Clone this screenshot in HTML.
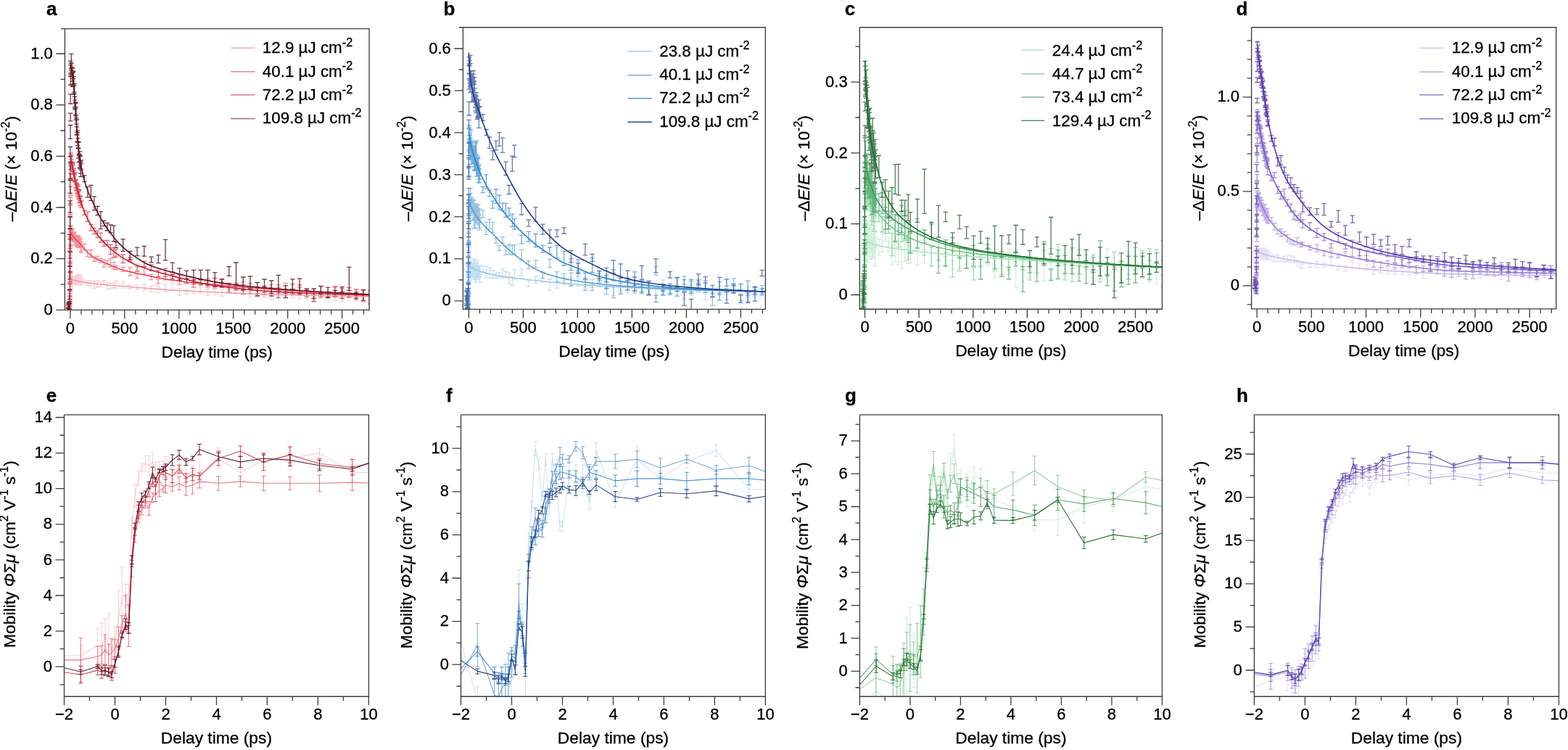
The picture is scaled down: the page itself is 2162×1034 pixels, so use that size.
<!DOCTYPE html>
<html><head><meta charset="utf-8"><title>Figure</title><style>html,body{margin:0;padding:0;background:#fff;overflow:hidden}svg{display:block}</style></head><body>
<svg width="2162" height="1034" viewBox="0 0 2162 1034" font-family="'Liberation Sans', Arial, Helvetica, sans-serif" font-size="22" fill="#000" stroke="#000" stroke-width="0.3">
<rect width="100%" height="100%" fill="#fff" stroke="none"/>
<defs><clipPath id="cpa"><rect stroke="none" x="89.4" y="39.6" width="419.7" height="387.8"/></clipPath><clipPath id="cpb"><rect stroke="none" x="638.4" y="37.7" width="417.0" height="388.6"/></clipPath><clipPath id="cpc"><rect stroke="none" x="1185.3" y="37.7" width="417.1" height="388.5"/></clipPath><clipPath id="cpd"><rect stroke="none" x="1725.6" y="37.7" width="420.0" height="388.2"/></clipPath><clipPath id="cpe"><rect stroke="none" x="88.5" y="571.8" width="419.9" height="388.4"/></clipPath><clipPath id="cpf"><rect stroke="none" x="635.5" y="571.8" width="419.9" height="388.4"/></clipPath><clipPath id="cpg"><rect stroke="none" x="1185.4" y="571.8" width="417.0" height="388.4"/></clipPath><clipPath id="cph"><rect stroke="none" x="1729.4" y="571.8" width="420.0" height="388.4"/></clipPath></defs>
<g clip-path="url(#cpa)">
<path d="M93.9,424.0V433.7M90.7,424.0h6.4M90.7,433.7h6.4M94.3,422.0V430.3M91.1,422.0h6.4M91.1,430.3h6.4M94.7,424.8V433.4M91.5,424.8h6.4M91.5,433.4h6.4M95.0,425.3V430.8M91.8,425.3h6.4M91.8,430.8h6.4M95.4,421.4V429.2M92.2,421.4h6.4M92.2,429.2h6.4M95.8,425.5V432.4M92.6,425.5h6.4M92.6,432.4h6.4M96.2,425.0V432.0M93.0,425.0h6.4M93.0,432.0h6.4M96.2,420.4V429.7M93.0,420.4h6.4M93.0,429.7h6.4M96.3,418.2V426.5M93.1,418.2h6.4M93.1,426.5h6.4M96.4,415.1V420.7M93.2,415.1h6.4M93.2,420.7h6.4M96.5,412.7V422.5M93.3,412.7h6.4M93.3,422.5h6.4M96.6,409.5V415.9M93.4,409.5h6.4M93.4,415.9h6.4M96.7,404.2V409.3M93.5,404.2h6.4M93.5,409.3h6.4M96.8,403.4V410.0M93.6,403.4h6.4M93.6,410.0h6.4M96.8,401.9V408.8M93.6,401.9h6.4M93.6,408.8h6.4M96.9,395.7V405.1M93.7,395.7h6.4M93.7,405.1h6.4M97.0,393.6V400.7M93.8,393.6h6.4M93.8,400.7h6.4M97.1,391.4V398.8M93.9,391.4h6.4M93.9,398.8h6.4M97.2,389.3V395.8M94.0,389.3h6.4M94.0,395.8h6.4M97.3,384.5V392.9M94.1,384.5h6.4M94.1,392.9h6.4M97.3,384.8V391.0M94.1,384.8h6.4M94.1,391.0h6.4M97.5,379.5V388.9M94.3,379.5h6.4M94.3,388.9h6.4M97.9,381.8V388.8M94.7,381.8h6.4M94.7,388.8h6.4M98.3,377.1V385.3M95.1,377.1h6.4M95.1,385.3h6.4M98.7,380.8V387.7M95.5,380.8h6.4M95.5,387.7h6.4M99.1,383.0V390.4M95.9,383.0h6.4M95.9,390.4h6.4M99.4,386.3V394.8M96.2,386.3h6.4M96.2,394.8h6.4M99.8,382.9V389.5M96.6,382.9h6.4M96.6,389.5h6.4M100.2,383.7V389.0M97.0,383.7h6.4M97.0,389.0h6.4M100.6,383.4V390.8M97.4,383.4h6.4M97.4,390.8h6.4M101.0,382.2V391.4M97.8,382.2h6.4M97.8,391.4h6.4M101.4,381.0V389.5M98.2,381.0h6.4M98.2,389.5h6.4M101.8,383.2V390.3M98.6,383.2h6.4M98.6,390.3h6.4M102.2,381.2V390.7M99.0,381.2h6.4M99.0,390.7h6.4M102.6,381.7V387.5M99.4,381.7h6.4M99.4,387.5h6.4M103.0,385.9V391.4M99.8,385.9h6.4M99.8,391.4h6.4M103.3,382.4V391.0M100.1,382.4h6.4M100.1,391.0h6.4M103.7,383.4V391.8M100.5,383.4h6.4M100.5,391.8h6.4M104.1,382.3V390.6M100.9,382.3h6.4M100.9,390.6h6.4M104.5,383.7V392.0M101.3,383.7h6.4M101.3,392.0h6.4M104.9,387.2V392.4M101.7,387.2h6.4M101.7,392.4h6.4M105.3,384.3V391.7M102.1,384.3h6.4M102.1,391.7h6.4M105.7,383.4V390.8M102.5,383.4h6.4M102.5,390.8h6.4M106.1,382.1V389.9M102.9,382.1h6.4M102.9,389.9h6.4M106.5,382.0V388.5M103.3,382.0h6.4M103.3,388.5h6.4M106.9,378.8V386.9M103.7,378.8h6.4M103.7,386.9h6.4M107.2,380.3V388.5M104.0,380.3h6.4M104.0,388.5h6.4M107.6,382.4V392.0M104.4,382.4h6.4M104.4,392.0h6.4M108.0,380.5V388.6M104.8,380.5h6.4M104.8,388.6h6.4M108.4,384.4V389.7M105.2,384.4h6.4M105.2,389.7h6.4M108.8,384.5V393.0M105.6,384.5h6.4M105.6,393.0h6.4M109.2,378.5V388.0M106.0,378.5h6.4M106.0,388.0h6.4M109.6,385.6V391.0M106.4,385.6h6.4M106.4,391.0h6.4M110.0,384.2V390.5M106.8,384.2h6.4M106.8,390.5h6.4M110.4,381.1V390.1M107.2,381.1h6.4M107.2,390.1h6.4M110.7,385.0V392.6M107.5,385.0h6.4M107.5,392.6h6.4M111.1,380.5V388.2M107.9,380.5h6.4M107.9,388.2h6.4M111.5,383.8V392.8M108.3,383.8h6.4M108.3,392.8h6.4M111.9,383.5V390.6M108.7,383.5h6.4M108.7,390.6h6.4M116.4,385.8V390.9M113.2,385.8h6.4M113.2,390.9h6.4M120.9,387.4V393.9M117.7,387.4h6.4M117.7,393.9h6.4M125.4,387.0V395.1M122.2,387.0h6.4M122.2,395.1h6.4M129.9,387.5V397.5M126.7,387.5h6.4M126.7,397.5h6.4M134.4,387.0V396.3M131.2,387.0h6.4M131.2,396.3h6.4M138.9,388.2V395.4M135.7,388.2h6.4M135.7,395.4h6.4M143.4,386.6V392.3M140.2,386.6h6.4M140.2,392.3h6.4M147.9,389.1V398.8M144.7,389.1h6.4M144.7,398.8h6.4M152.4,390.8V398.0M149.2,390.8h6.4M149.2,398.0h6.4M156.9,389.8V396.6M153.7,389.8h6.4M153.7,396.6h6.4M159.9,387.4V397.3M156.7,387.4h6.4M156.7,397.3h6.4M169.6,387.8V397.1M166.4,387.8h6.4M166.4,397.1h6.4M179.3,392.6V397.8M176.1,392.6h6.4M176.1,397.8h6.4M189.1,392.3V398.5M185.9,392.3h6.4M185.9,398.5h6.4M198.8,391.4V400.5M195.6,391.4h6.4M195.6,400.5h6.4M208.6,393.9V402.8M205.4,393.9h6.4M205.4,402.8h6.4M218.3,394.5V403.3M215.1,394.5h6.4M215.1,403.3h6.4M228.1,392.1V401.9M224.9,392.1h6.4M224.9,401.9h6.4M237.8,390.8V400.4M234.6,390.8h6.4M234.6,400.4h6.4M247.5,397.6V406.9M244.3,397.6h6.4M244.3,406.9h6.4M257.3,400.1V405.4M254.1,400.1h6.4M254.1,405.4h6.4M267.0,395.7V405.1M263.8,395.7h6.4M263.8,405.1h6.4M276.8,396.3V404.8M273.6,396.3h6.4M273.6,404.8h6.4M286.5,398.3V407.7M283.3,398.3h6.4M283.3,407.7h6.4M296.3,399.7V405.9M293.1,399.7h6.4M293.1,405.9h6.4M306.0,399.1V408.4M302.8,399.1h6.4M302.8,408.4h6.4M315.7,397.4V403.8M312.5,397.4h6.4M312.5,403.8h6.4M325.5,399.9V404.9M322.3,399.9h6.4M322.3,404.9h6.4M335.2,398.3V404.6M332.0,398.3h6.4M332.0,404.6h6.4M345.0,402.2V409.8M341.8,402.2h6.4M341.8,409.8h6.4M354.7,399.2V406.9M351.5,399.2h6.4M351.5,406.9h6.4M364.5,403.1V409.5M361.3,403.1h6.4M361.3,409.5h6.4M374.2,406.5V412.9M371.0,406.5h6.4M371.0,412.9h6.4M383.9,406.1V412.3M380.7,406.1h6.4M380.7,412.3h6.4M393.7,398.9V407.6M390.5,398.9h6.4M390.5,407.6h6.4M403.4,402.4V410.8M400.2,402.4h6.4M400.2,410.8h6.4M413.2,406.9V412.2M410.0,406.9h6.4M410.0,412.2h6.4M422.9,403.3V412.4M419.7,403.3h6.4M419.7,412.4h6.4M432.7,407.8V415.4M429.5,407.8h6.4M429.5,415.4h6.4M442.4,402.5V411.1M439.2,402.5h6.4M439.2,411.1h6.4M452.1,400.7V410.4M448.9,400.7h6.4M448.9,410.4h6.4M461.9,406.4V414.2M458.7,406.4h6.4M458.7,414.2h6.4M471.6,407.6V415.3M468.4,407.6h6.4M468.4,415.3h6.4M481.4,404.2V409.9M478.2,404.2h6.4M478.2,409.9h6.4M491.1,408.8V414.7M487.9,408.8h6.4M487.9,414.7h6.4M500.9,406.0V411.6M497.7,406.0h6.4M497.7,411.6h6.4M510.6,402.0V411.8M507.4,402.0h6.4M507.4,411.8h6.4" fill="none" stroke="#f0aab4" stroke-width="1.3" stroke-opacity="0.55"/>
<path d="M93.9,419.5V431.2M90.7,419.5h6.4M90.7,431.2h6.4M94.3,425.4V435.8M91.1,425.4h6.4M91.1,435.8h6.4M94.7,419.9V430.2M91.5,419.9h6.4M91.5,430.2h6.4M95.0,424.0V431.7M91.8,424.0h6.4M91.8,431.7h6.4M95.4,426.0V431.7M92.2,426.0h6.4M92.2,431.7h6.4M95.8,426.2V432.5M92.6,426.2h6.4M92.6,432.5h6.4M96.2,424.6V431.5M93.0,424.6h6.4M93.0,431.5h6.4M96.2,416.0V424.4M93.0,416.0h6.4M93.0,424.4h6.4M96.3,404.6V415.3M93.1,404.6h6.4M93.1,415.3h6.4M96.4,400.0V408.8M93.2,400.0h6.4M93.2,408.8h6.4M96.5,391.9V399.6M93.3,391.9h6.4M93.3,399.6h6.4M96.6,381.9V387.7M93.4,381.9h6.4M93.4,387.7h6.4M96.7,376.3V387.8M93.5,376.3h6.4M93.5,387.8h6.4M96.8,364.2V374.2M93.6,364.2h6.4M93.6,374.2h6.4M96.8,360.5V367.2M93.6,360.5h6.4M93.6,367.2h6.4M96.9,354.8V360.8M93.7,354.8h6.4M93.7,360.8h6.4M97.0,340.1V351.8M93.8,340.1h6.4M93.8,351.8h6.4M97.1,337.1V346.6M93.9,337.1h6.4M93.9,346.6h6.4M97.2,326.6V338.5M94.0,326.6h6.4M94.0,338.5h6.4M97.3,319.0V329.4M94.1,319.0h6.4M94.1,329.4h6.4M97.3,316.6V322.4M94.1,316.6h6.4M94.1,322.4h6.4M97.5,316.3V321.9M94.3,316.3h6.4M94.3,321.9h6.4M97.9,312.1V321.3M94.7,312.1h6.4M94.7,321.3h6.4M98.3,319.6V326.3M95.1,319.6h6.4M95.1,326.3h6.4M98.7,317.2V325.1M95.5,317.2h6.4M95.5,325.1h6.4M99.1,319.3V327.6M95.9,319.3h6.4M95.9,327.6h6.4M99.4,325.1V330.7M96.2,325.1h6.4M96.2,330.7h6.4M99.8,319.8V326.0M96.6,319.8h6.4M96.6,326.0h6.4M100.2,315.5V327.4M97.0,315.5h6.4M97.0,327.4h6.4M100.6,323.5V329.1M97.4,323.5h6.4M97.4,329.1h6.4M101.0,321.7V331.9M97.8,321.7h6.4M97.8,331.9h6.4M101.4,323.1V329.9M98.2,323.1h6.4M98.2,329.9h6.4M101.8,321.1V331.5M98.6,321.1h6.4M98.6,331.5h6.4M102.2,324.3V332.3M99.0,324.3h6.4M99.0,332.3h6.4M102.6,324.0V332.7M99.4,324.0h6.4M99.4,332.7h6.4M103.0,320.2V330.3M99.8,320.2h6.4M99.8,330.3h6.4M103.3,325.2V333.8M100.1,325.2h6.4M100.1,333.8h6.4M103.7,326.7V338.5M100.5,326.7h6.4M100.5,338.5h6.4M104.1,325.9V332.7M100.9,325.9h6.4M100.9,332.7h6.4M104.5,325.8V335.9M101.3,325.8h6.4M101.3,335.9h6.4M104.9,324.4V332.8M101.7,324.4h6.4M101.7,332.8h6.4M105.3,325.9V333.6M102.1,325.9h6.4M102.1,333.6h6.4M105.7,328.4V338.2M102.5,328.4h6.4M102.5,338.2h6.4M106.1,326.2V336.1M102.9,326.2h6.4M102.9,336.1h6.4M106.5,328.3V340.0M103.3,328.3h6.4M103.3,340.0h6.4M106.9,325.5V330.8M103.7,325.5h6.4M103.7,330.8h6.4M107.2,324.9V333.6M104.0,324.9h6.4M104.0,333.6h6.4M107.6,325.2V334.2M104.4,325.2h6.4M104.4,334.2h6.4M108.0,330.5V341.0M104.8,330.5h6.4M104.8,341.0h6.4M108.4,332.1V341.6M105.2,332.1h6.4M105.2,341.6h6.4M108.8,328.6V335.7M105.6,328.6h6.4M105.6,335.7h6.4M109.2,331.8V340.4M106.0,331.8h6.4M106.0,340.4h6.4M109.6,326.6V335.7M106.4,326.6h6.4M106.4,335.7h6.4M110.0,332.7V340.5M106.8,332.7h6.4M106.8,340.5h6.4M110.4,330.0V340.9M107.2,330.0h6.4M107.2,340.9h6.4M110.7,329.5V339.5M107.5,329.5h6.4M107.5,339.5h6.4M111.1,334.5V341.2M107.9,334.5h6.4M107.9,341.2h6.4M111.5,338.5V346.3M108.3,338.5h6.4M108.3,346.3h6.4M111.9,336.8V348.3M108.7,336.8h6.4M108.7,348.3h6.4M116.4,336.3V343.9M113.2,336.3h6.4M113.2,343.9h6.4M120.9,344.7V353.6M117.7,344.7h6.4M117.7,353.6h6.4M125.4,344.5V355.2M122.2,344.5h6.4M122.2,355.2h6.4M129.9,354.8V360.4M126.7,354.8h6.4M126.7,360.4h6.4M134.4,353.2V358.7M131.2,353.2h6.4M131.2,358.7h6.4M138.9,356.5V361.8M135.7,356.5h6.4M135.7,361.8h6.4M143.4,358.3V368.3M140.2,358.3h6.4M140.2,368.3h6.4M147.9,359.1V364.5M144.7,359.1h6.4M144.7,364.5h6.4M152.4,356.8V368.1M149.2,356.8h6.4M149.2,368.1h6.4M156.9,361.4V371.2M153.7,361.4h6.4M153.7,371.2h6.4M159.9,366.5V371.9M156.7,366.5h6.4M156.7,371.9h6.4M169.6,368.4V374.3M166.4,368.4h6.4M166.4,374.3h6.4M179.3,369.3V380.0M176.1,369.3h6.4M176.1,380.0h6.4M189.1,378.2V383.8M185.9,378.2h6.4M185.9,383.8h6.4M198.8,368.7V377.6M195.6,368.7h6.4M195.6,377.6h6.4M208.6,378.3V385.7M205.4,378.3h6.4M205.4,385.7h6.4M218.3,385.1V390.9M215.1,385.1h6.4M215.1,390.9h6.4M228.1,376.3V385.8M224.9,376.3h6.4M224.9,385.8h6.4M237.8,377.4V384.3M234.6,377.4h6.4M234.6,384.3h6.4M247.5,383.6V392.3M244.3,383.6h6.4M244.3,392.3h6.4M257.3,385.0V391.2M254.1,385.0h6.4M254.1,391.2h6.4M267.0,385.7V396.0M263.8,385.7h6.4M263.8,396.0h6.4M276.8,385.7V392.3M273.6,385.7h6.4M273.6,392.3h6.4M286.5,384.4V396.1M283.3,384.4h6.4M283.3,396.1h6.4M296.3,390.5V397.7M293.1,390.5h6.4M293.1,397.7h6.4M306.0,389.6V395.0M302.8,389.6h6.4M302.8,395.0h6.4M315.7,393.2V399.3M312.5,393.2h6.4M312.5,399.3h6.4M325.5,390.0V398.8M322.3,390.0h6.4M322.3,398.8h6.4M335.2,388.3V400.2M332.0,388.3h6.4M332.0,400.2h6.4M345.0,390.5V396.0M341.8,390.5h6.4M341.8,396.0h6.4M354.7,395.3V400.8M351.5,395.3h6.4M351.5,400.8h6.4M364.5,395.0V406.6M361.3,395.0h6.4M361.3,406.6h6.4M374.2,392.2V404.1M371.0,392.2h6.4M371.0,404.1h6.4M383.9,392.7V404.3M380.7,392.7h6.4M380.7,404.3h6.4M393.7,390.3V402.0M390.5,390.3h6.4M390.5,402.0h6.4M403.4,398.5V406.6M400.2,398.5h6.4M400.2,406.6h6.4M413.2,396.5V403.4M410.0,396.5h6.4M410.0,403.4h6.4M422.9,399.4V409.8M419.7,399.4h6.4M419.7,409.8h6.4M432.7,398.8V407.5M429.5,398.8h6.4M429.5,407.5h6.4M442.4,393.9V403.7M439.2,393.9h6.4M439.2,403.7h6.4M452.1,402.4V410.1M448.9,402.4h6.4M448.9,410.1h6.4M461.9,395.9V407.4M458.7,395.9h6.4M458.7,407.4h6.4M471.6,401.5V410.6M468.4,401.5h6.4M468.4,410.6h6.4M481.4,404.1V409.7M478.2,404.1h6.4M478.2,409.7h6.4M491.1,401.7V410.5M487.9,401.7h6.4M487.9,410.5h6.4M500.9,407.7V416.0M497.7,407.7h6.4M497.7,416.0h6.4M510.6,403.9V415.2M507.4,403.9h6.4M507.4,415.2h6.4" fill="none" stroke="#ec5466" stroke-width="1.3" stroke-opacity="0.65"/>
<path d="M93.9,421.7V429.2M90.7,421.7h6.4M90.7,429.2h6.4M94.3,424.9V430.2M91.1,424.9h6.4M91.1,430.2h6.4M94.7,420.1V432.9M91.5,420.1h6.4M91.5,432.9h6.4M95.0,421.8V431.1M91.8,421.8h6.4M91.8,431.1h6.4M95.4,417.9V430.7M92.2,417.9h6.4M92.2,430.7h6.4M95.8,426.0V432.2M92.6,426.0h6.4M92.6,432.2h6.4M96.2,422.1V434.5M93.0,422.1h6.4M93.0,434.5h6.4M96.2,407.9V418.7M93.0,407.9h6.4M93.0,418.7h6.4M96.3,391.0V400.8M93.1,391.0h6.4M93.1,400.8h6.4M96.4,375.5V389.1M93.2,375.5h6.4M93.2,389.1h6.4M96.5,362.4V374.3M93.3,362.4h6.4M93.3,374.3h6.4M96.6,348.2V356.3M93.4,348.2h6.4M93.4,356.3h6.4M96.7,330.4V342.3M93.5,330.4h6.4M93.5,342.3h6.4M96.8,314.7V328.4M93.6,314.7h6.4M93.6,328.4h6.4M96.8,299.5V311.3M93.6,299.5h6.4M93.6,311.3h6.4M96.9,282.5V295.8M93.7,282.5h6.4M93.7,295.8h6.4M97.0,271.8V280.4M93.8,271.8h6.4M93.8,280.4h6.4M97.1,257.2V269.2M93.9,257.2h6.4M93.9,269.2h6.4M97.2,239.5V247.6M94.0,239.5h6.4M94.0,247.6h6.4M97.3,228.7V233.9M94.1,228.7h6.4M94.1,233.9h6.4M97.3,215.5V226.4M94.1,215.5h6.4M94.1,226.4h6.4M97.5,211.2V224.7M94.3,211.2h6.4M94.3,224.7h6.4M97.9,215.3V228.9M94.7,215.3h6.4M94.7,228.9h6.4M98.3,213.6V222.7M95.1,213.6h6.4M95.1,222.7h6.4M98.7,219.8V233.1M95.5,219.8h6.4M95.5,233.1h6.4M99.1,224.7V233.6M95.9,224.7h6.4M95.9,233.6h6.4M99.4,225.9V239.3M96.2,225.9h6.4M96.2,239.3h6.4M99.8,226.2V240.1M96.6,226.2h6.4M96.6,240.1h6.4M100.2,224.7V235.1M97.0,224.7h6.4M97.0,235.1h6.4M100.6,223.9V236.2M97.4,223.9h6.4M97.4,236.2h6.4M101.0,228.1V240.4M97.8,228.1h6.4M97.8,240.4h6.4M101.4,234.5V245.2M98.2,234.5h6.4M98.2,245.2h6.4M101.8,232.2V239.6M98.6,232.2h6.4M98.6,239.6h6.4M102.2,240.3V248.0M99.0,240.3h6.4M99.0,248.0h6.4M102.6,237.7V249.3M99.4,237.7h6.4M99.4,249.3h6.4M103.0,240.8V251.0M99.8,240.8h6.4M99.8,251.0h6.4M103.3,238.0V250.7M100.1,238.0h6.4M100.1,250.7h6.4M103.7,238.0V247.6M100.5,238.0h6.4M100.5,247.6h6.4M104.1,248.1V259.1M100.9,248.1h6.4M100.9,259.1h6.4M104.5,247.7V259.6M101.3,247.7h6.4M101.3,259.6h6.4M104.9,248.5V254.4M101.7,248.5h6.4M101.7,254.4h6.4M105.3,252.2V262.9M102.1,252.2h6.4M102.1,262.9h6.4M105.7,254.6V262.0M102.5,254.6h6.4M102.5,262.0h6.4M106.1,253.2V266.3M102.9,253.2h6.4M102.9,266.3h6.4M106.5,253.8V266.6M103.3,253.8h6.4M103.3,266.6h6.4M106.9,255.3V268.8M103.7,255.3h6.4M103.7,268.8h6.4M107.2,260.7V271.3M104.0,260.7h6.4M104.0,271.3h6.4M107.6,257.4V265.6M104.4,257.4h6.4M104.4,265.6h6.4M108.0,255.4V268.8M104.8,255.4h6.4M104.8,268.8h6.4M108.4,263.9V274.7M105.2,263.9h6.4M105.2,274.7h6.4M108.8,262.7V271.7M105.6,262.7h6.4M105.6,271.7h6.4M109.2,261.3V273.5M106.0,261.3h6.4M106.0,273.5h6.4M109.6,273.7V279.9M106.4,273.7h6.4M106.4,279.9h6.4M110.0,270.0V279.4M106.8,270.0h6.4M106.8,279.4h6.4M110.4,270.9V276.9M107.2,270.9h6.4M107.2,276.9h6.4M110.7,277.0V283.5M107.5,277.0h6.4M107.5,283.5h6.4M111.1,270.5V278.7M107.9,270.5h6.4M107.9,278.7h6.4M111.5,276.6V283.3M108.3,276.6h6.4M108.3,283.3h6.4M111.9,276.9V286.4M108.7,276.9h6.4M108.7,286.4h6.4M116.4,289.9V296.2M113.2,289.9h6.4M113.2,296.2h6.4M120.9,291.9V305.5M117.7,291.9h6.4M117.7,305.5h6.4M125.4,309.5V318.2M122.2,309.5h6.4M122.2,318.2h6.4M129.9,314.4V322.6M126.7,314.4h6.4M126.7,322.6h6.4M134.4,318.3V327.7M131.2,318.3h6.4M131.2,327.7h6.4M138.9,321.2V334.0M135.7,321.2h6.4M135.7,334.0h6.4M143.4,331.8V339.4M140.2,331.8h6.4M140.2,339.4h6.4M147.9,331.3V337.3M144.7,331.3h6.4M144.7,337.3h6.4M152.4,337.5V350.4M149.2,337.5h6.4M149.2,350.4h6.4M156.9,341.7V355.1M153.7,341.7h6.4M153.7,355.1h6.4M159.9,344.2V354.2M156.7,344.2h6.4M156.7,354.2h6.4M169.6,351.0V362.5M166.4,351.0h6.4M166.4,362.5h6.4M179.3,355.0V360.7M176.1,355.0h6.4M176.1,360.7h6.4M189.1,367.3V374.0M185.9,367.3h6.4M185.9,374.0h6.4M198.8,360.2V367.4M195.6,360.2h6.4M195.6,367.4h6.4M208.6,364.9V373.4M205.4,364.9h6.4M205.4,373.4h6.4M218.3,372.8V381.3M215.1,372.8h6.4M215.1,381.3h6.4M228.1,370.2V381.6M224.9,370.2h6.4M224.9,381.6h6.4M237.8,378.7V385.1M234.6,378.7h6.4M234.6,385.1h6.4M247.5,378.7V385.9M244.3,378.7h6.4M244.3,385.9h6.4M257.3,384.3V389.8M254.1,384.3h6.4M254.1,389.8h6.4M267.0,385.9V391.6M263.8,385.9h6.4M263.8,391.6h6.4M276.8,384.5V392.8M273.6,384.5h6.4M273.6,392.8h6.4M286.5,386.5V394.1M283.3,386.5h6.4M283.3,394.1h6.4M296.3,383.5V395.4M293.1,383.5h6.4M293.1,395.4h6.4M306.0,384.5V395.9M302.8,384.5h6.4M302.8,395.9h6.4M315.7,390.5V402.9M312.5,390.5h6.4M312.5,402.9h6.4M325.5,393.0V399.9M322.3,393.0h6.4M322.3,399.9h6.4M335.2,392.8V405.5M332.0,392.8h6.4M332.0,405.5h6.4M345.0,398.2V405.1M341.8,398.2h6.4M341.8,405.1h6.4M354.7,395.6V405.0M351.5,395.6h6.4M351.5,405.0h6.4M364.5,394.5V403.1M361.3,394.5h6.4M361.3,403.1h6.4M374.2,396.9V404.3M371.0,396.9h6.4M371.0,404.3h6.4M383.9,396.8V410.3M380.7,396.8h6.4M380.7,410.3h6.4M393.7,398.8V404.4M390.5,398.8h6.4M390.5,404.4h6.4M403.4,391.9V405.0M400.2,391.9h6.4M400.2,405.0h6.4M413.2,392.9V406.8M410.0,392.9h6.4M410.0,406.8h6.4M422.9,399.9V407.7M419.7,399.9h6.4M419.7,407.7h6.4M432.7,402.2V415.5M429.5,402.2h6.4M429.5,415.5h6.4M442.4,403.1V409.7M439.2,403.1h6.4M439.2,409.7h6.4M452.1,404.2V409.2M448.9,404.2h6.4M448.9,409.2h6.4M461.9,395.0V408.8M458.7,395.0h6.4M458.7,408.8h6.4M471.6,397.9V411.6M468.4,397.9h6.4M468.4,411.6h6.4M481.4,396.7V409.8M478.2,396.7h6.4M478.2,409.8h6.4M491.1,398.9V407.7M487.9,398.9h6.4M487.9,407.7h6.4M500.9,399.7V408.7M497.7,399.7h6.4M497.7,408.7h6.4M510.6,400.3V408.8M507.4,400.3h6.4M507.4,408.8h6.4" fill="none" stroke="#cc2434" stroke-width="1.3" stroke-opacity="0.7"/>
<path d="M93.9,424.3V435.6M90.7,424.3h6.4M90.7,435.6h6.4M94.3,416.8V425.6M91.1,416.8h6.4M91.1,425.6h6.4M94.7,418.7V429.5M91.5,418.7h6.4M91.5,429.5h6.4M95.0,419.2V440.8M91.8,419.2h6.4M91.8,440.8h6.4M95.4,419.0V442.2M92.2,419.0h6.4M92.2,442.2h6.4M95.8,418.3V439.3M92.6,418.3h6.4M92.6,439.3h6.4M96.2,415.7V438.8M93.0,415.7h6.4M93.0,438.8h6.4M96.2,399.0V412.5M93.0,399.0h6.4M93.0,412.5h6.4M96.3,367.3V384.9M93.1,367.3h6.4M93.1,384.9h6.4M96.4,346.6V366.9M93.2,346.6h6.4M93.2,366.9h6.4M96.5,323.3V346.4M93.3,323.3h6.4M93.3,346.4h6.4M96.6,298.5V315.7M93.4,298.5h6.4M93.4,315.7h6.4M96.7,276.8V293.2M93.5,276.8h6.4M93.5,293.2h6.4M96.8,248.7V266.4M93.6,248.7h6.4M93.6,266.4h6.4M96.8,223.7V246.3M93.6,223.7h6.4M93.6,246.3h6.4M96.9,202.5V215.8M93.7,202.5h6.4M93.7,215.8h6.4M97.0,172.5V191.4M93.8,172.5h6.4M93.8,191.4h6.4M97.1,156.2V166.9M93.9,156.2h6.4M93.9,166.9h6.4M97.2,129.8V143.0M94.0,129.8h6.4M94.0,143.0h6.4M97.3,100.6V117.0M94.1,100.6h6.4M94.1,117.0h6.4M97.3,84.1V105.5M94.1,84.1h6.4M94.1,105.5h6.4M97.5,89.7V102.8M94.3,89.7h6.4M94.3,102.8h6.4M97.9,87.3V94.6M94.7,87.3h6.4M94.7,94.6h6.4M98.3,74.1V97.2M95.1,74.1h6.4M95.1,97.2h6.4M98.7,86.8V105.9M95.5,86.8h6.4M95.5,105.9h6.4M99.1,93.0V105.8M95.9,93.0h6.4M95.9,105.8h6.4M99.4,92.5V101.4M96.2,92.5h6.4M96.2,101.4h6.4M99.8,94.7V111.9M96.6,94.7h6.4M96.6,111.9h6.4M100.2,100.0V118.7M97.0,100.0h6.4M97.0,118.7h6.4M100.6,99.0V119.5M97.4,99.0h6.4M97.4,119.5h6.4M101.0,108.5V117.8M97.8,108.5h6.4M97.8,117.8h6.4M101.4,98.1V115.8M98.2,98.1h6.4M98.2,115.8h6.4M101.8,105.7V129.1M98.6,105.7h6.4M98.6,129.1h6.4M102.2,118.2V130.0M99.0,118.2h6.4M99.0,130.0h6.4M102.6,115.4V126.8M99.4,115.4h6.4M99.4,126.8h6.4M103.0,133.3V147.7M99.8,133.3h6.4M99.8,147.7h6.4M103.3,138.1V149.7M100.1,138.1h6.4M100.1,149.7h6.4M103.7,140.9V150.6M100.5,140.9h6.4M100.5,150.6h6.4M104.1,142.3V158.1M100.9,142.3h6.4M100.9,158.1h6.4M104.5,141.7V159.9M101.3,141.7h6.4M101.3,159.9h6.4M104.9,147.9V165.3M101.7,147.9h6.4M101.7,165.3h6.4M105.3,162.6V171.1M102.1,162.6h6.4M102.1,171.1h6.4M105.7,165.0V186.0M102.5,165.0h6.4M102.5,186.0h6.4M106.1,174.9V182.2M102.9,174.9h6.4M102.9,182.2h6.4M106.5,185.5V195.2M103.3,185.5h6.4M103.3,195.2h6.4M106.9,182.7V196.3M103.7,182.7h6.4M103.7,196.3h6.4M107.2,179.9V200.9M104.0,179.9h6.4M104.0,200.9h6.4M107.6,190.6V203.7M104.4,190.6h6.4M104.4,203.7h6.4M108.0,196.4V217.9M104.8,196.4h6.4M104.8,217.9h6.4M108.4,195.3V204.9M105.2,195.3h6.4M105.2,204.9h6.4M108.8,214.2V223.4M105.6,214.2h6.4M105.6,223.4h6.4M109.2,212.4V223.8M106.0,212.4h6.4M106.0,223.8h6.4M109.6,213.6V230.8M106.4,213.6h6.4M106.4,230.8h6.4M110.0,208.9V222.6M106.8,208.9h6.4M106.8,222.6h6.4M110.4,214.3V232.5M107.2,214.3h6.4M107.2,232.5h6.4M110.7,215.6V227.4M107.5,215.6h6.4M107.5,227.4h6.4M111.1,222.5V239.2M107.9,222.5h6.4M107.9,239.2h6.4M111.5,220.9V243.5M108.3,220.9h6.4M108.3,243.5h6.4M111.9,224.8V234.2M108.7,224.8h6.4M108.7,234.2h6.4M116.4,241.9V250.3M113.2,241.9h6.4M113.2,250.3h6.4M120.9,257.3V272.1M117.7,257.3h6.4M117.7,272.1h6.4M125.4,255.4V276.6M122.2,255.4h6.4M122.2,276.6h6.4M129.9,270.9V289.9M126.7,270.9h6.4M126.7,289.9h6.4M134.4,284.5V296.6M131.2,284.5h6.4M131.2,296.6h6.4M138.9,291.6V315.6M135.7,291.6h6.4M135.7,315.6h6.4M143.4,304.2V311.7M140.2,304.2h6.4M140.2,311.7h6.4M147.9,307.5V318.0M144.7,307.5h6.4M144.7,318.0h6.4M152.4,309.8V320.6M149.2,309.8h6.4M149.2,320.6h6.4M156.9,311.2V332.6M153.7,311.2h6.4M153.7,332.6h6.4M159.9,333.7V341.6M156.7,333.7h6.4M156.7,341.6h6.4M169.6,329.7V346.3M166.4,329.7h6.4M166.4,346.3h6.4M179.3,346.4V358.0M176.1,346.4h6.4M176.1,358.0h6.4M189.1,341.1V352.6M185.9,341.1h6.4M185.9,352.6h6.4M198.8,339.3V353.1M195.6,339.3h6.4M195.6,353.1h6.4M208.6,354.2V361.8M205.4,354.2h6.4M205.4,361.8h6.4M218.3,351.7V362.6M215.1,351.7h6.4M215.1,362.6h6.4M228.1,330.4V358.9M224.9,330.4h6.4M224.9,358.9h6.4M237.8,362.2V375.1M234.6,362.2h6.4M234.6,375.1h6.4M247.5,369.8V386.8M244.3,369.8h6.4M244.3,386.8h6.4M257.3,373.4V384.4M254.1,373.4h6.4M254.1,384.4h6.4M267.0,372.4V389.9M263.8,372.4h6.4M263.8,389.9h6.4M276.8,372.3V385.5M273.6,372.3h6.4M273.6,385.5h6.4M286.5,372.3V392.5M283.3,372.3h6.4M283.3,392.5h6.4M296.3,375.6V395.2M293.1,375.6h6.4M293.1,395.2h6.4M306.0,385.1V395.9M302.8,385.1h6.4M302.8,395.9h6.4M315.7,367.7V380.3M312.5,367.7h6.4M312.5,380.3h6.4M325.5,362.0V392.2M322.3,362.0h6.4M322.3,392.2h6.4M335.2,382.0V399.8M332.0,382.0h6.4M332.0,399.8h6.4M345.0,380.9V397.8M341.8,380.9h6.4M341.8,397.8h6.4M354.7,389.5V408.0M351.5,389.5h6.4M351.5,408.0h6.4M364.5,385.0V396.3M361.3,385.0h6.4M361.3,396.3h6.4M374.2,387.0V408.2M371.0,387.0h6.4M371.0,408.2h6.4M383.9,379.4V402.0M380.7,379.4h6.4M380.7,402.0h6.4M393.7,393.8V410.5M390.5,393.8h6.4M390.5,410.5h6.4M403.4,384.9V399.1M400.2,384.9h6.4M400.2,399.1h6.4M413.2,384.1V405.0M410.0,384.1h6.4M410.0,405.0h6.4M422.9,397.8V407.7M419.7,397.8h6.4M419.7,407.7h6.4M432.7,397.9V411.7M429.5,397.9h6.4M429.5,411.7h6.4M442.4,394.9V405.9M439.2,394.9h6.4M439.2,405.9h6.4M452.1,396.2V410.5M448.9,396.2h6.4M448.9,410.5h6.4M461.9,400.4V408.9M458.7,400.4h6.4M458.7,408.9h6.4M471.6,395.7V403.2M468.4,395.7h6.4M468.4,403.2h6.4M481.4,368.4V400.4M478.2,368.4h6.4M478.2,400.4h6.4M491.1,403.6V412.2M487.9,403.6h6.4M487.9,412.2h6.4M500.9,399.7V414.2M497.7,399.7h6.4M497.7,414.2h6.4M510.6,407.5V418.9M507.4,407.5h6.4M507.4,418.9h6.4" fill="none" stroke="#5a1422" stroke-width="1.3" stroke-opacity="0.85"/>
<polyline points="96.9,385.7 97.4,385.7 97.9,385.7 98.4,385.8 98.9,385.9 99.4,385.9 99.9,386.0 100.5,386.1 101.0,386.2 101.5,386.3 102.0,386.4 102.5,386.5 103.0,386.6 103.5,386.7 104.0,386.8 104.5,386.9 105.0,387.0 105.5,387.1 106.0,387.2 106.6,387.3 107.1,387.4 107.6,387.5 108.1,387.6 108.6,387.7 109.1,387.8 109.6,387.9 110.1,388.0 110.6,388.1 111.1,388.2 111.6,388.3 112.1,388.4 112.7,388.5 113.2,388.6 113.7,388.7 114.2,388.8 114.7,388.9 115.2,389.0 115.7,389.0 116.2,389.1 116.7,389.2 117.2,389.3 117.7,389.4 118.2,389.4 118.7,389.5 119.3,389.6 119.8,389.7 120.3,389.8 120.8,389.8 121.3,389.9 121.8,390.0 122.3,390.0 122.8,390.1 123.3,390.2 123.8,390.3 124.3,390.3 124.8,390.4 125.4,390.5 125.9,390.5 126.4,390.6 126.9,390.7 126.9,390.7 130.2,391.1 133.4,391.4 136.7,391.8 140.0,392.1 143.3,392.4 146.5,392.7 149.8,393.0 153.1,393.3 156.4,393.5 159.6,393.8 162.9,394.0 166.2,394.3 169.5,394.5 172.7,394.8 176.0,395.1 179.3,395.4 182.6,395.7 185.8,396.0 189.1,396.3 192.4,396.5 195.7,396.8 198.9,397.1 202.2,397.4 205.5,397.6 208.8,397.9 212.0,398.2 215.3,398.4 218.6,398.7 221.9,398.9 225.1,399.1 228.4,399.3 231.7,399.6 234.9,399.8 238.2,400.0 241.5,400.2 244.8,400.4 248.0,400.6 251.3,400.7 254.6,400.9 257.9,401.1 261.1,401.3 264.4,401.4 267.7,401.6 271.0,401.7 274.2,401.9 277.5,402.1 280.8,402.2 284.1,402.4 287.3,402.5 290.6,402.7 293.9,402.8 297.2,403.0 300.4,403.1 303.7,403.3 307.0,403.4 310.3,403.5 313.5,403.7 316.8,403.8 320.1,403.9 323.4,404.1 326.6,404.2 329.9,404.3 333.2,404.4 336.5,404.6 339.7,404.7 343.0,404.8 346.3,404.9 349.6,405.0 352.8,405.1 356.1,405.3 359.4,405.4 362.7,405.5 365.9,405.6 369.2,405.7 372.5,405.8 375.8,405.9 379.0,406.0 382.3,406.1 385.6,406.2 388.9,406.3 392.1,406.4 395.4,406.4 398.7,406.5 402.0,406.6 405.2,406.7 408.5,406.8 411.8,406.9 415.1,407.0 418.3,407.0 421.6,407.1 424.9,407.2 428.2,407.3 431.4,407.4 434.7,407.4 438.0,407.5 441.3,407.6 444.5,407.7 447.8,407.7 451.1,407.8 454.4,407.9 457.6,408.0 460.9,408.0 464.2,408.1 467.5,408.2 470.7,408.2 474.0,408.3 477.3,408.4 480.6,408.4 483.8,408.5 487.1,408.6 490.4,408.6 493.7,408.7 496.9,408.8 500.2,408.8 503.5,408.9 506.8,409.0 510.0,409.0 513.3,409.1 516.6,409.1" fill="none" stroke="#eaa0aa" stroke-width="1.6" stroke-opacity="1.0" stroke-linejoin="round"/>
<polyline points="96.9,317.8 97.4,319.2 97.9,320.5 98.4,321.6 98.9,322.7 99.4,323.6 99.9,324.5 100.5,325.4 101.0,326.2 101.5,326.9 102.0,327.6 102.5,328.2 103.0,328.8 103.5,329.3 104.0,329.8 104.5,330.3 105.0,330.7 105.5,331.2 106.0,331.7 106.6,332.1 107.1,332.6 107.6,333.1 108.1,333.5 108.6,334.0 109.1,334.6 109.6,335.1 110.1,335.7 110.6,336.3 111.1,336.9 111.6,337.6 112.1,338.3 112.7,338.9 113.2,339.6 113.7,340.3 114.2,341.0 114.7,341.6 115.2,342.3 115.7,342.9 116.2,343.5 116.7,344.1 117.2,344.7 117.7,345.3 118.2,345.8 118.7,346.3 119.3,346.8 119.8,347.3 120.3,347.7 120.8,348.2 121.3,348.6 121.8,349.1 122.3,349.5 122.8,349.9 123.3,350.3 123.8,350.7 124.3,351.1 124.8,351.5 125.4,351.9 125.9,352.3 126.4,352.7 126.9,353.0 126.9,353.0 130.2,355.2 133.4,357.0 136.7,358.7 140.0,360.2 143.3,361.7 146.5,363.1 149.8,364.6 153.1,366.0 156.4,367.5 159.6,368.8 162.9,370.1 166.2,371.2 169.5,372.2 172.7,373.1 176.0,373.9 179.3,374.7 182.6,375.4 185.8,376.1 189.1,376.8 192.4,377.5 195.7,378.2 198.9,378.9 202.2,379.7 205.5,380.4 208.8,381.1 212.0,381.8 215.3,382.5 218.6,383.1 221.9,383.7 225.1,384.3 228.4,384.9 231.7,385.4 234.9,385.9 238.2,386.4 241.5,386.8 244.8,387.3 248.0,387.7 251.3,388.1 254.6,388.5 257.9,388.8 261.1,389.2 264.4,389.5 267.7,389.8 271.0,390.2 274.2,390.5 277.5,390.8 280.8,391.1 284.1,391.4 287.3,391.7 290.6,392.0 293.9,392.3 297.2,392.6 300.4,392.9 303.7,393.2 307.0,393.5 310.3,393.7 313.5,394.0 316.8,394.3 320.1,394.6 323.4,394.9 326.6,395.1 329.9,395.4 333.2,395.7 336.5,395.9 339.7,396.2 343.0,396.5 346.3,396.7 349.6,397.0 352.8,397.2 356.1,397.5 359.4,397.7 362.7,397.9 365.9,398.2 369.2,398.4 372.5,398.7 375.8,398.9 379.0,399.1 382.3,399.3 385.6,399.6 388.9,399.8 392.1,400.0 395.4,400.2 398.7,400.4 402.0,400.6 405.2,400.8 408.5,401.0 411.8,401.2 415.1,401.4 418.3,401.6 421.6,401.8 424.9,402.0 428.2,402.2 431.4,402.4 434.7,402.6 438.0,402.8 441.3,403.0 444.5,403.2 447.8,403.4 451.1,403.5 454.4,403.7 457.6,403.9 460.9,404.1 464.2,404.2 467.5,404.4 470.7,404.6 474.0,404.8 477.3,404.9 480.6,405.1 483.8,405.3 487.1,405.4 490.4,405.6 493.7,405.8 496.9,405.9 500.2,406.1 503.5,406.2 506.8,406.4 510.0,406.5 513.3,406.7 516.6,406.8" fill="none" stroke="#e8485a" stroke-width="1.6" stroke-opacity="1.0" stroke-linejoin="round"/>
<polyline points="96.9,215.4 97.4,217.8 97.9,220.3 98.4,222.8 98.9,225.3 99.4,227.8 99.9,230.3 100.5,232.7 101.0,235.2 101.5,237.6 102.0,240.1 102.5,242.5 103.0,244.9 103.5,247.3 104.0,249.6 104.5,251.9 105.0,254.2 105.5,256.4 106.0,258.5 106.6,260.6 107.1,262.6 107.6,264.5 108.1,266.4 108.6,268.2 109.1,270.0 109.6,271.7 110.1,273.4 110.6,275.1 111.1,276.8 111.6,278.4 112.1,280.0 112.7,281.6 113.2,283.1 113.7,284.6 114.2,286.1 114.7,287.5 115.2,288.9 115.7,290.3 116.2,291.6 116.7,292.9 117.2,294.1 117.7,295.4 118.2,296.5 118.7,297.7 119.3,298.7 119.8,299.8 120.3,300.8 120.8,301.9 121.3,302.8 121.8,303.8 122.3,304.8 122.8,305.7 123.3,306.6 123.8,307.5 124.3,308.4 124.8,309.2 125.4,310.1 125.9,310.9 126.4,311.7 126.9,312.6 126.9,312.6 130.2,317.6 133.4,322.2 136.7,326.4 140.0,330.3 143.3,333.9 146.5,337.3 149.8,340.4 153.1,343.3 156.4,346.1 159.6,348.8 162.9,351.2 166.2,353.5 169.5,355.6 172.7,357.6 176.0,359.5 179.3,361.3 182.6,363.0 185.8,364.5 189.1,365.8 192.4,367.1 195.7,368.2 198.9,369.3 202.2,370.4 205.5,371.4 208.8,372.4 212.0,373.4 215.3,374.4 218.6,375.3 221.9,376.2 225.1,377.2 228.4,378.0 231.7,378.9 234.9,379.7 238.2,380.6 241.5,381.4 244.8,382.2 248.0,383.1 251.3,383.9 254.6,384.8 257.9,385.7 261.1,386.5 264.4,387.4 267.7,388.1 271.0,388.9 274.2,389.6 277.5,390.2 280.8,390.9 284.1,391.4 287.3,392.0 290.6,392.6 293.9,393.1 297.2,393.6 300.4,394.1 303.7,394.6 307.0,395.0 310.3,395.5 313.5,395.9 316.8,396.3 320.1,396.7 323.4,397.1 326.6,397.5 329.9,397.9 333.2,398.3 336.5,398.6 339.7,399.0 343.0,399.3 346.3,399.6 349.6,399.9 352.8,400.2 356.1,400.5 359.4,400.7 362.7,401.0 365.9,401.2 369.2,401.4 372.5,401.6 375.8,401.9 379.0,402.1 382.3,402.3 385.6,402.4 388.9,402.6 392.1,402.8 395.4,403.0 398.7,403.1 402.0,403.3 405.2,403.5 408.5,403.6 411.8,403.8 415.1,403.9 418.3,404.0 421.6,404.2 424.9,404.3 428.2,404.4 431.4,404.6 434.7,404.7 438.0,404.8 441.3,404.9 444.5,405.1 447.8,405.2 451.1,405.3 454.4,405.4 457.6,405.5 460.9,405.6 464.2,405.7 467.5,405.8 470.7,405.9 474.0,406.0 477.3,406.1 480.6,406.2 483.8,406.3 487.1,406.3 490.4,406.4 493.7,406.5 496.9,406.6 500.2,406.7 503.5,406.7 506.8,406.8 510.0,406.9 513.3,407.0 516.6,407.0" fill="none" stroke="#c41e30" stroke-width="1.6" stroke-opacity="1.0" stroke-linejoin="round"/>
<polyline points="96.9,89.9 97.4,90.6 97.9,92.2 98.4,94.4 98.9,97.0 99.4,99.8 99.9,102.6 100.5,106.3 101.0,111.2 101.5,116.9 102.0,123.0 102.5,129.2 103.0,135.3 103.5,142.7 104.0,150.8 104.5,158.5 105.0,165.6 105.5,172.5 106.0,179.1 106.6,185.4 107.1,191.4 107.6,196.9 108.1,202.0 108.6,206.7 109.1,211.0 109.6,214.8 110.1,218.4 110.6,221.6 111.1,224.7 111.6,227.6 112.1,230.3 112.7,232.9 113.2,235.4 113.7,237.7 114.2,240.0 114.7,242.2 115.2,244.3 115.7,246.3 116.2,248.2 116.7,250.0 117.2,251.7 117.7,253.3 118.2,254.9 118.7,256.5 119.3,257.9 119.8,259.4 120.3,260.8 120.8,262.1 121.3,263.5 121.8,264.8 122.3,266.0 122.8,267.3 123.3,268.5 123.8,269.7 124.3,270.9 124.8,272.1 125.4,273.3 125.9,274.4 126.4,275.6 126.9,276.7 126.9,276.7 130.2,284.0 133.4,290.7 136.7,297.0 140.0,302.8 143.3,308.2 146.5,313.2 149.8,317.9 153.1,322.3 156.4,326.6 159.6,330.5 162.9,334.2 166.2,337.6 169.5,340.7 172.7,343.6 176.0,346.3 179.3,348.9 182.6,351.4 185.8,353.7 189.1,355.9 192.4,358.0 195.7,360.1 198.9,362.0 202.2,363.8 205.5,365.3 208.8,366.7 212.0,367.9 215.3,369.1 218.6,370.1 221.9,371.1 225.1,372.1 228.4,373.0 231.7,373.8 234.9,374.7 238.2,375.5 241.5,376.4 244.8,377.2 248.0,378.1 251.3,378.9 254.6,379.7 257.9,380.6 261.1,381.4 264.4,382.1 267.7,382.9 271.0,383.6 274.2,384.4 277.5,385.1 280.8,385.7 284.1,386.4 287.3,387.0 290.6,387.6 293.9,388.2 297.2,388.8 300.4,389.4 303.7,389.9 307.0,390.4 310.3,390.9 313.5,391.4 316.8,391.8 320.1,392.2 323.4,392.7 326.6,393.1 329.9,393.4 333.2,393.8 336.5,394.2 339.7,394.5 343.0,394.9 346.3,395.2 349.6,395.5 352.8,395.8 356.1,396.2 359.4,396.5 362.7,396.7 365.9,397.0 369.2,397.3 372.5,397.6 375.8,397.9 379.0,398.1 382.3,398.4 385.6,398.6 388.9,398.9 392.1,399.1 395.4,399.4 398.7,399.6 402.0,399.9 405.2,400.1 408.5,400.3 411.8,400.5 415.1,400.8 418.3,401.0 421.6,401.2 424.9,401.4 428.2,401.6 431.4,401.8 434.7,402.0 438.0,402.2 441.3,402.4 444.5,402.6 447.8,402.8 451.1,403.0 454.4,403.1 457.6,403.3 460.9,403.5 464.2,403.7 467.5,403.8 470.7,404.0 474.0,404.2 477.3,404.3 480.6,404.5 483.8,404.6 487.1,404.8 490.4,404.9 493.7,405.1 496.9,405.2 500.2,405.4 503.5,405.5 506.8,405.7 510.0,405.8 513.3,406.0 516.6,406.1" fill="none" stroke="#5e1222" stroke-width="1.6" stroke-opacity="1.0" stroke-linejoin="round"/>
</g>
<g clip-path="url(#cpb)">
<path d="M643.4,410.3V418.6M640.2,410.3h6.4M640.2,418.6h6.4M643.8,412.7V418.9M640.6,412.7h6.4M640.6,418.9h6.4M644.1,409.1V420.9M640.9,409.1h6.4M640.9,420.9h6.4M644.5,409.2V418.8M641.3,409.2h6.4M641.3,418.8h6.4M644.9,408.6V421.1M641.7,408.6h6.4M641.7,421.1h6.4M645.3,408.8V424.4M642.1,408.8h6.4M642.1,424.4h6.4M645.6,404.1V417.9M642.4,404.1h6.4M642.4,417.9h6.4M645.7,407.3V418.7M642.5,407.3h6.4M642.5,418.7h6.4M645.8,410.8V419.4M642.6,410.8h6.4M642.6,419.4h6.4M645.9,401.0V412.8M642.7,401.0h6.4M642.7,412.8h6.4M646.0,397.1V412.0M642.8,397.1h6.4M642.8,412.0h6.4M646.1,390.5V403.7M642.9,390.5h6.4M642.9,403.7h6.4M646.2,389.4V397.0M643.0,389.4h6.4M643.0,397.0h6.4M646.2,387.6V400.9M643.0,387.6h6.4M643.0,400.9h6.4M646.3,382.0V392.8M643.1,382.0h6.4M643.1,392.8h6.4M646.4,378.7V386.2M643.2,378.7h6.4M643.2,386.2h6.4M646.5,374.0V380.9M643.3,374.0h6.4M643.3,380.9h6.4M646.6,372.5V387.5M643.4,372.5h6.4M643.4,387.5h6.4M646.7,369.4V378.6M643.5,369.4h6.4M643.5,378.6h6.4M646.8,362.3V371.0M643.6,362.3h6.4M643.6,371.0h6.4M646.9,360.4V371.2M643.6,360.4h6.4M643.6,371.2h6.4M647.0,367.1V376.2M643.8,367.1h6.4M643.8,376.2h6.4M647.4,361.5V368.3M644.2,361.5h6.4M644.2,368.3h6.4M647.8,357.1V365.5M644.6,357.1h6.4M644.6,365.5h6.4M648.2,366.4V374.4M645.0,366.4h6.4M645.0,374.4h6.4M648.6,366.8V373.7M645.4,366.8h6.4M645.4,373.7h6.4M648.9,360.2V368.1M645.7,360.2h6.4M645.7,368.1h6.4M649.3,371.1V377.2M646.1,371.1h6.4M646.1,377.2h6.4M649.7,365.2V380.6M646.5,365.2h6.4M646.5,380.6h6.4M650.1,366.6V378.3M646.9,366.6h6.4M646.9,378.3h6.4M650.5,371.8V382.1M647.3,371.8h6.4M647.3,382.1h6.4M650.9,360.2V375.2M647.7,360.2h6.4M647.7,375.2h6.4M651.3,369.4V382.6M648.1,369.4h6.4M648.1,382.6h6.4M651.7,363.2V377.4M648.5,363.2h6.4M648.5,377.4h6.4M652.1,363.3V373.2M648.9,363.3h6.4M648.9,373.2h6.4M652.5,370.0V377.6M649.3,370.0h6.4M649.3,377.6h6.4M652.9,362.8V374.0M649.6,362.8h6.4M649.6,374.0h6.4M653.2,371.8V385.6M650.0,371.8h6.4M650.0,385.6h6.4M653.6,357.0V371.3M650.4,357.0h6.4M650.4,371.3h6.4M654.0,366.7V376.7M650.8,366.7h6.4M650.8,376.7h6.4M654.4,370.1V380.4M651.2,370.1h6.4M651.2,380.4h6.4M654.8,359.4V368.7M651.6,359.4h6.4M651.6,368.7h6.4M655.2,372.4V385.3M652.0,372.4h6.4M652.0,385.3h6.4M655.6,371.7V378.4M652.4,371.7h6.4M652.4,378.4h6.4M656.0,373.1V383.8M652.8,373.1h6.4M652.8,383.8h6.4M656.4,374.3V388.5M653.2,374.3h6.4M653.2,388.5h6.4M656.8,362.8V378.3M653.5,362.8h6.4M653.5,378.3h6.4M657.1,361.9V375.7M653.9,361.9h6.4M653.9,375.7h6.4M657.5,369.6V382.3M654.3,369.6h6.4M654.3,382.3h6.4M657.9,358.8V370.7M654.7,358.8h6.4M654.7,370.7h6.4M658.3,368.3V377.6M655.1,368.3h6.4M655.1,377.6h6.4M658.7,370.2V384.8M655.5,370.2h6.4M655.5,384.8h6.4M659.1,370.1V378.4M655.9,370.1h6.4M655.9,378.4h6.4M659.5,368.0V380.7M656.3,368.0h6.4M656.3,380.7h6.4M659.9,375.3V382.0M656.7,375.3h6.4M656.7,382.0h6.4M660.3,371.0V382.6M657.1,371.0h6.4M657.1,382.6h6.4M660.6,367.2V378.5M657.4,367.2h6.4M657.4,378.5h6.4M661.0,381.3V388.7M657.8,381.3h6.4M657.8,388.7h6.4M661.4,366.2V377.9M658.2,366.2h6.4M658.2,377.9h6.4M665.9,367.1V375.0M662.7,367.1h6.4M662.7,375.0h6.4M670.4,366.8V382.5M667.2,366.8h6.4M667.2,382.5h6.4M674.9,369.3V382.8M671.7,369.3h6.4M671.7,382.8h6.4M679.4,372.6V383.5M676.2,372.6h6.4M676.2,383.5h6.4M683.9,377.1V383.6M680.7,377.1h6.4M680.7,383.6h6.4M688.4,375.7V382.0M685.2,375.7h6.4M685.2,382.0h6.4M692.9,370.9V383.2M689.7,370.9h6.4M689.7,383.2h6.4M697.4,373.8V383.1M694.2,373.8h6.4M694.2,383.1h6.4M701.9,376.3V391.2M698.7,376.3h6.4M698.7,391.2h6.4M706.4,381.8V393.7M703.2,381.8h6.4M703.2,393.7h6.4M709.4,371.7V384.8M706.2,371.7h6.4M706.2,384.8h6.4M719.1,371.0V380.2M715.9,371.0h6.4M715.9,380.2h6.4M728.9,387.2V395.2M725.7,387.2h6.4M725.7,395.2h6.4M738.6,380.7V390.3M735.4,380.7h6.4M735.4,390.3h6.4M748.4,373.9V389.1M745.2,373.9h6.4M745.2,389.1h6.4M758.1,385.0V400.1M754.9,385.0h6.4M754.9,400.1h6.4M767.9,387.8V397.1M764.7,387.8h6.4M764.7,397.1h6.4M777.6,382.8V392.2M774.4,382.8h6.4M774.4,392.2h6.4M787.4,383.2V394.0M784.2,383.2h6.4M784.2,394.0h6.4M797.1,384.4V394.1M793.9,384.4h6.4M793.9,394.1h6.4M806.9,385.6V395.3M803.7,385.6h6.4M803.7,395.3h6.4M816.6,385.0V396.3M813.4,385.0h6.4M813.4,396.3h6.4M826.4,381.3V395.3M823.2,381.3h6.4M823.2,395.3h6.4M836.1,383.4V398.9M832.9,383.4h6.4M832.9,398.9h6.4M845.9,395.3V407.7M842.7,395.3h6.4M842.7,407.7h6.4M855.6,388.6V401.0M852.4,388.6h6.4M852.4,401.0h6.4M865.4,394.0V404.3M862.2,394.0h6.4M862.2,404.3h6.4M875.1,387.0V396.3M871.9,387.0h6.4M871.9,396.3h6.4M884.9,389.2V403.8M881.7,389.2h6.4M881.7,403.8h6.4M894.6,390.7V405.2M891.4,390.7h6.4M891.4,405.2h6.4M904.4,395.2V410.5M901.2,395.2h6.4M901.2,410.5h6.4M914.1,385.9V397.5M910.9,385.9h6.4M910.9,397.5h6.4M923.9,397.6V404.7M920.7,397.6h6.4M920.7,404.7h6.4M933.6,397.2V407.8M930.4,397.2h6.4M930.4,407.8h6.4M943.4,399.1V412.2M940.2,399.1h6.4M940.2,412.2h6.4M953.1,392.8V407.3M949.9,392.8h6.4M949.9,407.3h6.4M962.9,387.5V403.2M959.7,387.5h6.4M959.7,403.2h6.4M972.6,405.6V413.4M969.4,405.6h6.4M969.4,413.4h6.4M982.4,394.9V403.4M979.2,394.9h6.4M979.2,403.4h6.4M992.1,394.6V406.2M988.9,394.6h6.4M988.9,406.2h6.4M1001.9,399.0V413.0M998.7,399.0h6.4M998.7,413.0h6.4M1011.6,394.0V404.9M1008.4,394.0h6.4M1008.4,404.9h6.4M1021.4,391.3V399.2M1018.2,391.3h6.4M1018.2,399.2h6.4M1031.2,395.5V409.5M1028.0,395.5h6.4M1028.0,409.5h6.4M1040.9,395.5V408.0M1037.7,395.5h6.4M1037.7,408.0h6.4M1050.7,397.8V407.9M1047.5,397.8h6.4M1047.5,407.9h6.4M1060.4,399.8V407.9M1057.2,399.8h6.4M1057.2,407.9h6.4" fill="none" stroke="#a4ccec" stroke-width="1.3" stroke-opacity="0.65"/>
<path d="M643.4,401.9V419.2M640.2,401.9h6.4M640.2,419.2h6.4M643.8,413.1V421.3M640.6,413.1h6.4M640.6,421.3h6.4M644.1,411.8V425.1M640.9,411.8h6.4M640.9,425.1h6.4M644.5,407.7V416.0M641.3,407.7h6.4M641.3,416.0h6.4M644.9,402.3V419.8M641.7,402.3h6.4M641.7,419.8h6.4M645.3,409.5V418.7M642.1,409.5h6.4M642.1,418.7h6.4M645.6,418.2V425.7M642.4,418.2h6.4M642.4,425.7h6.4M645.7,397.8V415.0M642.5,397.8h6.4M642.5,415.0h6.4M645.8,389.2V398.5M642.6,389.2h6.4M642.6,398.5h6.4M645.9,376.1V392.4M642.7,376.1h6.4M642.7,392.4h6.4M646.0,367.0V379.0M642.8,367.0h6.4M642.8,379.0h6.4M646.1,361.5V374.8M642.9,361.5h6.4M642.9,374.8h6.4M646.2,345.7V362.3M643.0,345.7h6.4M643.0,362.3h6.4M646.2,336.5V352.2M643.0,336.5h6.4M643.0,352.2h6.4M646.3,333.4V340.7M643.1,333.4h6.4M643.1,340.7h6.4M646.4,320.1V334.7M643.2,320.1h6.4M643.2,334.7h6.4M646.5,315.3V331.5M643.3,315.3h6.4M643.3,331.5h6.4M646.6,305.3V322.3M643.4,305.3h6.4M643.4,322.3h6.4M646.7,288.3V304.7M643.5,288.3h6.4M643.5,304.7h6.4M646.8,278.5V286.6M643.6,278.5h6.4M643.6,286.6h6.4M646.9,268.3V280.5M643.6,268.3h6.4M643.6,280.5h6.4M647.0,267.7V276.2M643.8,267.7h6.4M643.8,276.2h6.4M647.4,278.3V290.6M644.2,278.3h6.4M644.2,290.6h6.4M647.8,276.5V285.2M644.6,276.5h6.4M644.6,285.2h6.4M648.2,291.3V304.3M645.0,291.3h6.4M645.0,304.3h6.4M648.6,266.6V274.6M645.4,266.6h6.4M645.4,274.6h6.4M648.9,259.7V277.6M645.7,259.7h6.4M645.7,277.6h6.4M649.3,281.6V290.6M646.1,281.6h6.4M646.1,290.6h6.4M649.7,274.4V291.5M646.5,274.4h6.4M646.5,291.5h6.4M650.1,276.9V293.9M646.9,276.9h6.4M646.9,293.9h6.4M650.5,272.0V282.2M647.3,272.0h6.4M647.3,282.2h6.4M650.9,281.8V296.8M647.7,281.8h6.4M647.7,296.8h6.4M651.3,276.3V291.0M648.1,276.3h6.4M648.1,291.0h6.4M651.7,279.1V291.4M648.5,279.1h6.4M648.5,291.4h6.4M652.1,282.1V293.8M648.9,282.1h6.4M648.9,293.8h6.4M652.5,276.6V293.9M649.3,276.6h6.4M649.3,293.9h6.4M652.9,275.6V290.4M649.6,275.6h6.4M649.6,290.4h6.4M653.2,288.3V304.1M650.0,288.3h6.4M650.0,304.1h6.4M653.6,302.5V314.3M650.4,302.5h6.4M650.4,314.3h6.4M654.0,285.2V301.7M650.8,285.2h6.4M650.8,301.7h6.4M654.4,288.9V300.0M651.2,288.9h6.4M651.2,300.0h6.4M654.8,282.7V291.5M651.6,282.7h6.4M651.6,291.5h6.4M655.2,299.3V315.2M652.0,299.3h6.4M652.0,315.2h6.4M655.6,293.8V301.5M652.4,293.8h6.4M652.4,301.5h6.4M656.0,281.0V293.4M652.8,281.0h6.4M652.8,293.4h6.4M656.4,294.6V306.7M653.2,294.6h6.4M653.2,306.7h6.4M656.8,288.4V301.6M653.5,288.4h6.4M653.5,301.6h6.4M657.1,284.5V292.1M653.9,284.5h6.4M653.9,292.1h6.4M657.5,290.2V304.1M654.3,290.2h6.4M654.3,304.1h6.4M657.9,283.8V298.0M654.7,283.8h6.4M654.7,298.0h6.4M658.3,292.2V307.8M655.1,292.2h6.4M655.1,307.8h6.4M658.7,293.6V304.4M655.5,293.6h6.4M655.5,304.4h6.4M659.1,287.2V295.7M655.9,287.2h6.4M655.9,295.7h6.4M659.5,281.7V291.1M656.3,281.7h6.4M656.3,291.1h6.4M659.9,299.7V309.9M656.7,299.7h6.4M656.7,309.9h6.4M660.3,295.3V306.8M657.1,295.3h6.4M657.1,306.8h6.4M660.6,297.1V314.2M657.4,297.1h6.4M657.4,314.2h6.4M661.0,288.1V304.2M657.8,288.1h6.4M657.8,304.2h6.4M661.4,301.1V317.1M658.2,301.1h6.4M658.2,317.1h6.4M665.9,289.9V300.2M662.7,289.9h6.4M662.7,300.2h6.4M670.4,306.2V323.3M667.2,306.2h6.4M667.2,323.3h6.4M674.9,302.4V315.5M671.7,302.4h6.4M671.7,315.5h6.4M679.4,306.3V320.3M676.2,306.3h6.4M676.2,320.3h6.4M683.9,328.4V335.7M680.7,328.4h6.4M680.7,335.7h6.4M688.4,338.3V345.7M685.2,338.3h6.4M685.2,345.7h6.4M692.9,326.7V335.1M689.7,326.7h6.4M689.7,335.1h6.4M697.4,339.2V351.3M694.2,339.2h6.4M694.2,351.3h6.4M701.9,337.2V350.5M698.7,337.2h6.4M698.7,350.5h6.4M706.4,338.6V351.6M703.2,338.6h6.4M703.2,351.6h6.4M709.4,337.6V350.9M706.2,337.6h6.4M706.2,350.9h6.4M719.1,344.4V358.5M715.9,344.4h6.4M715.9,358.5h6.4M728.9,359.6V370.3M725.7,359.6h6.4M725.7,370.3h6.4M738.6,358.8V368.9M735.4,358.8h6.4M735.4,368.9h6.4M748.4,375.6V383.6M745.2,375.6h6.4M745.2,383.6h6.4M758.1,357.1V368.9M754.9,357.1h6.4M754.9,368.9h6.4M767.9,374.9V389.0M764.7,374.9h6.4M764.7,389.0h6.4M777.6,377.4V390.6M774.4,377.4h6.4M774.4,390.6h6.4M787.4,376.2V393.9M784.2,376.2h6.4M784.2,393.9h6.4M797.1,373.4V381.4M793.9,373.4h6.4M793.9,381.4h6.4M806.9,383.5V400.0M803.7,383.5h6.4M803.7,400.0h6.4M816.6,392.6V400.4M813.4,392.6h6.4M813.4,400.4h6.4M826.4,377.1V389.7M823.2,377.1h6.4M823.2,389.7h6.4M836.1,394.8V405.7M832.9,394.8h6.4M832.9,405.7h6.4M845.9,395.5V410.5M842.7,395.5h6.4M842.7,410.5h6.4M855.6,381.5V390.5M852.4,381.5h6.4M852.4,390.5h6.4M865.4,386.8V400.4M862.2,386.8h6.4M862.2,400.4h6.4M875.1,387.2V403.8M871.9,387.2h6.4M871.9,403.8h6.4M884.9,394.8V401.9M881.7,394.8h6.4M881.7,401.9h6.4M894.6,393.1V406.8M891.4,393.1h6.4M891.4,406.8h6.4M904.4,367.6V379.2M901.2,367.6h6.4M901.2,379.2h6.4M914.1,399.5V406.9M910.9,399.5h6.4M910.9,406.9h6.4M923.9,395.0V406.6M920.7,395.0h6.4M920.7,406.6h6.4M933.6,394.9V408.3M930.4,394.9h6.4M930.4,408.3h6.4M943.4,380.9V391.8M940.2,380.9h6.4M940.2,391.8h6.4M953.1,387.9V402.6M949.9,387.9h6.4M949.9,402.6h6.4M962.9,389.6V401.2M959.7,389.6h6.4M959.7,401.2h6.4M972.6,386.8V398.9M969.4,386.8h6.4M969.4,398.9h6.4M982.4,410.3V421.0M979.2,410.3h6.4M979.2,421.0h6.4M992.1,388.6V406.3M988.9,388.6h6.4M988.9,406.3h6.4M1001.9,384.5V397.7M998.7,384.5h6.4M998.7,397.7h6.4M1011.6,384.2V391.3M1008.4,384.2h6.4M1008.4,391.3h6.4M1021.4,405.2V414.6M1018.2,405.2h6.4M1018.2,414.6h6.4M1031.2,404.0V416.0M1028.0,404.0h6.4M1028.0,416.0h6.4M1040.9,399.3V415.7M1037.7,399.3h6.4M1037.7,415.7h6.4M1050.7,393.7V404.4M1047.5,393.7h6.4M1047.5,404.4h6.4M1060.4,401.6V413.4M1057.2,401.6h6.4M1057.2,413.4h6.4" fill="none" stroke="#6aa4d0" stroke-width="1.3" stroke-opacity="0.7"/>
<path d="M643.4,401.3V418.7M640.2,401.3h6.4M640.2,418.7h6.4M643.8,409.2V419.9M640.6,409.2h6.4M640.6,419.9h6.4M644.1,402.6V419.2M640.9,402.6h6.4M640.9,419.2h6.4M644.5,408.9V423.9M641.3,408.9h6.4M641.3,423.9h6.4M644.9,401.6V414.9M641.7,401.6h6.4M641.7,414.9h6.4M645.3,398.2V417.0M642.1,398.2h6.4M642.1,417.0h6.4M645.6,405.6V422.0M642.4,405.6h6.4M642.4,422.0h6.4M645.7,389.3V400.9M642.5,389.3h6.4M642.5,400.9h6.4M645.8,374.6V391.6M642.6,374.6h6.4M642.6,391.6h6.4M645.9,364.1V382.3M642.7,364.1h6.4M642.7,382.3h6.4M646.0,338.2V353.9M642.8,338.2h6.4M642.8,353.9h6.4M646.1,326.7V334.9M642.9,326.7h6.4M642.9,334.9h6.4M646.2,305.8V315.5M643.0,305.8h6.4M643.0,315.5h6.4M646.2,294.7V308.2M643.0,294.7h6.4M643.0,308.2h6.4M646.3,281.5V297.1M643.1,281.5h6.4M643.1,297.1h6.4M646.4,259.5V276.0M643.2,259.5h6.4M643.2,276.0h6.4M646.5,226.8V242.6M643.3,226.8h6.4M643.3,242.6h6.4M646.6,229.4V244.0M643.4,229.4h6.4M643.4,244.0h6.4M646.7,206.9V219.2M643.5,206.9h6.4M643.5,219.2h6.4M646.8,175.7V194.8M643.6,175.7h6.4M643.6,194.8h6.4M646.9,173.1V192.2M643.6,173.1h6.4M643.6,192.2h6.4M647.0,186.7V197.1M643.8,186.7h6.4M643.8,197.1h6.4M647.4,195.8V209.5M644.2,195.8h6.4M644.2,209.5h6.4M647.8,186.4V204.1M644.6,186.4h6.4M644.6,204.1h6.4M648.2,193.8V202.1M645.0,193.8h6.4M645.0,202.1h6.4M648.6,190.9V206.7M645.4,190.9h6.4M645.4,206.7h6.4M648.9,195.3V207.6M645.7,195.3h6.4M645.7,207.6h6.4M649.3,179.1V193.9M646.1,179.1h6.4M646.1,193.9h6.4M649.7,202.0V220.4M646.5,202.0h6.4M646.5,220.4h6.4M650.1,210.7V226.1M646.9,210.7h6.4M646.9,226.1h6.4M650.5,196.8V212.4M647.3,196.8h6.4M647.3,212.4h6.4M650.9,198.9V215.6M647.7,198.9h6.4M647.7,215.6h6.4M651.3,201.2V212.8M648.1,201.2h6.4M648.1,212.8h6.4M651.7,203.0V222.6M648.5,203.0h6.4M648.5,222.6h6.4M652.1,209.3V225.8M648.9,209.3h6.4M648.9,225.8h6.4M652.5,201.5V220.6M649.3,201.5h6.4M649.3,220.6h6.4M652.9,206.6V220.4M649.6,206.6h6.4M649.6,220.4h6.4M653.2,214.9V224.4M650.0,214.9h6.4M650.0,224.4h6.4M653.6,212.3V229.9M650.4,212.3h6.4M650.4,229.9h6.4M654.0,224.4V233.9M650.8,224.4h6.4M650.8,233.9h6.4M654.4,204.8V218.3M651.2,204.8h6.4M651.2,218.3h6.4M654.8,218.0V235.5M651.6,218.0h6.4M651.6,235.5h6.4M655.2,217.8V229.3M652.0,217.8h6.4M652.0,229.3h6.4M655.6,196.5V212.8M652.4,196.5h6.4M652.4,212.8h6.4M656.0,225.4V234.7M652.8,225.4h6.4M652.8,234.7h6.4M656.4,213.3V228.4M653.2,213.3h6.4M653.2,228.4h6.4M656.8,194.5V213.1M653.5,194.5h6.4M653.5,213.1h6.4M657.1,226.0V243.1M653.9,226.0h6.4M653.9,243.1h6.4M657.5,219.5V232.0M654.3,219.5h6.4M654.3,232.0h6.4M657.9,215.1V233.4M654.7,215.1h6.4M654.7,233.4h6.4M658.3,224.9V243.0M655.1,224.9h6.4M655.1,243.0h6.4M658.7,217.2V232.3M655.5,217.2h6.4M655.5,232.3h6.4M659.1,229.6V239.0M655.9,229.6h6.4M655.9,239.0h6.4M659.5,218.5V231.5M656.3,218.5h6.4M656.3,231.5h6.4M659.9,235.3V252.1M656.7,235.3h6.4M656.7,252.1h6.4M660.3,227.3V246.9M657.1,227.3h6.4M657.1,246.9h6.4M660.6,227.8V239.0M657.4,227.8h6.4M657.4,239.0h6.4M661.0,242.0V251.7M657.8,242.0h6.4M657.8,251.7h6.4M661.4,233.2V246.9M658.2,233.2h6.4M658.2,246.9h6.4M665.9,257.3V265.6M662.7,257.3h6.4M662.7,265.6h6.4M670.4,240.8V260.1M667.2,240.8h6.4M667.2,260.1h6.4M674.9,262.1V270.9M671.7,262.1h6.4M671.7,270.9h6.4M679.4,277.2V287.2M676.2,277.2h6.4M676.2,287.2h6.4M683.9,261.0V280.4M680.7,261.0h6.4M680.7,280.4h6.4M688.4,269.0V288.9M685.2,269.0h6.4M685.2,288.9h6.4M692.9,279.9V290.7M689.7,279.9h6.4M689.7,290.7h6.4M697.4,280.3V299.5M694.2,280.3h6.4M694.2,299.5h6.4M701.9,286.8V297.6M698.7,286.8h6.4M698.7,297.6h6.4M706.4,295.3V312.6M703.2,295.3h6.4M703.2,312.6h6.4M709.4,301.6V316.0M706.2,301.6h6.4M706.2,316.0h6.4M719.1,324.5V335.8M715.9,324.5h6.4M715.9,335.8h6.4M728.9,319.3V333.0M725.7,319.3h6.4M725.7,333.0h6.4M738.6,322.5V340.9M735.4,322.5h6.4M735.4,340.9h6.4M748.4,338.2V348.0M745.2,338.2h6.4M745.2,348.0h6.4M758.1,341.0V349.8M754.9,341.0h6.4M754.9,349.8h6.4M767.9,338.5V356.1M764.7,338.5h6.4M764.7,356.1h6.4M777.6,346.5V366.0M774.4,346.5h6.4M774.4,366.0h6.4M787.4,356.9V372.6M784.2,356.9h6.4M784.2,372.6h6.4M797.1,358.1V375.8M793.9,358.1h6.4M793.9,375.8h6.4M806.9,376.2V385.5M803.7,376.2h6.4M803.7,385.5h6.4M816.6,355.6V375.5M813.4,355.6h6.4M813.4,375.5h6.4M826.4,373.3V386.7M823.2,373.3h6.4M823.2,386.7h6.4M836.1,379.4V397.5M832.9,379.4h6.4M832.9,397.5h6.4M845.9,371.8V387.1M842.7,371.8h6.4M842.7,387.1h6.4M855.6,394.9V405.2M852.4,394.9h6.4M852.4,405.2h6.4M865.4,383.1V399.9M862.2,383.1h6.4M862.2,399.9h6.4M875.1,374.8V393.4M871.9,374.8h6.4M871.9,393.4h6.4M884.9,387.2V404.1M881.7,387.2h6.4M881.7,404.1h6.4M894.6,398.4V406.4M891.4,398.4h6.4M891.4,406.4h6.4M904.4,407.2V416.7M901.2,407.2h6.4M901.2,416.7h6.4M914.1,394.7V406.7M910.9,394.7h6.4M910.9,406.7h6.4M923.9,391.3V404.6M920.7,391.3h6.4M920.7,404.6h6.4M933.6,382.3V396.5M930.4,382.3h6.4M930.4,396.5h6.4M943.4,385.6V401.7M940.2,385.6h6.4M940.2,401.7h6.4M953.1,385.5V404.5M949.9,385.5h6.4M949.9,404.5h6.4M962.9,385.9V394.1M959.7,385.9h6.4M959.7,394.1h6.4M972.6,390.0V403.0M969.4,390.0h6.4M969.4,403.0h6.4M982.4,393.2V405.2M979.2,393.2h6.4M979.2,405.2h6.4M992.1,403.8V413.9M988.9,403.8h6.4M988.9,413.9h6.4M1001.9,385.1V394.4M998.7,385.1h6.4M998.7,394.4h6.4M1011.6,391.5V403.6M1008.4,391.5h6.4M1008.4,403.6h6.4M1021.4,391.7V399.7M1018.2,391.7h6.4M1018.2,399.7h6.4M1031.2,387.3V406.9M1028.0,387.3h6.4M1028.0,406.9h6.4M1040.9,395.1V414.9M1037.7,395.1h6.4M1037.7,414.9h6.4M1050.7,397.9V406.3M1047.5,397.9h6.4M1047.5,406.3h6.4M1060.4,372.3V390.5M1057.2,372.3h6.4M1057.2,390.5h6.4" fill="none" stroke="#3a8ccc" stroke-width="1.3" stroke-opacity="0.75"/>
<path d="M643.4,408.0V421.4M640.2,408.0h6.4M640.2,421.4h6.4M643.8,400.2V414.2M640.6,400.2h6.4M640.6,414.2h6.4M644.1,411.5V425.1M640.9,411.5h6.4M640.9,425.1h6.4M644.5,397.7V412.8M641.3,397.7h6.4M641.3,412.8h6.4M644.9,409.1V423.7M641.7,409.1h6.4M641.7,423.7h6.4M645.3,406.9V425.5M642.1,406.9h6.4M642.1,425.5h6.4M645.6,420.4V429.1M642.4,420.4h6.4M642.4,429.1h6.4M645.7,390.8V403.8M642.5,390.8h6.4M642.5,403.8h6.4M645.8,354.8V363.0M642.6,354.8h6.4M642.6,363.0h6.4M645.9,336.6V348.4M642.7,336.6h6.4M642.7,348.4h6.4M646.0,308.4V326.7M642.8,308.4h6.4M642.8,326.7h6.4M646.1,284.4V301.2M642.9,284.4h6.4M642.9,301.2h6.4M646.2,268.3V279.7M643.0,268.3h6.4M643.0,279.7h6.4M646.2,229.7V247.2M643.0,229.7h6.4M643.0,247.2h6.4M646.3,217.3V231.5M643.1,217.3h6.4M643.1,231.5h6.4M646.4,197.4V214.6M643.2,197.4h6.4M643.2,214.6h6.4M646.5,165.3V177.7M643.3,165.3h6.4M643.3,177.7h6.4M646.6,140.4V159.0M643.4,140.4h6.4M643.4,159.0h6.4M646.7,108.4V123.1M643.5,108.4h6.4M643.5,123.1h6.4M646.8,88.1V100.8M643.6,88.1h6.4M643.6,100.8h6.4M646.9,78.7V89.9M643.6,78.7h6.4M643.6,89.9h6.4M647.0,91.0V110.3M643.8,91.0h6.4M643.8,110.3h6.4M647.4,83.4V102.0M644.2,83.4h6.4M644.2,102.0h6.4M647.8,101.6V114.6M644.6,101.6h6.4M644.6,114.6h6.4M648.2,118.8V127.4M645.0,118.8h6.4M645.0,127.4h6.4M648.6,76.3V87.6M645.4,76.3h6.4M645.4,87.6h6.4M648.9,101.4V117.0M645.7,101.4h6.4M645.7,117.0h6.4M649.3,97.5V117.2M646.1,97.5h6.4M646.1,117.2h6.4M649.7,98.2V117.0M646.5,98.2h6.4M646.5,117.0h6.4M650.1,105.7V118.1M646.9,105.7h6.4M646.9,118.1h6.4M650.5,125.6V140.7M647.3,125.6h6.4M647.3,140.7h6.4M650.9,102.6V115.6M647.7,102.6h6.4M647.7,115.6h6.4M651.3,113.5V123.1M648.1,113.5h6.4M648.1,123.1h6.4M651.7,106.0V116.3M648.5,106.0h6.4M648.5,116.3h6.4M652.1,121.0V139.7M648.9,121.0h6.4M648.9,139.7h6.4M652.5,102.1V117.2M649.3,102.1h6.4M649.3,117.2h6.4M652.9,97.5V114.0M649.6,97.5h6.4M649.6,114.0h6.4M653.2,121.7V138.7M650.0,121.7h6.4M650.0,138.7h6.4M653.6,112.2V127.8M650.4,112.2h6.4M650.4,127.8h6.4M654.0,111.6V127.3M650.8,111.6h6.4M650.8,127.3h6.4M654.4,106.9V116.2M651.2,106.9h6.4M651.2,116.2h6.4M654.8,121.7V135.3M651.6,121.7h6.4M651.6,135.3h6.4M655.2,132.4V148.0M652.0,132.4h6.4M652.0,148.0h6.4M655.6,130.9V141.4M652.4,130.9h6.4M652.4,141.4h6.4M656.0,133.9V153.1M652.8,133.9h6.4M652.8,153.1h6.4M656.4,144.7V155.7M653.2,144.7h6.4M653.2,155.7h6.4M656.8,127.7V136.2M653.5,127.7h6.4M653.5,136.2h6.4M657.1,132.3V143.3M653.9,132.3h6.4M653.9,143.3h6.4M657.5,137.4V152.8M654.3,137.4h6.4M654.3,152.8h6.4M657.9,149.1V164.7M654.7,149.1h6.4M654.7,164.7h6.4M658.3,142.6V162.4M655.1,142.6h6.4M655.1,162.4h6.4M658.7,143.5V160.8M655.5,143.5h6.4M655.5,160.8h6.4M659.1,145.8V159.7M655.9,145.8h6.4M655.9,159.7h6.4M659.5,137.7V154.1M656.3,137.7h6.4M656.3,154.1h6.4M659.9,147.6V163.4M656.7,147.6h6.4M656.7,163.4h6.4M660.3,160.7V176.4M657.1,160.7h6.4M657.1,176.4h6.4M660.6,137.7V155.8M657.4,137.7h6.4M657.4,155.8h6.4M661.0,147.9V161.5M657.8,147.9h6.4M657.8,161.5h6.4M661.4,146.8V158.7M658.2,146.8h6.4M658.2,158.7h6.4M665.9,157.6V166.4M662.7,157.6h6.4M662.7,166.4h6.4M670.4,178.5V186.6M667.2,178.5h6.4M667.2,186.6h6.4M674.9,189.0V204.4M671.7,189.0h6.4M671.7,204.4h6.4M679.4,207.8V220.3M676.2,207.8h6.4M676.2,220.3h6.4M683.9,194.2V206.9M680.7,194.2h6.4M680.7,206.9h6.4M688.4,182.6V201.4M685.2,182.6h6.4M685.2,201.4h6.4M692.9,190.1V210.4M689.7,190.1h6.4M689.7,210.4h6.4M697.4,223.1V241.5M694.2,223.1h6.4M694.2,241.5h6.4M701.9,255.5V267.5M698.7,255.5h6.4M698.7,267.5h6.4M706.4,215.5V236.2M703.2,215.5h6.4M703.2,236.2h6.4M709.4,200.1V216.7M706.2,200.1h6.4M706.2,216.7h6.4M719.1,280.7V296.0M715.9,280.7h6.4M715.9,296.0h6.4M728.9,303.0V312.2M725.7,303.0h6.4M725.7,312.2h6.4M738.6,285.6V305.4M735.4,285.6h6.4M735.4,305.4h6.4M748.4,309.2V323.1M745.2,309.2h6.4M745.2,323.1h6.4M758.1,316.8V335.3M754.9,316.8h6.4M754.9,335.3h6.4M767.9,316.8V326.6M764.7,316.8h6.4M764.7,326.6h6.4M777.6,313.8V322.0M774.4,313.8h6.4M774.4,322.0h6.4M787.4,345.3V361.7M784.2,345.3h6.4M784.2,361.7h6.4M797.1,362.9V377.1M793.9,362.9h6.4M793.9,377.1h6.4M806.9,336.2V351.8M803.7,336.2h6.4M803.7,351.8h6.4M816.6,350.3V360.3M813.4,350.3h6.4M813.4,360.3h6.4M826.4,373.6V384.4M823.2,373.6h6.4M823.2,384.4h6.4M836.1,369.3V388.6M832.9,369.3h6.4M832.9,388.6h6.4M845.9,358.8V376.8M842.7,358.8h6.4M842.7,376.8h6.4M855.6,363.8V383.5M852.4,363.8h6.4M852.4,383.5h6.4M865.4,373.2V387.4M862.2,373.2h6.4M862.2,387.4h6.4M875.1,381.9V401.0M871.9,381.9h6.4M871.9,401.0h6.4M884.9,366.4V385.4M881.7,366.4h6.4M881.7,385.4h6.4M894.6,387.5V406.6M891.4,387.5h6.4M891.4,406.6h6.4M904.4,356.8V375.6M901.2,356.8h6.4M901.2,375.6h6.4M914.1,391.9V401.2M910.9,391.9h6.4M910.9,401.2h6.4M923.9,374.6V383.1M920.7,374.6h6.4M920.7,383.1h6.4M933.6,382.8V401.4M930.4,382.8h6.4M930.4,401.4h6.4M943.4,403.1V421.4M940.2,403.1h6.4M940.2,421.4h6.4M953.1,412.5V429.6M949.9,412.5h6.4M949.9,429.6h6.4M962.9,377.8V392.0M959.7,377.8h6.4M959.7,392.0h6.4M972.6,381.7V399.2M969.4,381.7h6.4M969.4,399.2h6.4M982.4,399.0V409.0M979.2,399.0h6.4M979.2,409.0h6.4M992.1,382.3V399.8M988.9,382.3h6.4M988.9,399.8h6.4M1001.9,402.9V418.1M998.7,402.9h6.4M998.7,418.1h6.4M1011.6,393.5V403.6M1008.4,393.5h6.4M1008.4,403.6h6.4M1021.4,406.8V417.4M1018.2,406.8h6.4M1018.2,417.4h6.4M1031.2,402.3V417.4M1028.0,402.3h6.4M1028.0,417.4h6.4M1040.9,396.0V405.5M1037.7,396.0h6.4M1037.7,405.5h6.4M1050.7,372.3V380.7M1047.5,372.3h6.4M1047.5,380.7h6.4M1060.4,398.2V412.7M1057.2,398.2h6.4M1057.2,412.7h6.4" fill="none" stroke="#4a62a0" stroke-width="1.3" stroke-opacity="0.85"/>
<polyline points="646.4,368.4 646.9,368.5 647.4,368.5 647.9,368.6 648.4,368.8 648.9,368.9 649.5,369.1 650.0,369.3 650.5,369.5 651.0,369.7 651.5,369.9 652.0,370.1 652.5,370.3 653.0,370.5 653.5,370.7 654.0,371.0 654.5,371.2 655.0,371.4 655.6,371.6 656.1,371.8 656.6,372.0 657.1,372.2 657.6,372.4 658.1,372.6 658.6,372.8 659.1,373.0 659.6,373.2 660.1,373.4 660.6,373.5 661.1,373.7 661.7,373.9 662.2,374.1 662.7,374.2 663.2,374.4 663.7,374.6 664.2,374.7 664.7,374.9 665.2,375.1 665.7,375.2 666.2,375.4 666.7,375.5 667.2,375.7 667.8,375.8 668.3,376.0 668.8,376.1 669.3,376.3 669.8,376.4 670.3,376.5 670.8,376.7 671.3,376.8 671.8,376.9 672.3,377.1 672.8,377.2 673.3,377.3 673.9,377.4 674.4,377.6 674.9,377.7 675.4,377.8 675.9,377.9 676.4,378.0 676.4,378.0 679.7,378.8 683.0,379.4 686.2,380.0 689.5,380.6 692.8,381.1 696.1,381.6 699.3,382.1 702.6,382.5 705.9,382.9 709.2,383.3 712.5,383.7 715.7,384.0 719.0,384.4 722.3,384.8 725.6,385.2 728.8,385.6 732.1,386.0 735.4,386.3 738.7,386.7 741.9,387.1 745.2,387.4 748.5,387.8 751.8,388.1 755.1,388.5 758.3,388.8 761.6,389.1 764.9,389.5 768.2,389.8 771.4,390.1 774.7,390.4 778.0,390.7 781.3,390.9 784.6,391.2 787.8,391.5 791.1,391.7 794.4,392.0 797.7,392.2 800.9,392.5 804.2,392.7 807.5,392.9 810.8,393.1 814.0,393.3 817.3,393.5 820.6,393.7 823.9,393.9 827.2,394.1 830.4,394.3 833.7,394.5 837.0,394.7 840.3,394.9 843.5,395.1 846.8,395.3 850.1,395.5 853.4,395.7 856.7,395.9 859.9,396.1 863.2,396.3 866.5,396.4 869.8,396.6 873.0,396.8 876.3,396.9 879.6,397.1 882.9,397.3 886.1,397.4 889.4,397.6 892.7,397.7 896.0,397.9 899.3,398.0 902.5,398.2 905.8,398.3 909.1,398.4 912.4,398.6 915.6,398.7 918.9,398.8 922.2,398.9 925.5,399.1 928.8,399.2 932.0,399.3 935.3,399.4 938.6,399.5 941.9,399.6 945.1,399.7 948.4,399.8 951.7,399.9 955.0,400.0 958.2,400.1 961.5,400.1 964.8,400.2 968.1,400.3 971.4,400.4 974.6,400.5 977.9,400.5 981.2,400.6 984.5,400.7 987.7,400.8 991.0,400.8 994.3,400.9 997.6,401.0 1000.9,401.0 1004.1,401.1 1007.4,401.2 1010.7,401.2 1014.0,401.3 1017.2,401.4 1020.5,401.4 1023.8,401.5 1027.1,401.5 1030.3,401.6 1033.6,401.7 1036.9,401.7 1040.2,401.8 1043.5,401.8 1046.7,401.9 1050.0,401.9 1053.3,402.0 1056.6,402.0 1059.8,402.1 1063.1,402.1 1066.4,402.2" fill="none" stroke="#9cc8ea" stroke-width="1.6" stroke-opacity="1.0" stroke-linejoin="round"/>
<polyline points="646.4,278.6 646.9,279.6 647.4,280.8 647.9,281.9 648.4,283.0 648.9,284.1 649.5,285.2 650.0,286.2 650.5,287.3 651.0,288.3 651.5,289.3 652.0,290.2 652.5,291.2 653.0,292.1 653.5,292.9 654.0,293.8 654.5,294.6 655.0,295.4 655.6,296.2 656.1,296.9 656.6,297.7 657.1,298.4 657.6,299.1 658.1,299.8 658.6,300.5 659.1,301.1 659.6,301.8 660.1,302.4 660.6,303.1 661.1,303.7 661.7,304.3 662.2,304.9 662.7,305.5 663.2,306.1 663.7,306.7 664.2,307.3 664.7,307.9 665.2,308.4 665.7,309.0 666.2,309.6 666.7,310.1 667.2,310.7 667.8,311.2 668.3,311.8 668.8,312.3 669.3,312.8 669.8,313.4 670.3,313.9 670.8,314.4 671.3,314.9 671.8,315.4 672.3,315.9 672.8,316.4 673.3,317.0 673.9,317.4 674.4,317.9 674.9,318.4 675.4,318.9 675.9,319.4 676.4,319.9 676.4,319.9 679.7,322.9 683.0,326.0 686.2,329.4 689.5,332.9 692.8,336.2 696.1,339.4 699.3,342.3 702.6,345.2 705.9,348.0 709.2,350.7 712.5,353.3 715.7,355.8 719.0,358.2 722.3,360.6 725.6,363.0 728.8,365.2 732.1,367.4 735.4,369.3 738.7,371.1 741.9,372.7 745.2,374.2 748.5,375.6 751.8,376.9 755.1,378.1 758.3,379.2 761.6,380.1 764.9,381.1 768.2,381.9 771.4,382.7 774.7,383.5 778.0,384.2 781.3,384.9 784.6,385.5 787.8,386.1 791.1,386.7 794.4,387.2 797.7,387.7 800.9,388.2 804.2,388.7 807.5,389.2 810.8,389.6 814.0,390.0 817.3,390.4 820.6,390.8 823.9,391.1 827.2,391.5 830.4,391.8 833.7,392.2 837.0,392.5 840.3,392.8 843.5,393.1 846.8,393.3 850.1,393.6 853.4,393.9 856.7,394.1 859.9,394.4 863.2,394.6 866.5,394.9 869.8,395.1 873.0,395.3 876.3,395.5 879.6,395.7 882.9,395.9 886.1,396.1 889.4,396.3 892.7,396.5 896.0,396.7 899.3,396.9 902.5,397.0 905.8,397.2 909.1,397.4 912.4,397.5 915.6,397.7 918.9,397.8 922.2,398.0 925.5,398.1 928.8,398.3 932.0,398.4 935.3,398.5 938.6,398.7 941.9,398.8 945.1,398.9 948.4,399.0 951.7,399.2 955.0,399.3 958.2,399.4 961.5,399.5 964.8,399.6 968.1,399.7 971.4,399.8 974.6,399.9 977.9,400.0 981.2,400.1 984.5,400.2 987.7,400.3 991.0,400.4 994.3,400.5 997.6,400.6 1000.9,400.7 1004.1,400.8 1007.4,400.9 1010.7,401.0 1014.0,401.1 1017.2,401.1 1020.5,401.2 1023.8,401.3 1027.1,401.4 1030.3,401.5 1033.6,401.5 1036.9,401.6 1040.2,401.7 1043.5,401.8 1046.7,401.8 1050.0,401.9 1053.3,402.0 1056.6,402.0 1059.8,402.1 1063.1,402.2 1066.4,402.2" fill="none" stroke="#5a9ccc" stroke-width="1.6" stroke-opacity="1.0" stroke-linejoin="round"/>
<polyline points="646.4,180.0 646.9,184.4 647.4,188.4 647.9,191.9 648.4,195.1 648.9,197.9 649.5,200.6 650.0,202.9 650.5,205.0 651.0,206.9 651.5,208.7 652.0,210.4 652.5,212.0 653.0,213.6 653.5,215.1 654.0,216.6 654.5,218.1 655.0,219.6 655.6,221.0 656.1,222.5 656.6,224.0 657.1,225.4 657.6,226.8 658.1,228.2 658.6,229.6 659.1,230.9 659.6,232.3 660.1,233.6 660.6,234.8 661.1,236.1 661.7,237.3 662.2,238.5 662.7,239.7 663.2,240.8 663.7,242.0 664.2,243.1 664.7,244.2 665.2,245.3 665.7,246.3 666.2,247.4 666.7,248.4 667.2,249.4 667.8,250.3 668.3,251.3 668.8,252.3 669.3,253.2 669.8,254.1 670.3,255.0 670.8,255.9 671.3,256.8 671.8,257.7 672.3,258.6 672.8,259.5 673.3,260.3 673.9,261.2 674.4,262.0 674.9,262.9 675.4,263.7 675.9,264.5 676.4,265.4 676.4,265.4 679.7,270.5 683.0,275.6 686.2,280.6 689.5,285.4 692.8,289.9 696.1,294.2 699.3,298.3 702.6,302.1 705.9,305.8 709.2,309.4 712.5,312.9 715.7,316.2 719.0,319.4 722.3,322.6 725.6,325.7 728.8,328.7 732.1,331.6 735.4,334.4 738.7,337.0 741.9,339.6 745.2,342.0 748.5,344.4 751.8,346.7 755.1,348.9 758.3,351.1 761.6,353.2 764.9,355.3 768.2,357.4 771.4,359.3 774.7,361.0 778.0,362.6 781.3,364.0 784.6,365.3 787.8,366.5 791.1,367.7 794.4,369.0 797.7,370.3 800.9,371.7 804.2,373.2 807.5,374.6 810.8,376.0 814.0,377.2 817.3,378.3 820.6,379.4 823.9,380.4 827.2,381.3 830.4,382.2 833.7,383.1 837.0,383.9 840.3,384.6 843.5,385.4 846.8,386.1 850.1,386.8 853.4,387.4 856.7,388.0 859.9,388.6 863.2,389.2 866.5,389.7 869.8,390.2 873.0,390.7 876.3,391.2 879.6,391.6 882.9,392.1 886.1,392.5 889.4,393.0 892.7,393.4 896.0,393.8 899.3,394.1 902.5,394.5 905.8,394.8 909.1,395.2 912.4,395.5 915.6,395.8 918.9,396.1 922.2,396.4 925.5,396.6 928.8,396.9 932.0,397.1 935.3,397.3 938.6,397.5 941.9,397.7 945.1,397.9 948.4,398.1 951.7,398.3 955.0,398.5 958.2,398.7 961.5,398.8 964.8,399.0 968.1,399.2 971.4,399.3 974.6,399.5 977.9,399.6 981.2,399.8 984.5,399.9 987.7,400.0 991.0,400.2 994.3,400.3 997.6,400.4 1000.9,400.5 1004.1,400.6 1007.4,400.7 1010.7,400.9 1014.0,401.0 1017.2,401.1 1020.5,401.2 1023.8,401.2 1027.1,401.3 1030.3,401.4 1033.6,401.5 1036.9,401.6 1040.2,401.7 1043.5,401.7 1046.7,401.8 1050.0,401.9 1053.3,402.0 1056.6,402.0 1059.8,402.1 1063.1,402.2 1066.4,402.2" fill="none" stroke="#2a84cc" stroke-width="1.6" stroke-opacity="1.0" stroke-linejoin="round"/>
<polyline points="646.4,72.8 646.9,84.6 647.4,94.2 647.9,100.9 648.4,106.1 648.9,110.5 649.5,114.2 650.0,117.5 650.5,120.4 651.0,123.0 651.5,125.4 652.0,127.6 652.5,129.7 653.0,131.7 653.5,133.6 654.0,135.4 654.5,137.2 655.0,138.9 655.6,140.5 656.1,141.9 656.6,143.2 657.1,144.6 657.6,145.9 658.1,147.2 658.6,148.5 659.1,149.9 659.6,151.4 660.1,152.8 660.6,154.3 661.1,155.7 661.7,157.2 662.2,158.7 662.7,160.2 663.2,161.6 663.7,163.1 664.2,164.5 664.7,166.0 665.2,167.4 665.7,168.8 666.2,170.2 666.7,171.6 667.2,173.0 667.8,174.3 668.3,175.7 668.8,177.0 669.3,178.3 669.8,179.6 670.3,180.9 670.8,182.3 671.3,183.6 671.8,184.9 672.3,186.2 672.8,187.5 673.3,188.8 673.9,190.1 674.4,191.4 674.9,192.7 675.4,194.0 675.9,195.3 676.4,196.5 676.4,196.5 679.7,204.2 683.0,211.3 686.2,217.9 689.5,224.1 692.8,230.2 696.1,236.1 699.3,242.0 702.6,248.1 705.9,254.3 709.2,260.5 712.5,266.4 715.7,272.0 719.0,277.3 722.3,282.4 725.6,287.3 728.8,292.0 732.1,296.5 735.4,300.8 738.7,304.8 741.9,308.7 745.2,312.4 748.5,315.9 751.8,319.3 755.1,322.6 758.3,325.9 761.6,329.1 764.9,332.3 768.2,335.3 771.4,338.2 774.7,340.8 778.0,343.2 781.3,345.4 784.6,347.5 787.8,349.4 791.1,351.2 794.4,353.1 797.7,354.9 800.9,356.6 804.2,358.2 807.5,359.9 810.8,361.5 814.0,363.1 817.3,364.7 820.6,366.4 823.9,368.0 827.2,369.6 830.4,371.2 833.7,372.7 837.0,374.1 840.3,375.5 843.5,376.8 846.8,378.1 850.1,379.4 853.4,380.6 856.7,381.7 859.9,382.8 863.2,383.7 866.5,384.6 869.8,385.4 873.0,386.2 876.3,386.9 879.6,387.5 882.9,388.1 886.1,388.7 889.4,389.3 892.7,389.8 896.0,390.3 899.3,390.8 902.5,391.2 905.8,391.7 909.1,392.1 912.4,392.5 915.6,392.9 918.9,393.3 922.2,393.6 925.5,394.0 928.8,394.3 932.0,394.6 935.3,394.9 938.6,395.2 941.9,395.5 945.1,395.8 948.4,396.1 951.7,396.4 955.0,396.6 958.2,396.9 961.5,397.1 964.8,397.3 968.1,397.6 971.4,397.8 974.6,398.0 977.9,398.2 981.2,398.5 984.5,398.7 987.7,398.9 991.0,399.1 994.3,399.2 997.6,399.4 1000.9,399.6 1004.1,399.8 1007.4,399.9 1010.7,400.1 1014.0,400.3 1017.2,400.4 1020.5,400.6 1023.8,400.7 1027.1,400.9 1030.3,401.0 1033.6,401.1 1036.9,401.3 1040.2,401.4 1043.5,401.5 1046.7,401.7 1050.0,401.8 1053.3,401.9 1056.6,402.0 1059.8,402.1 1063.1,402.2 1066.4,402.4" fill="none" stroke="#1c3a88" stroke-width="1.6" stroke-opacity="1.0" stroke-linejoin="round"/>
</g>
<g clip-path="url(#cpc)">
<path d="M1189.5,395.2V419.7M1186.3,395.2h6.4M1186.3,419.7h6.4M1189.9,402.5V415.7M1186.7,402.5h6.4M1186.7,415.7h6.4M1190.3,387.3V403.6M1187.1,387.3h6.4M1187.1,403.6h6.4M1190.6,390.3V414.4M1187.4,390.3h6.4M1187.4,414.4h6.4M1191.0,394.5V419.1M1187.8,394.5h6.4M1187.8,419.1h6.4M1191.4,391.3V414.8M1188.2,391.3h6.4M1188.2,414.8h6.4M1191.8,389.0V423.2M1188.6,389.0h6.4M1188.6,423.2h6.4M1191.8,392.0V409.4M1188.6,392.0h6.4M1188.6,409.4h6.4M1191.9,387.6V403.8M1188.7,387.6h6.4M1188.7,403.8h6.4M1192.0,382.7V403.0M1188.8,382.7h6.4M1188.8,403.0h6.4M1192.1,377.8V399.8M1188.9,377.8h6.4M1188.9,399.8h6.4M1192.2,360.7V392.2M1189.0,360.7h6.4M1189.0,392.2h6.4M1192.3,372.4V388.0M1189.1,372.4h6.4M1189.1,388.0h6.4M1192.4,365.6V391.7M1189.2,365.6h6.4M1189.2,391.7h6.4M1192.4,351.7V383.9M1189.2,351.7h6.4M1189.2,383.9h6.4M1192.5,351.3V374.7M1189.3,351.3h6.4M1189.3,374.7h6.4M1192.6,340.2V360.4M1189.4,340.2h6.4M1189.4,360.4h6.4M1192.7,335.5V365.7M1189.5,335.5h6.4M1189.5,365.7h6.4M1192.8,331.1V355.5M1189.6,331.1h6.4M1189.6,355.5h6.4M1192.9,324.1V340.4M1189.7,324.1h6.4M1189.7,340.4h6.4M1192.9,327.8V343.3M1189.7,327.8h6.4M1189.7,343.3h6.4M1193.1,324.2V343.6M1189.9,324.2h6.4M1189.9,343.6h6.4M1193.5,336.4V352.4M1190.3,336.4h6.4M1190.3,352.4h6.4M1193.9,333.0V362.5M1190.7,333.0h6.4M1190.7,362.5h6.4M1194.3,316.8V334.1M1191.1,316.8h6.4M1191.1,334.1h6.4M1194.6,327.8V342.4M1191.4,327.8h6.4M1191.4,342.4h6.4M1195.0,308.5V321.9M1191.8,308.5h6.4M1191.8,321.9h6.4M1195.4,318.1V339.4M1192.2,318.1h6.4M1192.2,339.4h6.4M1195.8,320.4V332.7M1192.6,320.4h6.4M1192.6,332.7h6.4M1196.2,333.8V361.3M1193.0,333.8h6.4M1193.0,361.3h6.4M1196.6,325.5V347.1M1193.4,325.5h6.4M1193.4,347.1h6.4M1197.0,315.1V347.2M1193.8,315.1h6.4M1193.8,347.2h6.4M1197.4,306.6V325.1M1194.2,306.6h6.4M1194.2,325.1h6.4M1197.8,330.3V344.5M1194.6,330.3h6.4M1194.6,344.5h6.4M1198.1,327.2V349.1M1194.9,327.2h6.4M1194.9,349.1h6.4M1198.5,313.2V342.4M1195.3,313.2h6.4M1195.3,342.4h6.4M1198.9,313.7V336.7M1195.7,313.7h6.4M1195.7,336.7h6.4M1199.3,325.3V352.8M1196.1,325.3h6.4M1196.1,352.8h6.4M1199.7,340.6V357.5M1196.5,340.6h6.4M1196.5,357.5h6.4M1200.1,323.0V358.2M1196.9,323.0h6.4M1196.9,358.2h6.4M1200.5,329.2V345.9M1197.3,329.2h6.4M1197.3,345.9h6.4M1200.9,327.8V340.9M1197.7,327.8h6.4M1197.7,340.9h6.4M1201.2,316.7V330.3M1198.0,316.7h6.4M1198.0,330.3h6.4M1201.6,329.2V348.4M1198.4,329.2h6.4M1198.4,348.4h6.4M1202.0,310.8V343.1M1198.8,310.8h6.4M1198.8,343.1h6.4M1202.4,325.8V338.7M1199.2,325.8h6.4M1199.2,338.7h6.4M1202.8,338.9V354.1M1199.6,338.9h6.4M1199.6,354.1h6.4M1203.2,326.5V353.0M1200.0,326.5h6.4M1200.0,353.0h6.4M1203.6,328.7V345.7M1200.4,328.7h6.4M1200.4,345.7h6.4M1204.0,334.5V356.7M1200.8,334.5h6.4M1200.8,356.7h6.4M1204.3,323.3V355.8M1201.1,323.3h6.4M1201.1,355.8h6.4M1204.7,310.6V346.2M1201.5,310.6h6.4M1201.5,346.2h6.4M1205.1,314.9V343.6M1201.9,314.9h6.4M1201.9,343.6h6.4M1205.5,319.1V350.5M1202.3,319.1h6.4M1202.3,350.5h6.4M1205.9,311.6V341.4M1202.7,311.6h6.4M1202.7,341.4h6.4M1206.3,319.7V333.1M1203.1,319.7h6.4M1203.1,333.1h6.4M1206.7,319.9V340.0M1203.5,319.9h6.4M1203.5,340.0h6.4M1207.1,335.9V366.7M1203.9,335.9h6.4M1203.9,366.7h6.4M1207.4,327.6V343.2M1204.2,327.6h6.4M1204.2,343.2h6.4M1211.9,330.0V352.3M1208.7,330.0h6.4M1208.7,352.3h6.4M1216.4,319.2V347.9M1213.2,319.2h6.4M1213.2,347.9h6.4M1220.8,315.7V332.9M1217.6,315.7h6.4M1217.6,332.9h6.4M1225.3,328.1V346.3M1222.1,328.1h6.4M1222.1,346.3h6.4M1229.8,337.6V365.6M1226.6,337.6h6.4M1226.6,365.6h6.4M1234.3,333.7V361.6M1231.1,333.7h6.4M1231.1,361.6h6.4M1238.8,336.4V364.9M1235.6,336.4h6.4M1235.6,364.9h6.4M1243.2,339.7V370.5M1240.0,339.7h6.4M1240.0,370.5h6.4M1247.7,331.3V360.4M1244.5,331.3h6.4M1244.5,360.4h6.4M1252.2,330.6V363.4M1249.0,330.6h6.4M1249.0,363.4h6.4M1255.2,344.7V362.5M1252.0,344.7h6.4M1252.0,362.5h6.4M1264.9,343.3V365.3M1261.7,343.3h6.4M1261.7,365.3h6.4M1274.6,343.4V362.7M1271.4,343.4h6.4M1271.4,362.7h6.4M1284.3,339.1V365.8M1281.1,339.1h6.4M1281.1,365.8h6.4M1294.0,345.6V366.9M1290.8,345.6h6.4M1290.8,366.9h6.4M1303.7,332.7V353.6M1300.5,332.7h6.4M1300.5,353.6h6.4M1313.4,359.2V371.7M1310.2,359.2h6.4M1310.2,371.7h6.4M1323.0,336.0V370.5M1319.8,336.0h6.4M1319.8,370.5h6.4M1332.7,348.7V364.3M1329.5,348.7h6.4M1329.5,364.3h6.4M1342.4,345.7V363.4M1339.2,345.7h6.4M1339.2,363.4h6.4M1352.1,365.9V382.8M1348.9,365.9h6.4M1348.9,382.8h6.4M1361.8,343.7V366.4M1358.6,343.7h6.4M1358.6,366.4h6.4M1371.5,356.4V383.2M1368.3,356.4h6.4M1368.3,383.2h6.4M1381.2,343.3V365.9M1378.0,343.3h6.4M1378.0,365.9h6.4M1390.9,343.1V377.9M1387.7,343.1h6.4M1387.7,377.9h6.4M1400.6,362.8V396.1M1397.4,362.8h6.4M1397.4,396.1h6.4M1410.3,353.6V388.4M1407.1,353.6h6.4M1407.1,388.4h6.4M1420.0,360.6V382.9M1416.8,360.6h6.4M1416.8,382.9h6.4M1429.7,361.8V379.6M1426.5,361.8h6.4M1426.5,379.6h6.4M1439.4,364.2V387.2M1436.2,364.2h6.4M1436.2,387.2h6.4M1449.1,355.1V384.1M1445.9,355.1h6.4M1445.9,384.1h6.4M1458.8,362.5V385.3M1455.6,362.5h6.4M1455.6,385.3h6.4M1468.5,347.8V379.9M1465.3,347.8h6.4M1465.3,379.9h6.4M1478.2,359.8V378.4M1475.0,359.8h6.4M1475.0,378.4h6.4M1487.9,354.9V378.0M1484.7,354.9h6.4M1484.7,378.0h6.4M1497.6,357.2V372.0M1494.4,357.2h6.4M1494.4,372.0h6.4M1507.3,350.2V382.6M1504.1,350.2h6.4M1504.1,382.6h6.4M1517.0,371.7V384.0M1513.8,371.7h6.4M1513.8,384.0h6.4M1526.7,343.3V373.2M1523.5,343.3h6.4M1523.5,373.2h6.4M1536.4,356.1V382.1M1533.2,356.1h6.4M1533.2,382.1h6.4M1546.1,359.4V372.5M1542.9,359.4h6.4M1542.9,372.5h6.4M1555.8,348.8V379.2M1552.6,348.8h6.4M1552.6,379.2h6.4M1565.5,366.7V388.5M1562.3,366.7h6.4M1562.3,388.5h6.4M1575.2,363.9V383.7M1572.0,363.9h6.4M1572.0,383.7h6.4M1584.9,376.3V388.4M1581.7,376.3h6.4M1581.7,388.4h6.4M1594.6,366.5V391.3M1591.4,366.5h6.4M1591.4,391.3h6.4M1604.3,358.9V392.6M1601.1,358.9h6.4M1601.1,392.6h6.4" fill="none" stroke="#b4e2c2" stroke-width="1.3" stroke-opacity="0.6"/>
<path d="M1189.5,393.8V427.7M1186.3,393.8h6.4M1186.3,427.7h6.4M1189.9,393.7V421.1M1186.7,393.7h6.4M1186.7,421.1h6.4M1190.3,396.4V411.6M1187.1,396.4h6.4M1187.1,411.6h6.4M1190.6,398.8V418.1M1187.4,398.8h6.4M1187.4,418.1h6.4M1191.0,390.4V406.1M1187.8,390.4h6.4M1187.8,406.1h6.4M1191.4,402.1V422.5M1188.2,402.1h6.4M1188.2,422.5h6.4M1191.8,405.4V424.2M1188.6,405.4h6.4M1188.6,424.2h6.4M1191.8,377.6V406.6M1188.6,377.6h6.4M1188.6,406.6h6.4M1191.9,365.7V398.3M1188.7,365.7h6.4M1188.7,398.3h6.4M1192.0,358.7V386.6M1188.8,358.7h6.4M1188.8,386.6h6.4M1192.1,364.8V378.2M1188.9,364.8h6.4M1188.9,378.2h6.4M1192.2,342.6V371.6M1189.0,342.6h6.4M1189.0,371.6h6.4M1192.3,333.7V350.9M1189.1,333.7h6.4M1189.1,350.9h6.4M1192.4,323.5V348.3M1189.2,323.5h6.4M1189.2,348.3h6.4M1192.4,302.5V336.7M1189.2,302.5h6.4M1189.2,336.7h6.4M1192.5,304.9V324.1M1189.3,304.9h6.4M1189.3,324.1h6.4M1192.6,284.2V312.4M1189.4,284.2h6.4M1189.4,312.4h6.4M1192.7,272.8V304.7M1189.5,272.8h6.4M1189.5,304.7h6.4M1192.8,267.9V289.1M1189.6,267.9h6.4M1189.6,289.1h6.4M1192.9,252.1V287.7M1189.7,252.1h6.4M1189.7,287.7h6.4M1192.9,243.6V267.5M1189.7,243.6h6.4M1189.7,267.5h6.4M1193.1,265.1V287.4M1189.9,265.1h6.4M1189.9,287.4h6.4M1193.5,263.3V290.0M1190.3,263.3h6.4M1190.3,290.0h6.4M1193.9,246.1V276.9M1190.7,246.1h6.4M1190.7,276.9h6.4M1194.3,256.9V284.8M1191.1,256.9h6.4M1191.1,284.8h6.4M1194.6,244.8V273.7M1191.4,244.8h6.4M1191.4,273.7h6.4M1195.0,261.6V282.1M1191.8,261.6h6.4M1191.8,282.1h6.4M1195.4,239.5V252.3M1192.2,239.5h6.4M1192.2,252.3h6.4M1195.8,251.3V275.1M1192.6,251.3h6.4M1192.6,275.1h6.4M1196.2,253.1V273.1M1193.0,253.1h6.4M1193.0,273.1h6.4M1196.6,245.5V267.7M1193.4,245.5h6.4M1193.4,267.7h6.4M1197.0,257.3V273.0M1193.8,257.3h6.4M1193.8,273.0h6.4M1197.4,268.4V285.0M1194.2,268.4h6.4M1194.2,285.0h6.4M1197.8,252.7V278.1M1194.6,252.7h6.4M1194.6,278.1h6.4M1198.1,252.3V269.1M1194.9,252.3h6.4M1194.9,269.1h6.4M1198.5,253.3V274.1M1195.3,253.3h6.4M1195.3,274.1h6.4M1198.9,252.1V265.9M1195.7,252.1h6.4M1195.7,265.9h6.4M1199.3,263.8V278.8M1196.1,263.8h6.4M1196.1,278.8h6.4M1199.7,262.5V288.0M1196.5,262.5h6.4M1196.5,288.0h6.4M1200.1,270.2V296.6M1196.9,270.2h6.4M1196.9,296.6h6.4M1200.5,250.4V282.3M1197.3,250.4h6.4M1197.3,282.3h6.4M1200.9,267.5V297.0M1197.7,267.5h6.4M1197.7,297.0h6.4M1201.2,262.9V291.0M1198.0,262.9h6.4M1198.0,291.0h6.4M1201.6,275.6V310.4M1198.4,275.6h6.4M1198.4,310.4h6.4M1202.0,276.1V304.4M1198.8,276.1h6.4M1198.8,304.4h6.4M1202.4,268.6V296.2M1199.2,268.6h6.4M1199.2,296.2h6.4M1202.8,251.7V274.3M1199.6,251.7h6.4M1199.6,274.3h6.4M1203.2,273.0V286.7M1200.0,273.0h6.4M1200.0,286.7h6.4M1203.6,281.1V305.3M1200.4,281.1h6.4M1200.4,305.3h6.4M1204.0,271.7V306.5M1200.8,271.7h6.4M1200.8,306.5h6.4M1204.3,250.8V275.7M1201.1,250.8h6.4M1201.1,275.7h6.4M1204.7,271.9V287.0M1201.5,271.9h6.4M1201.5,287.0h6.4M1205.1,293.4V318.6M1201.9,293.4h6.4M1201.9,318.6h6.4M1205.5,276.1V290.6M1202.3,276.1h6.4M1202.3,290.6h6.4M1205.9,279.1V297.9M1202.7,279.1h6.4M1202.7,297.9h6.4M1206.3,267.3V281.3M1203.1,267.3h6.4M1203.1,281.3h6.4M1206.7,280.4V293.0M1203.5,280.4h6.4M1203.5,293.0h6.4M1207.1,285.3V306.2M1203.9,285.3h6.4M1203.9,306.2h6.4M1207.4,263.5V291.9M1204.2,263.5h6.4M1204.2,291.9h6.4M1211.9,290.0V305.5M1208.7,290.0h6.4M1208.7,305.5h6.4M1216.4,297.9V319.8M1213.2,297.9h6.4M1213.2,319.8h6.4M1220.8,298.5V322.2M1217.6,298.5h6.4M1217.6,322.2h6.4M1225.3,301.3V321.5M1222.1,301.3h6.4M1222.1,321.5h6.4M1229.8,321.3V352.6M1226.6,321.3h6.4M1226.6,352.6h6.4M1234.3,296.2V331.7M1231.1,296.2h6.4M1231.1,331.7h6.4M1238.8,308.0V340.9M1235.6,308.0h6.4M1235.6,340.9h6.4M1243.2,314.0V333.3M1240.0,314.0h6.4M1240.0,333.3h6.4M1247.7,306.2V331.7M1244.5,306.2h6.4M1244.5,331.7h6.4M1252.2,324.2V357.9M1249.0,324.2h6.4M1249.0,357.9h6.4M1255.2,327.9V349.0M1252.0,327.9h6.4M1252.0,349.0h6.4M1264.9,318.8V342.9M1261.7,318.8h6.4M1261.7,342.9h6.4M1274.6,317.1V352.2M1271.4,317.1h6.4M1271.4,352.2h6.4M1284.3,340.5V367.1M1281.1,340.5h6.4M1281.1,367.1h6.4M1294.0,332.5V358.9M1290.8,332.5h6.4M1290.8,358.9h6.4M1303.7,348.7V366.3M1300.5,348.7h6.4M1300.5,366.3h6.4M1313.4,346.9V382.1M1310.2,346.9h6.4M1310.2,382.1h6.4M1323.0,353.9V373.7M1319.8,353.9h6.4M1319.8,373.7h6.4M1332.7,341.0V369.1M1329.5,341.0h6.4M1329.5,369.1h6.4M1342.4,369.1V386.2M1339.2,369.1h6.4M1339.2,386.2h6.4M1352.1,351.4V367.7M1348.9,351.4h6.4M1348.9,367.7h6.4M1361.8,340.9V362.3M1358.6,340.9h6.4M1358.6,362.3h6.4M1371.5,347.4V373.0M1368.3,347.4h6.4M1368.3,373.0h6.4M1381.2,352.8V378.8M1378.0,352.8h6.4M1378.0,378.8h6.4M1390.9,351.3V371.8M1387.7,351.3h6.4M1387.7,371.8h6.4M1400.6,345.2V360.7M1397.4,345.2h6.4M1397.4,360.7h6.4M1410.3,357.0V372.0M1407.1,357.0h6.4M1407.1,372.0h6.4M1420.0,354.3V386.2M1416.8,354.3h6.4M1416.8,386.2h6.4M1429.7,358.4V376.4M1426.5,358.4h6.4M1426.5,376.4h6.4M1439.4,345.1V359.6M1436.2,345.1h6.4M1436.2,359.6h6.4M1449.1,342.6V361.4M1445.9,342.6h6.4M1445.9,361.4h6.4M1458.8,336.6V362.1M1455.6,336.6h6.4M1455.6,362.1h6.4M1468.5,364.6V385.9M1465.3,364.6h6.4M1465.3,385.9h6.4M1478.2,369.6V388.2M1475.0,369.6h6.4M1475.0,388.2h6.4M1487.9,343.8V377.3M1484.7,343.8h6.4M1484.7,377.3h6.4M1497.6,351.5V368.1M1494.4,351.5h6.4M1494.4,368.1h6.4M1507.3,351.9V375.6M1504.1,351.9h6.4M1504.1,375.6h6.4M1517.0,365.6V388.8M1513.8,365.6h6.4M1513.8,388.8h6.4M1526.7,361.9V381.1M1523.5,361.9h6.4M1523.5,381.1h6.4M1536.4,347.5V369.6M1533.2,347.5h6.4M1533.2,369.6h6.4M1546.1,364.4V390.0M1542.9,364.4h6.4M1542.9,390.0h6.4M1555.8,352.6V385.0M1552.6,352.6h6.4M1552.6,385.0h6.4M1565.5,341.0V372.2M1562.3,341.0h6.4M1562.3,372.2h6.4M1575.2,345.4V369.6M1572.0,345.4h6.4M1572.0,369.6h6.4M1584.9,342.7V359.0M1581.7,342.7h6.4M1581.7,359.0h6.4M1594.6,344.0V370.0M1591.4,344.0h6.4M1591.4,370.0h6.4M1604.3,368.2V397.2M1601.1,368.2h6.4M1601.1,397.2h6.4" fill="none" stroke="#7ccb92" stroke-width="1.3" stroke-opacity="0.7"/>
<path d="M1189.5,390.5V414.0M1186.3,390.5h6.4M1186.3,414.0h6.4M1189.9,388.1V407.2M1186.7,388.1h6.4M1186.7,407.2h6.4M1190.3,392.7V416.7M1187.1,392.7h6.4M1187.1,416.7h6.4M1190.6,377.6V413.8M1187.4,377.6h6.4M1187.4,413.8h6.4M1191.0,404.0V435.1M1187.8,404.0h6.4M1187.8,435.1h6.4M1191.4,398.5V418.4M1188.2,398.5h6.4M1188.2,418.4h6.4M1191.8,396.0V409.3M1188.6,396.0h6.4M1188.6,409.3h6.4M1191.8,383.8V412.8M1188.6,383.8h6.4M1188.6,412.8h6.4M1191.9,368.9V394.0M1188.7,368.9h6.4M1188.7,394.0h6.4M1192.0,350.2V379.4M1188.8,350.2h6.4M1188.8,379.4h6.4M1192.1,338.7V365.7M1188.9,338.7h6.4M1188.9,365.7h6.4M1192.2,321.7V346.5M1189.0,321.7h6.4M1189.0,346.5h6.4M1192.3,308.9V341.8M1189.1,308.9h6.4M1189.1,341.8h6.4M1192.4,311.4V343.3M1189.2,311.4h6.4M1189.2,343.3h6.4M1192.4,283.9V322.1M1189.2,283.9h6.4M1189.2,322.1h6.4M1192.5,267.3V298.3M1189.3,267.3h6.4M1189.3,298.3h6.4M1192.6,259.4V288.2M1189.4,259.4h6.4M1189.4,288.2h6.4M1192.7,246.1V262.8M1189.5,246.1h6.4M1189.5,262.8h6.4M1192.8,229.9V263.4M1189.6,229.9h6.4M1189.6,263.4h6.4M1192.9,212.8V251.2M1189.7,212.8h6.4M1189.7,251.2h6.4M1192.9,223.4V235.5M1189.7,223.4h6.4M1189.7,235.5h6.4M1193.1,215.5V234.1M1189.9,215.5h6.4M1189.9,234.1h6.4M1193.5,194.3V229.9M1190.3,194.3h6.4M1190.3,229.9h6.4M1193.9,216.9V241.8M1190.7,216.9h6.4M1190.7,241.8h6.4M1194.3,223.6V255.5M1191.1,223.6h6.4M1191.1,255.5h6.4M1194.6,212.3V250.6M1191.4,212.3h6.4M1191.4,250.6h6.4M1195.0,223.7V247.4M1191.8,223.7h6.4M1191.8,247.4h6.4M1195.4,221.8V237.7M1192.2,221.8h6.4M1192.2,237.7h6.4M1195.8,212.1V251.4M1192.6,212.1h6.4M1192.6,251.4h6.4M1196.2,232.1V251.8M1193.0,232.1h6.4M1193.0,251.8h6.4M1196.6,237.5V273.4M1193.4,237.5h6.4M1193.4,273.4h6.4M1197.0,243.1V266.5M1193.8,243.1h6.4M1193.8,266.5h6.4M1197.4,235.2V254.6M1194.2,235.2h6.4M1194.2,254.6h6.4M1197.8,246.0V260.7M1194.6,246.0h6.4M1194.6,260.7h6.4M1198.1,238.3V259.8M1194.9,238.3h6.4M1194.9,259.8h6.4M1198.5,227.4V262.5M1195.3,227.4h6.4M1195.3,262.5h6.4M1198.9,244.4V271.7M1195.7,244.4h6.4M1195.7,271.7h6.4M1199.3,225.5V248.0M1196.1,225.5h6.4M1196.1,248.0h6.4M1199.7,259.8V281.3M1196.5,259.8h6.4M1196.5,281.3h6.4M1200.1,224.6V255.2M1196.9,224.6h6.4M1196.9,255.2h6.4M1200.5,251.5V272.5M1197.3,251.5h6.4M1197.3,272.5h6.4M1200.9,245.8V266.5M1197.7,245.8h6.4M1197.7,266.5h6.4M1201.2,229.2V253.9M1198.0,229.2h6.4M1198.0,253.9h6.4M1201.6,242.3V262.8M1198.4,242.3h6.4M1198.4,262.8h6.4M1202.0,238.7V268.0M1198.8,238.7h6.4M1198.8,268.0h6.4M1202.4,233.2V271.4M1199.2,233.2h6.4M1199.2,271.4h6.4M1202.8,253.8V270.7M1199.6,253.8h6.4M1199.6,270.7h6.4M1203.2,261.0V295.6M1200.0,261.0h6.4M1200.0,295.6h6.4M1203.6,249.3V272.4M1200.4,249.3h6.4M1200.4,272.4h6.4M1204.0,264.8V284.0M1200.8,264.8h6.4M1200.8,284.0h6.4M1204.3,260.6V291.0M1201.1,260.6h6.4M1201.1,291.0h6.4M1204.7,253.9V274.0M1201.5,253.9h6.4M1201.5,274.0h6.4M1205.1,256.1V286.9M1201.9,256.1h6.4M1201.9,286.9h6.4M1205.5,260.6V282.0M1202.3,260.6h6.4M1202.3,282.0h6.4M1205.9,259.7V291.9M1202.7,259.7h6.4M1202.7,291.9h6.4M1206.3,250.7V279.6M1203.1,250.7h6.4M1203.1,279.6h6.4M1206.7,251.6V268.8M1203.5,251.6h6.4M1203.5,268.8h6.4M1207.1,260.4V276.8M1203.9,260.4h6.4M1203.9,276.8h6.4M1207.4,274.8V293.2M1204.2,274.8h6.4M1204.2,293.2h6.4M1211.9,266.7V291.4M1208.7,266.7h6.4M1208.7,291.4h6.4M1216.4,266.0V294.5M1213.2,266.0h6.4M1213.2,294.5h6.4M1220.8,285.6V316.4M1217.6,285.6h6.4M1217.6,316.4h6.4M1225.3,297.5V315.5M1222.1,297.5h6.4M1222.1,315.5h6.4M1229.8,280.5V304.1M1226.6,280.5h6.4M1226.6,304.1h6.4M1234.3,295.4V333.5M1231.1,295.4h6.4M1231.1,333.5h6.4M1238.8,297.5V323.6M1235.6,297.5h6.4M1235.6,323.6h6.4M1243.2,283.6V320.3M1240.0,283.6h6.4M1240.0,320.3h6.4M1247.7,290.7V329.1M1244.5,290.7h6.4M1244.5,329.1h6.4M1252.2,306.3V334.3M1249.0,306.3h6.4M1249.0,334.3h6.4M1255.2,321.5V348.5M1252.0,321.5h6.4M1252.0,348.5h6.4M1264.9,301.7V341.6M1261.7,301.7h6.4M1261.7,341.6h6.4M1274.6,317.1V334.9M1271.4,317.1h6.4M1271.4,334.9h6.4M1284.3,308.9V330.6M1281.1,308.9h6.4M1281.1,330.6h6.4M1294.0,341.7V376.7M1290.8,341.7h6.4M1290.8,376.7h6.4M1303.7,330.6V367.1M1300.5,330.6h6.4M1300.5,367.1h6.4M1313.4,327.5V351.7M1310.2,327.5h6.4M1310.2,351.7h6.4M1323.0,342.4V356.0M1319.8,342.4h6.4M1319.8,356.0h6.4M1332.7,351.9V370.0M1329.5,351.9h6.4M1329.5,370.0h6.4M1342.4,338.4V367.0M1339.2,338.4h6.4M1339.2,367.0h6.4M1352.1,357.7V385.4M1348.9,357.7h6.4M1348.9,385.4h6.4M1361.8,336.9V361.6M1358.6,336.9h6.4M1358.6,361.6h6.4M1371.5,353.9V370.3M1368.3,353.9h6.4M1368.3,370.3h6.4M1381.2,346.8V381.5M1378.0,346.8h6.4M1378.0,381.5h6.4M1390.9,368.4V385.0M1387.7,368.4h6.4M1387.7,385.0h6.4M1400.6,347.6V366.8M1397.4,347.6h6.4M1397.4,366.8h6.4M1410.3,367.5V402.3M1407.1,367.5h6.4M1407.1,402.3h6.4M1420.0,356.3V375.8M1416.8,356.3h6.4M1416.8,375.8h6.4M1429.7,357.6V388.1M1426.5,357.6h6.4M1426.5,388.1h6.4M1439.4,333.2V366.0M1436.2,333.2h6.4M1436.2,366.0h6.4M1449.1,371.0V386.5M1445.9,371.0h6.4M1445.9,386.5h6.4M1458.8,344.9V384.3M1455.6,344.9h6.4M1455.6,384.3h6.4M1468.5,352.3V377.0M1465.3,352.3h6.4M1465.3,377.0h6.4M1478.2,341.9V377.3M1475.0,341.9h6.4M1475.0,377.3h6.4M1487.9,366.9V387.7M1484.7,366.9h6.4M1484.7,387.7h6.4M1497.6,367.7V390.9M1494.4,367.7h6.4M1494.4,390.9h6.4M1507.3,354.9V375.4M1504.1,354.9h6.4M1504.1,375.4h6.4M1517.0,332.0V367.0M1513.8,332.0h6.4M1513.8,367.0h6.4M1526.7,362.9V393.8M1523.5,362.9h6.4M1523.5,393.8h6.4M1536.4,371.7V401.2M1533.2,371.7h6.4M1533.2,401.2h6.4M1546.1,360.3V395.5M1542.9,360.3h6.4M1542.9,395.5h6.4M1555.8,353.7V392.2M1552.6,353.7h6.4M1552.6,392.2h6.4M1565.5,353.3V390.2M1562.3,353.3h6.4M1562.3,390.2h6.4M1575.2,348.6V368.8M1572.0,348.6h6.4M1572.0,368.8h6.4M1584.9,366.4V385.5M1581.7,366.4h6.4M1581.7,385.5h6.4M1594.6,348.6V363.0M1591.4,348.6h6.4M1591.4,363.0h6.4M1604.3,379.3V395.4M1601.1,379.3h6.4M1601.1,395.4h6.4" fill="none" stroke="#4aa466" stroke-width="1.3" stroke-opacity="0.75"/>
<path d="M1189.5,401.6V425.0M1186.3,401.6h6.4M1186.3,425.0h6.4M1189.9,399.0V425.0M1186.7,399.0h6.4M1186.7,425.0h6.4M1190.3,387.1V423.3M1187.1,387.1h6.4M1187.1,423.3h6.4M1190.6,387.1V411.7M1187.4,387.1h6.4M1187.4,411.7h6.4M1191.0,381.7V404.5M1187.8,381.7h6.4M1187.8,404.5h6.4M1191.4,377.3V416.1M1188.2,377.3h6.4M1188.2,416.1h6.4M1191.8,384.0V405.6M1188.6,384.0h6.4M1188.6,405.6h6.4M1191.8,368.1V381.2M1188.6,368.1h6.4M1188.6,381.2h6.4M1191.9,335.3V373.7M1188.7,335.3h6.4M1188.7,373.7h6.4M1192.0,330.6V348.8M1188.8,330.6h6.4M1188.8,348.8h6.4M1192.1,299.2V322.6M1188.9,299.2h6.4M1188.9,322.6h6.4M1192.2,287.0V313.6M1189.0,287.0h6.4M1189.0,313.6h6.4M1192.3,246.2V285.2M1189.1,246.2h6.4M1189.1,285.2h6.4M1192.4,236.7V264.3M1189.2,236.7h6.4M1189.2,264.3h6.4M1192.4,215.0V231.4M1189.2,215.0h6.4M1189.2,231.4h6.4M1192.5,187.2V225.1M1189.3,187.2h6.4M1189.3,225.1h6.4M1192.6,173.1V190.2M1189.4,173.1h6.4M1189.4,190.2h6.4M1192.7,140.7V152.9M1189.5,140.7h6.4M1189.5,152.9h6.4M1192.8,116.0V130.8M1189.6,116.0h6.4M1189.6,130.8h6.4M1192.9,84.5V122.7M1189.7,84.5h6.4M1189.7,122.7h6.4M1192.9,84.6V112.4M1189.7,84.6h6.4M1189.7,112.4h6.4M1193.1,91.1V133.7M1189.9,91.1h6.4M1189.9,133.7h6.4M1193.5,111.2V124.5M1190.3,111.2h6.4M1190.3,124.5h6.4M1193.9,107.2V120.7M1190.7,107.2h6.4M1190.7,120.7h6.4M1194.3,96.4V125.4M1191.1,96.4h6.4M1191.1,125.4h6.4M1194.6,117.5V143.9M1191.4,117.5h6.4M1191.4,143.9h6.4M1195.0,113.7V135.6M1191.8,113.7h6.4M1191.8,135.6h6.4M1195.4,117.1V146.5M1192.2,117.1h6.4M1192.2,146.5h6.4M1195.8,147.2V175.3M1192.6,147.2h6.4M1192.6,175.3h6.4M1196.2,120.3V155.2M1193.0,120.3h6.4M1193.0,155.2h6.4M1196.6,152.0V176.1M1193.4,152.0h6.4M1193.4,176.1h6.4M1197.0,151.3V177.2M1193.8,151.3h6.4M1193.8,177.2h6.4M1197.4,138.3V163.8M1194.2,138.3h6.4M1194.2,163.8h6.4M1197.8,150.9V181.5M1194.6,150.9h6.4M1194.6,181.5h6.4M1198.1,164.2V207.2M1194.9,164.2h6.4M1194.9,207.2h6.4M1198.5,171.1V189.0M1195.3,171.1h6.4M1195.3,189.0h6.4M1198.9,155.4V177.0M1195.7,155.4h6.4M1195.7,177.0h6.4M1199.3,149.1V192.7M1196.1,149.1h6.4M1196.1,192.7h6.4M1199.7,175.5V197.2M1196.5,175.5h6.4M1196.5,197.2h6.4M1200.1,179.8V213.9M1196.9,179.8h6.4M1196.9,213.9h6.4M1200.5,173.6V203.8M1197.3,173.6h6.4M1197.3,203.8h6.4M1200.9,179.3V194.4M1197.7,179.3h6.4M1197.7,194.4h6.4M1201.2,185.2V220.3M1198.0,185.2h6.4M1198.0,220.3h6.4M1201.6,184.1V225.5M1198.4,184.1h6.4M1198.4,225.5h6.4M1202.0,196.1V236.3M1198.8,196.1h6.4M1198.8,236.3h6.4M1202.4,194.3V216.4M1199.2,194.3h6.4M1199.2,216.4h6.4M1202.8,194.2V206.7M1199.6,194.2h6.4M1199.6,206.7h6.4M1203.2,163.0V203.8M1200.0,163.0h6.4M1200.0,203.8h6.4M1203.6,180.5V210.9M1200.4,180.5h6.4M1200.4,210.9h6.4M1204.0,204.1V221.8M1200.8,204.1h6.4M1200.8,221.8h6.4M1204.3,198.9V230.3M1201.1,198.9h6.4M1201.1,230.3h6.4M1204.7,183.2V208.6M1201.5,183.2h6.4M1201.5,208.6h6.4M1205.1,198.1V215.1M1201.9,198.1h6.4M1201.9,215.1h6.4M1205.5,208.9V231.8M1202.3,208.9h6.4M1202.3,231.8h6.4M1205.9,211.3V234.9M1202.7,211.3h6.4M1202.7,234.9h6.4M1206.3,215.4V252.5M1203.1,215.4h6.4M1203.1,252.5h6.4M1206.7,192.4V220.3M1203.5,192.4h6.4M1203.5,220.3h6.4M1207.1,216.0V231.1M1203.9,216.0h6.4M1203.9,231.1h6.4M1207.4,206.5V245.9M1204.2,206.5h6.4M1204.2,245.9h6.4M1211.9,214.3V244.7M1208.7,214.3h6.4M1208.7,244.7h6.4M1216.4,251.2V272.0M1213.2,251.2h6.4M1213.2,272.0h6.4M1220.8,247.9V291.1M1217.6,247.9h6.4M1217.6,291.1h6.4M1225.3,263.4V300.0M1222.1,263.4h6.4M1222.1,300.0h6.4M1229.8,258.7V292.1M1226.6,258.7h6.4M1226.6,292.1h6.4M1234.3,226.7V267.4M1231.1,226.7h6.4M1231.1,267.4h6.4M1238.8,226.3V269.1M1235.6,226.3h6.4M1235.6,269.1h6.4M1243.2,276.0V291.5M1240.0,276.0h6.4M1240.0,291.5h6.4M1247.7,276.2V297.5M1244.5,276.2h6.4M1244.5,297.5h6.4M1252.2,268.1V304.4M1249.0,268.1h6.4M1249.0,304.4h6.4M1255.2,292.7V319.5M1252.0,292.7h6.4M1252.0,319.5h6.4M1264.9,274.5V306.4M1261.7,274.5h6.4M1261.7,306.4h6.4M1274.6,233.2V294.4M1271.4,233.2h6.4M1271.4,294.4h6.4M1284.3,306.5V330.2M1281.1,306.5h6.4M1281.1,330.2h6.4M1294.0,283.3V327.2M1290.8,283.3h6.4M1290.8,327.2h6.4M1303.7,292.3V305.7M1300.5,292.3h6.4M1300.5,305.7h6.4M1313.4,320.8V335.0M1310.2,320.8h6.4M1310.2,335.0h6.4M1323.0,296.6V315.7M1319.8,296.6h6.4M1319.8,315.7h6.4M1332.7,312.6V328.9M1329.5,312.6h6.4M1329.5,328.9h6.4M1342.4,325.1V357.4M1339.2,325.1h6.4M1339.2,357.4h6.4M1352.1,318.8V335.4M1348.9,318.8h6.4M1348.9,335.4h6.4M1361.8,328.4V343.1M1358.6,328.4h6.4M1358.6,343.1h6.4M1371.5,311.3V348.6M1368.3,311.3h6.4M1368.3,348.6h6.4M1381.2,325.0V354.6M1378.0,325.0h6.4M1378.0,354.6h6.4M1390.9,323.8V336.2M1387.7,323.8h6.4M1387.7,336.2h6.4M1400.6,310.5V348.2M1397.4,310.5h6.4M1397.4,348.2h6.4M1410.3,316.7V337.0M1407.1,316.7h6.4M1407.1,337.0h6.4M1420.0,345.5V367.6M1416.8,345.5h6.4M1416.8,367.6h6.4M1429.7,326.9V340.4M1426.5,326.9h6.4M1426.5,340.4h6.4M1439.4,336.3V363.7M1436.2,336.3h6.4M1436.2,363.7h6.4M1449.1,299.5V350.2M1445.9,299.5h6.4M1445.9,350.2h6.4M1458.8,353.2V366.3M1455.6,353.2h6.4M1455.6,366.3h6.4M1468.5,338.6V361.6M1465.3,338.6h6.4M1465.3,361.6h6.4M1478.2,329.9V365.9M1475.0,329.9h6.4M1475.0,365.9h6.4M1487.9,323.1V352.0M1484.7,323.1h6.4M1484.7,352.0h6.4M1497.6,344.4V359.7M1494.4,344.4h6.4M1494.4,359.7h6.4M1507.3,371.8V392.0M1504.1,371.8h6.4M1504.1,392.0h6.4M1517.0,340.8V380.3M1513.8,340.8h6.4M1513.8,380.3h6.4M1526.7,354.9V379.2M1523.5,354.9h6.4M1523.5,379.2h6.4M1536.4,366.7V410.7M1533.2,366.7h6.4M1533.2,410.7h6.4M1546.1,348.9V389.8M1542.9,348.9h6.4M1542.9,389.8h6.4M1555.8,332.7V365.2M1552.6,332.7h6.4M1552.6,365.2h6.4M1565.5,334.9V377.5M1562.3,334.9h6.4M1562.3,377.5h6.4M1575.2,353.2V381.6M1572.0,353.2h6.4M1572.0,381.6h6.4M1584.9,349.9V378.0M1581.7,349.9h6.4M1581.7,378.0h6.4M1594.6,361.1V375.3M1591.4,361.1h6.4M1591.4,375.3h6.4M1604.3,332.2V359.4M1601.1,332.2h6.4M1601.1,359.4h6.4" fill="none" stroke="#2e6a3a" stroke-width="1.3" stroke-opacity="0.85"/>
<polyline points="1192.5,333.1 1193.0,333.2 1193.5,333.2 1194.0,333.3 1194.5,333.4 1195.0,333.5 1195.5,333.7 1196.0,333.8 1196.5,334.0 1197.1,334.1 1197.6,334.3 1198.1,334.5 1198.6,334.6 1199.1,334.8 1199.6,335.0 1200.1,335.1 1200.6,335.3 1201.1,335.5 1201.6,335.6 1202.1,335.8 1202.6,335.9 1203.1,336.1 1203.6,336.2 1204.1,336.4 1204.6,336.6 1205.1,336.7 1205.6,336.9 1206.2,337.0 1206.7,337.1 1207.2,337.3 1207.7,337.4 1208.2,337.6 1208.7,337.7 1209.2,337.8 1209.7,338.0 1210.2,338.1 1210.7,338.2 1211.2,338.4 1211.7,338.5 1212.2,338.6 1212.7,338.7 1213.2,338.8 1213.7,339.0 1214.2,339.1 1214.8,339.2 1215.3,339.3 1215.8,339.4 1216.3,339.5 1216.8,339.6 1217.3,339.7 1217.8,339.9 1218.3,340.0 1218.8,340.1 1219.3,340.2 1219.8,340.3 1220.3,340.4 1220.8,340.5 1221.3,340.6 1221.8,340.6 1222.3,340.7 1222.3,340.7 1225.6,341.3 1228.9,341.9 1232.1,342.4 1235.4,342.8 1238.6,343.2 1241.9,343.6 1245.2,344.0 1248.4,344.4 1251.7,344.8 1254.9,345.2 1258.2,345.6 1261.5,346.0 1264.7,346.4 1268.0,346.8 1271.2,347.2 1274.5,347.6 1277.8,348.0 1281.0,348.3 1284.3,348.7 1287.5,349.0 1290.8,349.4 1294.1,349.7 1297.3,350.1 1300.6,350.4 1303.8,350.7 1307.1,351.0 1310.4,351.3 1313.6,351.6 1316.9,351.9 1320.1,352.2 1323.4,352.4 1326.7,352.7 1329.9,353.0 1333.2,353.2 1336.4,353.5 1339.7,353.7 1343.0,354.0 1346.2,354.2 1349.5,354.4 1352.7,354.7 1356.0,354.9 1359.3,355.1 1362.5,355.4 1365.8,355.6 1369.0,355.8 1372.3,356.1 1375.6,356.3 1378.8,356.5 1382.1,356.7 1385.3,356.9 1388.6,357.1 1391.9,357.4 1395.1,357.6 1398.4,357.8 1401.6,358.0 1404.9,358.2 1408.2,358.4 1411.4,358.6 1414.7,358.8 1417.9,359.0 1421.2,359.2 1424.4,359.4 1427.7,359.6 1431.0,359.8 1434.2,360.0 1437.5,360.2 1440.7,360.3 1444.0,360.5 1447.3,360.7 1450.5,360.9 1453.8,361.1 1457.0,361.3 1460.3,361.5 1463.6,361.7 1466.8,361.8 1470.1,362.0 1473.3,362.2 1476.6,362.4 1479.9,362.6 1483.1,362.8 1486.4,363.0 1489.6,363.2 1492.9,363.3 1496.2,363.5 1499.4,363.7 1502.7,363.9 1505.9,364.1 1509.2,364.3 1512.5,364.5 1515.7,364.7 1519.0,364.9 1522.2,365.0 1525.5,365.2 1528.8,365.4 1532.0,365.6 1535.3,365.8 1538.5,366.0 1541.8,366.1 1545.1,366.3 1548.3,366.5 1551.6,366.7 1554.8,366.8 1558.1,367.0 1561.4,367.2 1564.6,367.4 1567.9,367.5 1571.1,367.7 1574.4,367.9 1577.7,368.0 1580.9,368.2 1584.2,368.4 1587.4,368.5 1590.7,368.7 1594.0,368.8 1597.2,369.0 1600.5,369.2 1603.7,369.3 1607.0,369.5 1610.3,369.6" fill="none" stroke="#ade0bd" stroke-width="1.6" stroke-opacity="1.0" stroke-linejoin="round"/>
<polyline points="1192.5,259.8 1193.0,260.9 1193.5,262.0 1194.0,263.2 1194.5,264.4 1195.0,265.7 1195.5,266.9 1196.0,268.0 1196.5,269.2 1197.1,270.3 1197.6,271.4 1198.1,272.5 1198.6,273.5 1199.1,274.5 1199.6,275.5 1200.1,276.5 1200.6,277.4 1201.1,278.3 1201.6,279.2 1202.1,280.1 1202.6,280.9 1203.1,281.8 1203.6,282.7 1204.1,283.6 1204.6,284.5 1205.1,285.3 1205.6,286.2 1206.2,287.0 1206.7,287.9 1207.2,288.7 1207.7,289.5 1208.2,290.3 1208.7,291.1 1209.2,291.8 1209.7,292.6 1210.2,293.3 1210.7,294.0 1211.2,294.7 1211.7,295.4 1212.2,296.1 1212.7,296.8 1213.2,297.4 1213.7,298.1 1214.2,298.7 1214.8,299.3 1215.3,299.9 1215.8,300.5 1216.3,301.1 1216.8,301.6 1217.3,302.2 1217.8,302.7 1218.3,303.3 1218.8,303.8 1219.3,304.3 1219.8,304.8 1220.3,305.3 1220.8,305.8 1221.3,306.3 1221.8,306.7 1222.3,307.2 1222.3,307.2 1225.6,310.1 1228.9,312.9 1232.1,315.4 1235.4,317.7 1238.6,319.9 1241.9,321.9 1245.2,323.7 1248.4,325.4 1251.7,327.0 1254.9,328.4 1258.2,329.8 1261.5,331.1 1264.7,332.3 1268.0,333.5 1271.2,334.6 1274.5,335.7 1277.8,336.7 1281.0,337.6 1284.3,338.5 1287.5,339.4 1290.8,340.2 1294.1,341.0 1297.3,341.8 1300.6,342.5 1303.8,343.2 1307.1,343.8 1310.4,344.5 1313.6,345.1 1316.9,345.6 1320.1,346.2 1323.4,346.7 1326.7,347.2 1329.9,347.7 1333.2,348.1 1336.4,348.6 1339.7,349.0 1343.0,349.4 1346.2,349.8 1349.5,350.2 1352.7,350.5 1356.0,350.9 1359.3,351.2 1362.5,351.6 1365.8,351.9 1369.0,352.2 1372.3,352.6 1375.6,352.9 1378.8,353.2 1382.1,353.5 1385.3,353.8 1388.6,354.2 1391.9,354.5 1395.1,354.8 1398.4,355.1 1401.6,355.4 1404.9,355.7 1408.2,356.0 1411.4,356.3 1414.7,356.6 1417.9,356.9 1421.2,357.2 1424.4,357.5 1427.7,357.8 1431.0,358.0 1434.2,358.3 1437.5,358.6 1440.7,358.8 1444.0,359.1 1447.3,359.4 1450.5,359.6 1453.8,359.9 1457.0,360.1 1460.3,360.4 1463.6,360.6 1466.8,360.9 1470.1,361.1 1473.3,361.3 1476.6,361.5 1479.9,361.8 1483.1,362.0 1486.4,362.2 1489.6,362.4 1492.9,362.6 1496.2,362.8 1499.4,363.0 1502.7,363.2 1505.9,363.4 1509.2,363.6 1512.5,363.8 1515.7,364.0 1519.0,364.2 1522.2,364.4 1525.5,364.5 1528.8,364.7 1532.0,364.9 1535.3,365.1 1538.5,365.2 1541.8,365.4 1545.1,365.6 1548.3,365.8 1551.6,365.9 1554.8,366.1 1558.1,366.2 1561.4,366.4 1564.6,366.6 1567.9,366.7 1571.1,366.9 1574.4,367.0 1577.7,367.2 1580.9,367.3 1584.2,367.5 1587.4,367.6 1590.7,367.8 1594.0,367.9 1597.2,368.1 1600.5,368.2 1603.7,368.3 1607.0,368.5 1610.3,368.6" fill="none" stroke="#6cc585" stroke-width="1.6" stroke-opacity="1.0" stroke-linejoin="round"/>
<polyline points="1192.5,220.7 1193.0,223.8 1193.5,226.7 1194.0,229.5 1194.5,232.1 1195.0,234.6 1195.5,236.9 1196.0,239.1 1196.5,241.3 1197.1,243.3 1197.6,245.2 1198.1,247.1 1198.6,248.8 1199.1,250.5 1199.6,252.2 1200.1,253.7 1200.6,255.3 1201.1,256.7 1201.6,258.1 1202.1,259.5 1202.6,260.8 1203.1,262.1 1203.6,263.4 1204.1,264.7 1204.6,265.9 1205.1,267.0 1205.6,268.2 1206.2,269.3 1206.7,270.4 1207.2,271.5 1207.7,272.5 1208.2,273.5 1208.7,274.5 1209.2,275.5 1209.7,276.4 1210.2,277.3 1210.7,278.2 1211.2,279.1 1211.7,279.9 1212.2,280.7 1212.7,281.6 1213.2,282.3 1213.7,283.1 1214.2,283.9 1214.8,284.6 1215.3,285.3 1215.8,286.0 1216.3,286.7 1216.8,287.4 1217.3,288.0 1217.8,288.7 1218.3,289.3 1218.8,289.9 1219.3,290.5 1219.8,291.1 1220.3,291.7 1220.8,292.2 1221.3,292.8 1221.8,293.3 1222.3,293.9 1222.3,293.9 1225.6,297.0 1228.9,299.9 1232.1,302.5 1235.4,304.9 1238.6,307.1 1241.9,309.2 1245.2,311.2 1248.4,313.1 1251.7,315.0 1254.9,316.7 1258.2,318.4 1261.5,320.1 1264.7,321.7 1268.0,323.3 1271.2,324.8 1274.5,326.3 1277.8,327.7 1281.0,329.0 1284.3,330.3 1287.5,331.5 1290.8,332.7 1294.1,333.8 1297.3,334.9 1300.6,335.9 1303.8,336.8 1307.1,337.8 1310.4,338.6 1313.6,339.5 1316.9,340.3 1320.1,341.0 1323.4,341.8 1326.7,342.5 1329.9,343.1 1333.2,343.8 1336.4,344.4 1339.7,345.0 1343.0,345.5 1346.2,346.1 1349.5,346.6 1352.7,347.1 1356.0,347.7 1359.3,348.1 1362.5,348.6 1365.8,349.1 1369.0,349.5 1372.3,350.0 1375.6,350.4 1378.8,350.8 1382.1,351.3 1385.3,351.7 1388.6,352.1 1391.9,352.5 1395.1,352.9 1398.4,353.2 1401.6,353.6 1404.9,354.0 1408.2,354.3 1411.4,354.7 1414.7,355.0 1417.9,355.3 1421.2,355.7 1424.4,356.0 1427.7,356.3 1431.0,356.6 1434.2,356.9 1437.5,357.2 1440.7,357.5 1444.0,357.8 1447.3,358.1 1450.5,358.3 1453.8,358.6 1457.0,358.9 1460.3,359.2 1463.6,359.4 1466.8,359.7 1470.1,359.9 1473.3,360.2 1476.6,360.4 1479.9,360.7 1483.1,360.9 1486.4,361.2 1489.6,361.4 1492.9,361.7 1496.2,361.9 1499.4,362.1 1502.7,362.4 1505.9,362.6 1509.2,362.8 1512.5,363.0 1515.7,363.2 1519.0,363.5 1522.2,363.7 1525.5,363.9 1528.8,364.1 1532.0,364.3 1535.3,364.5 1538.5,364.7 1541.8,364.9 1545.1,365.1 1548.3,365.3 1551.6,365.5 1554.8,365.7 1558.1,365.9 1561.4,366.1 1564.6,366.2 1567.9,366.4 1571.1,366.6 1574.4,366.8 1577.7,367.0 1580.9,367.1 1584.2,367.3 1587.4,367.5 1590.7,367.7 1594.0,367.8 1597.2,368.0 1600.5,368.2 1603.7,368.3 1607.0,368.5 1610.3,368.7" fill="none" stroke="#3a9c58" stroke-width="1.6" stroke-opacity="1.0" stroke-linejoin="round"/>
<polyline points="1192.5,83.8 1193.0,96.5 1193.5,107.8 1194.0,117.7 1194.5,126.7 1195.0,134.7 1195.5,142.0 1196.0,148.7 1196.5,154.8 1197.1,160.4 1197.6,165.7 1198.1,170.5 1198.6,175.1 1199.1,179.3 1199.6,183.3 1200.1,187.0 1200.6,190.6 1201.1,193.9 1201.6,197.0 1202.1,199.9 1202.6,202.6 1203.1,205.1 1203.6,207.5 1204.1,209.8 1204.6,212.1 1205.1,214.2 1205.6,216.3 1206.2,218.4 1206.7,220.5 1207.2,222.5 1207.7,224.6 1208.2,226.6 1208.7,228.6 1209.2,230.7 1209.7,232.7 1210.2,234.7 1210.7,236.7 1211.2,238.7 1211.7,240.6 1212.2,242.5 1212.7,244.4 1213.2,246.2 1213.7,248.0 1214.2,249.7 1214.8,251.4 1215.3,253.0 1215.8,254.6 1216.3,256.2 1216.8,257.7 1217.3,259.1 1217.8,260.5 1218.3,261.9 1218.8,263.2 1219.3,264.5 1219.8,265.7 1220.3,266.9 1220.8,268.0 1221.3,269.2 1221.8,270.3 1222.3,271.4 1222.3,271.4 1225.6,277.8 1228.9,283.3 1232.1,288.1 1235.4,292.2 1238.6,295.9 1241.9,299.1 1245.2,302.1 1248.4,304.9 1251.7,307.5 1254.9,310.0 1258.2,312.3 1261.5,314.5 1264.7,316.6 1268.0,318.6 1271.2,320.4 1274.5,322.2 1277.8,323.8 1281.0,325.4 1284.3,326.8 1287.5,328.2 1290.8,329.5 1294.1,330.8 1297.3,332.0 1300.6,333.2 1303.8,334.2 1307.1,335.3 1310.4,336.3 1313.6,337.2 1316.9,338.1 1320.1,339.0 1323.4,339.8 1326.7,340.6 1329.9,341.3 1333.2,342.0 1336.4,342.7 1339.7,343.3 1343.0,344.0 1346.2,344.6 1349.5,345.2 1352.7,345.7 1356.0,346.3 1359.3,346.8 1362.5,347.3 1365.8,347.8 1369.0,348.3 1372.3,348.8 1375.6,349.3 1378.8,349.7 1382.1,350.2 1385.3,350.6 1388.6,351.0 1391.9,351.5 1395.1,351.9 1398.4,352.3 1401.6,352.7 1404.9,353.1 1408.2,353.5 1411.4,353.8 1414.7,354.2 1417.9,354.6 1421.2,354.9 1424.4,355.3 1427.7,355.6 1431.0,356.0 1434.2,356.3 1437.5,356.6 1440.7,356.9 1444.0,357.2 1447.3,357.6 1450.5,357.9 1453.8,358.2 1457.0,358.4 1460.3,358.7 1463.6,359.0 1466.8,359.3 1470.1,359.6 1473.3,359.9 1476.6,360.1 1479.9,360.4 1483.1,360.7 1486.4,360.9 1489.6,361.2 1492.9,361.4 1496.2,361.7 1499.4,361.9 1502.7,362.2 1505.9,362.4 1509.2,362.6 1512.5,362.9 1515.7,363.1 1519.0,363.3 1522.2,363.5 1525.5,363.8 1528.8,364.0 1532.0,364.2 1535.3,364.4 1538.5,364.6 1541.8,364.8 1545.1,365.0 1548.3,365.2 1551.6,365.4 1554.8,365.6 1558.1,365.8 1561.4,366.0 1564.6,366.2 1567.9,366.4 1571.1,366.6 1574.4,366.8 1577.7,366.9 1580.9,367.1 1584.2,367.3 1587.4,367.5 1590.7,367.7 1594.0,367.8 1597.2,368.0 1600.5,368.2 1603.7,368.3 1607.0,368.5 1610.3,368.7" fill="none" stroke="#1c6e2c" stroke-width="1.6" stroke-opacity="1.0" stroke-linejoin="round"/>
</g>
<g clip-path="url(#cpd)">
<path d="M1730.1,387.9V394.0M1726.9,387.9h6.4M1726.9,394.0h6.4M1730.5,392.1V396.3M1727.3,392.1h6.4M1727.3,396.3h6.4M1730.8,391.6V396.3M1727.6,391.6h6.4M1727.6,396.3h6.4M1731.2,391.9V397.2M1728.0,391.9h6.4M1728.0,397.2h6.4M1731.6,389.9V394.3M1728.4,389.9h6.4M1728.4,394.3h6.4M1732.0,390.1V396.1M1728.8,390.1h6.4M1728.8,396.1h6.4M1732.3,391.2V397.5M1729.1,391.2h6.4M1729.1,397.5h6.4M1732.4,384.9V394.1M1729.2,384.9h6.4M1729.2,394.1h6.4M1732.5,382.3V392.2M1729.3,382.3h6.4M1729.3,392.2h6.4M1732.6,379.7V388.2M1729.4,379.7h6.4M1729.4,388.2h6.4M1732.7,378.3V385.3M1729.5,378.3h6.4M1729.5,385.3h6.4M1732.8,371.9V381.2M1729.6,371.9h6.4M1729.6,381.2h6.4M1732.9,371.0V380.0M1729.7,371.0h6.4M1729.7,380.0h6.4M1732.9,366.5V373.7M1729.7,366.5h6.4M1729.7,373.7h6.4M1733.0,367.3V372.0M1729.8,367.3h6.4M1729.8,372.0h6.4M1733.1,359.2V368.9M1729.9,359.2h6.4M1729.9,368.9h6.4M1733.2,356.0V361.8M1730.0,356.0h6.4M1730.0,361.8h6.4M1733.3,351.2V358.9M1730.1,351.2h6.4M1730.1,358.9h6.4M1733.4,349.2V358.8M1730.2,349.2h6.4M1730.2,358.8h6.4M1733.5,346.1V350.9M1730.3,346.1h6.4M1730.3,350.9h6.4M1733.6,345.1V351.3M1730.4,345.1h6.4M1730.4,351.3h6.4M1733.7,342.1V349.3M1730.5,342.1h6.4M1730.5,349.3h6.4M1734.1,344.7V354.6M1730.9,344.7h6.4M1730.9,354.6h6.4M1734.5,345.8V349.8M1731.3,345.8h6.4M1731.3,349.8h6.4M1734.9,344.2V349.4M1731.7,344.2h6.4M1731.7,349.4h6.4M1735.3,344.4V348.7M1732.1,344.4h6.4M1732.1,348.7h6.4M1735.7,344.5V353.5M1732.5,344.5h6.4M1732.5,353.5h6.4M1736.0,342.3V348.9M1732.8,342.3h6.4M1732.8,348.9h6.4M1736.4,346.4V352.9M1733.2,346.4h6.4M1733.2,352.9h6.4M1736.8,348.3V352.5M1733.6,348.3h6.4M1733.6,352.5h6.4M1737.2,345.4V353.4M1734.0,345.4h6.4M1734.0,353.4h6.4M1737.6,345.9V353.1M1734.4,345.9h6.4M1734.4,353.1h6.4M1738.0,343.4V350.8M1734.8,343.4h6.4M1734.8,350.8h6.4M1738.4,349.1V355.1M1735.2,349.1h6.4M1735.2,355.1h6.4M1738.8,343.1V348.6M1735.6,343.1h6.4M1735.6,348.6h6.4M1739.2,344.3V350.4M1736.0,344.3h6.4M1736.0,350.4h6.4M1739.6,345.2V354.6M1736.4,345.2h6.4M1736.4,354.6h6.4M1740.0,350.3V357.0M1736.8,350.3h6.4M1736.8,357.0h6.4M1740.3,346.0V354.4M1737.1,346.0h6.4M1737.1,354.4h6.4M1740.7,343.4V348.7M1737.5,343.4h6.4M1737.5,348.7h6.4M1741.1,344.0V353.5M1737.9,344.0h6.4M1737.9,353.5h6.4M1741.5,348.7V356.0M1738.3,348.7h6.4M1738.3,356.0h6.4M1741.9,342.3V351.2M1738.7,342.3h6.4M1738.7,351.2h6.4M1742.3,344.1V352.5M1739.1,344.1h6.4M1739.1,352.5h6.4M1742.7,345.5V353.3M1739.5,345.5h6.4M1739.5,353.3h6.4M1743.1,345.0V350.6M1739.9,345.0h6.4M1739.9,350.6h6.4M1743.5,342.1V351.9M1740.3,342.1h6.4M1740.3,351.9h6.4M1743.9,348.4V353.8M1740.7,348.4h6.4M1740.7,353.8h6.4M1744.3,347.0V353.3M1741.1,347.0h6.4M1741.1,353.3h6.4M1744.7,346.1V355.7M1741.5,346.1h6.4M1741.5,355.7h6.4M1745.0,352.9V358.2M1741.8,352.9h6.4M1741.8,358.2h6.4M1745.4,344.7V354.5M1742.2,344.7h6.4M1742.2,354.5h6.4M1745.8,349.6V356.3M1742.6,349.6h6.4M1742.6,356.3h6.4M1746.2,350.3V354.4M1743.0,350.3h6.4M1743.0,354.4h6.4M1746.6,345.5V351.3M1743.4,345.5h6.4M1743.4,351.3h6.4M1747.0,348.1V353.2M1743.8,348.1h6.4M1743.8,353.2h6.4M1747.4,344.7V349.6M1744.2,344.7h6.4M1744.2,349.6h6.4M1747.8,347.2V356.1M1744.6,347.2h6.4M1744.6,356.1h6.4M1748.1,348.7V358.0M1744.9,348.7h6.4M1744.9,358.0h6.4M1752.7,350.1V358.9M1749.5,350.1h6.4M1749.5,358.9h6.4M1757.2,352.3V360.3M1754.0,352.3h6.4M1754.0,360.3h6.4M1761.7,351.0V360.9M1758.5,351.0h6.4M1758.5,360.9h6.4M1766.2,355.5V360.3M1763.0,355.5h6.4M1763.0,360.3h6.4M1770.7,353.7V361.4M1767.5,353.7h6.4M1767.5,361.4h6.4M1775.2,352.6V360.7M1772.0,352.6h6.4M1772.0,360.7h6.4M1779.7,352.2V362.0M1776.5,352.2h6.4M1776.5,362.0h6.4M1784.2,353.3V362.1M1781.0,353.3h6.4M1781.0,362.1h6.4M1788.7,358.3V366.9M1785.5,358.3h6.4M1785.5,366.9h6.4M1793.3,363.6V369.9M1790.1,363.6h6.4M1790.1,369.9h6.4M1796.3,363.4V370.3M1793.1,363.4h6.4M1793.1,370.3h6.4M1806.0,363.9V368.6M1802.8,363.9h6.4M1802.8,368.6h6.4M1815.8,360.3V368.7M1812.6,360.3h6.4M1812.6,368.7h6.4M1825.6,362.7V368.4M1822.4,362.7h6.4M1822.4,368.4h6.4M1835.4,355.7V365.0M1832.2,355.7h6.4M1832.2,365.0h6.4M1845.1,366.5V372.4M1841.9,366.5h6.4M1841.9,372.4h6.4M1854.9,366.1V374.0M1851.7,366.1h6.4M1851.7,374.0h6.4M1864.7,360.3V369.4M1861.5,360.3h6.4M1861.5,369.4h6.4M1874.5,363.8V371.2M1871.3,363.8h6.4M1871.3,371.2h6.4M1884.3,364.8V372.9M1881.1,364.8h6.4M1881.1,372.9h6.4M1894.0,373.1V377.8M1890.8,373.1h6.4M1890.8,377.8h6.4M1903.8,369.2V375.9M1900.6,369.2h6.4M1900.6,375.9h6.4M1913.6,369.2V377.9M1910.4,369.2h6.4M1910.4,377.9h6.4M1923.4,371.6V378.7M1920.2,371.6h6.4M1920.2,378.7h6.4M1933.1,370.3V378.2M1929.9,370.3h6.4M1929.9,378.2h6.4M1942.9,368.9V378.5M1939.7,368.9h6.4M1939.7,378.5h6.4M1952.7,368.6V376.9M1949.5,368.6h6.4M1949.5,376.9h6.4M1962.5,373.6V383.4M1959.3,373.6h6.4M1959.3,383.4h6.4M1972.2,369.4V375.8M1969.0,369.4h6.4M1969.0,375.8h6.4M1982.0,371.1V378.6M1978.8,371.1h6.4M1978.8,378.6h6.4M1991.8,374.2V382.1M1988.6,374.2h6.4M1988.6,382.1h6.4M2001.6,376.3V381.7M1998.4,376.3h6.4M1998.4,381.7h6.4M2011.3,372.3V378.4M2008.1,372.3h6.4M2008.1,378.4h6.4M2021.1,372.7V380.0M2017.9,372.7h6.4M2017.9,380.0h6.4M2030.9,374.5V379.8M2027.7,374.5h6.4M2027.7,379.8h6.4M2040.7,376.8V383.3M2037.5,376.8h6.4M2037.5,383.3h6.4M2050.4,372.1V377.3M2047.2,372.1h6.4M2047.2,377.3h6.4M2060.2,376.4V381.0M2057.0,376.4h6.4M2057.0,381.0h6.4M2070.0,380.0V385.4M2066.8,380.0h6.4M2066.8,385.4h6.4M2079.8,375.2V381.3M2076.6,375.2h6.4M2076.6,381.3h6.4M2089.5,374.8V380.5M2086.3,374.8h6.4M2086.3,380.5h6.4M2099.3,373.9V381.8M2096.1,373.9h6.4M2096.1,381.8h6.4M2109.1,375.4V383.5M2105.9,375.4h6.4M2105.9,383.5h6.4M2118.9,373.6V382.9M2115.7,373.6h6.4M2115.7,382.9h6.4M2128.7,373.7V383.1M2125.5,373.7h6.4M2125.5,383.1h6.4M2138.4,376.2V382.8M2135.2,376.2h6.4M2135.2,382.8h6.4M2148.2,373.3V379.3M2145.0,373.3h6.4M2145.0,379.3h6.4" fill="none" stroke="#cfc4ec" stroke-width="1.3" stroke-opacity="0.55"/>
<path d="M1730.1,390.2V397.0M1726.9,390.2h6.4M1726.9,397.0h6.4M1730.5,389.6V394.7M1727.3,389.6h6.4M1727.3,394.7h6.4M1730.8,386.7V398.3M1727.6,386.7h6.4M1727.6,398.3h6.4M1731.2,389.9V401.3M1728.0,389.9h6.4M1728.0,401.3h6.4M1731.6,389.8V400.3M1728.4,389.8h6.4M1728.4,400.3h6.4M1732.0,388.6V398.7M1728.8,388.6h6.4M1728.8,398.7h6.4M1732.3,389.4V397.8M1729.1,389.4h6.4M1729.1,397.8h6.4M1732.4,382.8V391.5M1729.2,382.8h6.4M1729.2,391.5h6.4M1732.5,369.7V379.1M1729.3,369.7h6.4M1729.3,379.1h6.4M1732.6,361.8V368.0M1729.4,361.8h6.4M1729.4,368.0h6.4M1732.7,354.3V360.8M1729.5,354.3h6.4M1729.5,360.8h6.4M1732.8,343.8V349.1M1729.6,343.8h6.4M1729.6,349.1h6.4M1732.9,339.0V346.1M1729.7,339.0h6.4M1729.7,346.1h6.4M1732.9,327.0V333.0M1729.7,327.0h6.4M1729.7,333.0h6.4M1733.0,316.5V322.8M1729.8,316.5h6.4M1729.8,322.8h6.4M1733.1,306.2V315.6M1729.9,306.2h6.4M1729.9,315.6h6.4M1733.2,294.2V303.4M1730.0,294.2h6.4M1730.0,303.4h6.4M1733.3,287.6V295.9M1730.1,287.6h6.4M1730.1,295.9h6.4M1733.4,279.8V290.3M1730.2,279.8h6.4M1730.2,290.3h6.4M1733.5,271.7V280.0M1730.3,271.7h6.4M1730.3,280.0h6.4M1733.6,263.0V271.6M1730.4,263.0h6.4M1730.4,271.6h6.4M1733.7,265.5V274.7M1730.5,265.5h6.4M1730.5,274.7h6.4M1734.1,265.0V276.2M1730.9,265.0h6.4M1730.9,276.2h6.4M1734.5,265.0V270.4M1731.3,265.0h6.4M1731.3,270.4h6.4M1734.9,267.8V277.3M1731.7,267.8h6.4M1731.7,277.3h6.4M1735.3,265.8V273.5M1732.1,265.8h6.4M1732.1,273.5h6.4M1735.7,266.8V277.5M1732.5,266.8h6.4M1732.5,277.5h6.4M1736.0,271.7V283.0M1732.8,271.7h6.4M1732.8,283.0h6.4M1736.4,275.4V282.9M1733.2,275.4h6.4M1733.2,282.9h6.4M1736.8,274.8V284.8M1733.6,274.8h6.4M1733.6,284.8h6.4M1737.2,273.4V282.2M1734.0,273.4h6.4M1734.0,282.2h6.4M1737.6,272.2V280.5M1734.4,272.2h6.4M1734.4,280.5h6.4M1738.0,273.1V283.9M1734.8,273.1h6.4M1734.8,283.9h6.4M1738.4,280.8V288.3M1735.2,280.8h6.4M1735.2,288.3h6.4M1738.8,275.6V283.7M1735.6,275.6h6.4M1735.6,283.7h6.4M1739.2,280.0V291.4M1736.0,280.0h6.4M1736.0,291.4h6.4M1739.6,276.3V284.4M1736.4,276.3h6.4M1736.4,284.4h6.4M1740.0,280.2V288.9M1736.8,280.2h6.4M1736.8,288.9h6.4M1740.3,285.1V290.7M1737.1,285.1h6.4M1737.1,290.7h6.4M1740.7,282.0V290.7M1737.5,282.0h6.4M1737.5,290.7h6.4M1741.1,284.3V290.1M1737.9,284.3h6.4M1737.9,290.1h6.4M1741.5,287.7V297.3M1738.3,287.7h6.4M1738.3,297.3h6.4M1741.9,288.5V295.8M1738.7,288.5h6.4M1738.7,295.8h6.4M1742.3,283.9V292.8M1739.1,283.9h6.4M1739.1,292.8h6.4M1742.7,283.8V290.8M1739.5,283.8h6.4M1739.5,290.8h6.4M1743.1,289.1V296.1M1739.9,289.1h6.4M1739.9,296.1h6.4M1743.5,292.2V303.6M1740.3,292.2h6.4M1740.3,303.6h6.4M1743.9,282.0V289.3M1740.7,282.0h6.4M1740.7,289.3h6.4M1744.3,288.7V297.8M1741.1,288.7h6.4M1741.1,297.8h6.4M1744.7,292.0V300.1M1741.5,292.0h6.4M1741.5,300.1h6.4M1745.0,287.1V297.8M1741.8,287.1h6.4M1741.8,297.8h6.4M1745.4,287.9V298.3M1742.2,287.9h6.4M1742.2,298.3h6.4M1745.8,294.5V303.5M1742.6,294.5h6.4M1742.6,303.5h6.4M1746.2,292.9V298.6M1743.0,292.9h6.4M1743.0,298.6h6.4M1746.6,291.3V301.1M1743.4,291.3h6.4M1743.4,301.1h6.4M1747.0,288.2V294.2M1743.8,288.2h6.4M1743.8,294.2h6.4M1747.4,298.8V306.5M1744.2,298.8h6.4M1744.2,306.5h6.4M1747.8,296.5V304.7M1744.6,296.5h6.4M1744.6,304.7h6.4M1748.1,296.8V308.4M1744.9,296.8h6.4M1744.9,308.4h6.4M1752.7,299.7V305.1M1749.5,299.7h6.4M1749.5,305.1h6.4M1757.2,307.7V317.2M1754.0,307.7h6.4M1754.0,317.2h6.4M1761.7,317.3V322.8M1758.5,317.3h6.4M1758.5,322.8h6.4M1766.2,315.5V326.1M1763.0,315.5h6.4M1763.0,326.1h6.4M1770.7,319.3V324.4M1767.5,319.3h6.4M1767.5,324.4h6.4M1775.2,323.4V333.1M1772.0,323.4h6.4M1772.0,333.1h6.4M1779.7,330.7V336.2M1776.5,330.7h6.4M1776.5,336.2h6.4M1784.2,332.5V337.9M1781.0,332.5h6.4M1781.0,337.9h6.4M1788.7,327.6V337.7M1785.5,327.6h6.4M1785.5,337.7h6.4M1793.3,334.8V340.6M1790.1,334.8h6.4M1790.1,340.6h6.4M1796.3,333.7V339.0M1793.1,333.7h6.4M1793.1,339.0h6.4M1806.0,338.5V344.5M1802.8,338.5h6.4M1802.8,344.5h6.4M1815.8,337.3V346.8M1812.6,337.3h6.4M1812.6,346.8h6.4M1825.6,345.2V352.7M1822.4,345.2h6.4M1822.4,352.7h6.4M1835.4,345.3V354.1M1832.2,345.3h6.4M1832.2,354.1h6.4M1845.1,350.2V355.3M1841.9,350.2h6.4M1841.9,355.3h6.4M1854.9,347.0V352.5M1851.7,347.0h6.4M1851.7,352.5h6.4M1864.7,341.7V353.4M1861.5,341.7h6.4M1861.5,353.4h6.4M1874.5,344.7V356.4M1871.3,344.7h6.4M1871.3,356.4h6.4M1884.3,352.3V360.4M1881.1,352.3h6.4M1881.1,360.4h6.4M1894.0,358.7V368.5M1890.8,358.7h6.4M1890.8,368.5h6.4M1903.8,360.8V369.2M1900.6,360.8h6.4M1900.6,369.2h6.4M1913.6,359.5V366.6M1910.4,359.5h6.4M1910.4,366.6h6.4M1923.4,364.0V369.5M1920.2,364.0h6.4M1920.2,369.5h6.4M1933.1,358.0V368.7M1929.9,358.0h6.4M1929.9,368.7h6.4M1942.9,361.8V369.4M1939.7,361.8h6.4M1939.7,369.4h6.4M1952.7,366.4V376.9M1949.5,366.4h6.4M1949.5,376.9h6.4M1962.5,366.1V374.4M1959.3,366.1h6.4M1959.3,374.4h6.4M1972.2,363.8V374.5M1969.0,363.8h6.4M1969.0,374.5h6.4M1982.0,369.0V377.0M1978.8,369.0h6.4M1978.8,377.0h6.4M1991.8,369.1V380.3M1988.6,369.1h6.4M1988.6,380.3h6.4M2001.6,371.1V382.7M1998.4,371.1h6.4M1998.4,382.7h6.4M2011.3,369.9V381.1M2008.1,369.9h6.4M2008.1,381.1h6.4M2021.1,376.9V385.2M2017.9,376.9h6.4M2017.9,385.2h6.4M2030.9,375.4V384.1M2027.7,375.4h6.4M2027.7,384.1h6.4M2040.7,373.0V378.2M2037.5,373.0h6.4M2037.5,378.2h6.4M2050.4,368.8V379.6M2047.2,368.8h6.4M2047.2,379.6h6.4M2060.2,371.1V380.0M2057.0,371.1h6.4M2057.0,380.0h6.4M2070.0,372.8V378.2M2066.8,372.8h6.4M2066.8,378.2h6.4M2079.8,376.7V387.6M2076.6,376.7h6.4M2076.6,387.6h6.4M2089.5,367.3V374.0M2086.3,367.3h6.4M2086.3,374.0h6.4M2099.3,371.5V381.0M2096.1,371.5h6.4M2096.1,381.0h6.4M2109.1,373.2V382.2M2105.9,373.2h6.4M2105.9,382.2h6.4M2118.9,375.7V385.6M2115.7,375.7h6.4M2115.7,385.6h6.4M2128.7,366.3V377.8M2125.5,366.3h6.4M2125.5,377.8h6.4M2138.4,375.0V384.2M2135.2,375.0h6.4M2135.2,384.2h6.4M2148.2,373.5V385.1M2145.0,373.5h6.4M2145.0,385.1h6.4" fill="none" stroke="#a48cd8" stroke-width="1.3" stroke-opacity="0.7"/>
<path d="M1730.1,385.9V397.0M1726.9,385.9h6.4M1726.9,397.0h6.4M1730.5,391.8V398.7M1727.3,391.8h6.4M1727.3,398.7h6.4M1730.8,389.1V398.6M1727.6,389.1h6.4M1727.6,398.6h6.4M1731.2,386.3V397.1M1728.0,386.3h6.4M1728.0,397.1h6.4M1731.6,392.3V398.2M1728.4,392.3h6.4M1728.4,398.2h6.4M1732.0,393.6V403.5M1728.8,393.6h6.4M1728.8,403.5h6.4M1732.3,391.2V396.3M1729.1,391.2h6.4M1729.1,396.3h6.4M1732.4,371.4V379.1M1729.2,371.4h6.4M1729.2,379.1h6.4M1732.5,356.0V363.0M1729.3,356.0h6.4M1729.3,363.0h6.4M1732.6,339.6V345.6M1729.4,339.6h6.4M1729.4,345.6h6.4M1732.7,313.6V326.2M1729.5,313.6h6.4M1729.5,326.2h6.4M1732.8,303.3V314.4M1729.6,303.3h6.4M1729.6,314.4h6.4M1732.9,285.5V297.9M1729.7,285.5h6.4M1729.7,297.9h6.4M1732.9,273.4V283.3M1729.7,273.4h6.4M1729.7,283.3h6.4M1733.0,249.0V260.0M1729.8,249.0h6.4M1729.8,260.0h6.4M1733.1,240.3V250.8M1729.9,240.3h6.4M1729.9,250.8h6.4M1733.2,212.7V224.1M1730.0,212.7h6.4M1730.0,224.1h6.4M1733.3,201.9V214.2M1730.1,201.9h6.4M1730.1,214.2h6.4M1733.4,190.2V198.4M1730.2,190.2h6.4M1730.2,198.4h6.4M1733.5,168.3V179.4M1730.3,168.3h6.4M1730.3,179.4h6.4M1733.6,158.9V165.9M1730.4,158.9h6.4M1730.4,165.9h6.4M1733.7,151.1V160.2M1730.5,151.1h6.4M1730.5,160.2h6.4M1734.1,154.0V160.9M1730.9,154.0h6.4M1730.9,160.9h6.4M1734.5,153.7V163.9M1731.3,153.7h6.4M1731.3,163.9h6.4M1734.9,159.5V167.2M1731.7,159.5h6.4M1731.7,167.2h6.4M1735.3,165.5V170.8M1732.1,165.5h6.4M1732.1,170.8h6.4M1735.7,162.2V172.8M1732.5,162.2h6.4M1732.5,172.8h6.4M1736.0,166.9V173.2M1732.8,166.9h6.4M1732.8,173.2h6.4M1736.4,171.8V177.6M1733.2,171.8h6.4M1733.2,177.6h6.4M1736.8,176.8V184.1M1733.6,176.8h6.4M1733.6,184.1h6.4M1737.2,177.5V185.9M1734.0,177.5h6.4M1734.0,185.9h6.4M1737.6,175.6V186.8M1734.4,175.6h6.4M1734.4,186.8h6.4M1738.0,174.0V184.4M1734.8,174.0h6.4M1734.8,184.4h6.4M1738.4,188.8V197.7M1735.2,188.8h6.4M1735.2,197.7h6.4M1738.8,177.7V189.6M1735.6,177.7h6.4M1735.6,189.6h6.4M1739.2,184.2V195.7M1736.0,184.2h6.4M1736.0,195.7h6.4M1739.6,187.1V197.2M1736.4,187.1h6.4M1736.4,197.2h6.4M1740.0,187.8V200.6M1736.8,187.8h6.4M1736.8,200.6h6.4M1740.3,198.3V204.6M1737.1,198.3h6.4M1737.1,204.6h6.4M1740.7,191.7V198.7M1737.5,191.7h6.4M1737.5,198.7h6.4M1741.1,196.2V207.7M1737.9,196.2h6.4M1737.9,207.7h6.4M1741.5,201.8V207.9M1738.3,201.8h6.4M1738.3,207.9h6.4M1741.9,202.9V209.8M1738.7,202.9h6.4M1738.7,209.8h6.4M1742.3,200.8V211.9M1739.1,200.8h6.4M1739.1,211.9h6.4M1742.7,197.5V204.4M1739.5,197.5h6.4M1739.5,204.4h6.4M1743.1,211.6V221.4M1739.9,211.6h6.4M1739.9,221.4h6.4M1743.5,209.8V215.2M1740.3,209.8h6.4M1740.3,215.2h6.4M1743.9,204.9V212.7M1740.7,204.9h6.4M1740.7,212.7h6.4M1744.3,208.2V217.4M1741.1,208.2h6.4M1741.1,217.4h6.4M1744.7,209.1V215.7M1741.5,209.1h6.4M1741.5,215.7h6.4M1745.0,208.6V216.5M1741.8,208.6h6.4M1741.8,216.5h6.4M1745.4,210.8V222.6M1742.2,210.8h6.4M1742.2,222.6h6.4M1745.8,217.3V227.6M1742.6,217.3h6.4M1742.6,227.6h6.4M1746.2,218.4V225.1M1743.0,218.4h6.4M1743.0,225.1h6.4M1746.6,217.5V229.6M1743.4,217.5h6.4M1743.4,229.6h6.4M1747.0,220.8V231.2M1743.8,220.8h6.4M1743.8,231.2h6.4M1747.4,219.7V225.5M1744.2,219.7h6.4M1744.2,225.5h6.4M1747.8,229.7V241.0M1744.6,229.7h6.4M1744.6,241.0h6.4M1748.1,222.1V232.6M1744.9,222.1h6.4M1744.9,232.6h6.4M1752.7,242.3V249.1M1749.5,242.3h6.4M1749.5,249.1h6.4M1757.2,238.0V245.0M1754.0,238.0h6.4M1754.0,245.0h6.4M1761.7,257.4V266.6M1758.5,257.4h6.4M1758.5,266.6h6.4M1766.2,263.6V274.7M1763.0,263.6h6.4M1763.0,274.7h6.4M1770.7,260.6V272.3M1767.5,260.6h6.4M1767.5,272.3h6.4M1775.2,274.9V284.1M1772.0,274.9h6.4M1772.0,284.1h6.4M1779.7,281.4V292.4M1776.5,281.4h6.4M1776.5,292.4h6.4M1784.2,290.9V302.7M1781.0,290.9h6.4M1781.0,302.7h6.4M1788.7,297.2V304.2M1785.5,297.2h6.4M1785.5,304.2h6.4M1793.3,294.6V306.6M1790.1,294.6h6.4M1790.1,306.6h6.4M1796.3,303.0V314.2M1793.1,303.0h6.4M1793.1,314.2h6.4M1806.0,307.0V317.6M1802.8,307.0h6.4M1802.8,317.6h6.4M1815.8,314.8V327.3M1812.6,314.8h6.4M1812.6,327.3h6.4M1825.6,321.8V331.8M1822.4,321.8h6.4M1822.4,331.8h6.4M1835.4,335.9V342.1M1832.2,335.9h6.4M1832.2,342.1h6.4M1845.1,320.9V333.2M1841.9,320.9h6.4M1841.9,333.2h6.4M1854.9,335.6V343.2M1851.7,335.6h6.4M1851.7,343.2h6.4M1864.7,331.1V341.7M1861.5,331.1h6.4M1861.5,341.7h6.4M1874.5,343.2V352.6M1871.3,343.2h6.4M1871.3,352.6h6.4M1884.3,345.4V357.9M1881.1,345.4h6.4M1881.1,357.9h6.4M1894.0,340.4V348.3M1890.8,340.4h6.4M1890.8,348.3h6.4M1903.8,343.3V349.0M1900.6,343.3h6.4M1900.6,349.0h6.4M1913.6,343.4V353.6M1910.4,343.4h6.4M1910.4,353.6h6.4M1923.4,351.2V362.6M1920.2,351.2h6.4M1920.2,362.6h6.4M1933.1,353.0V365.6M1929.9,353.0h6.4M1929.9,365.6h6.4M1942.9,355.5V362.1M1939.7,355.5h6.4M1939.7,362.1h6.4M1952.7,354.0V359.8M1949.5,354.0h6.4M1949.5,359.8h6.4M1962.5,356.1V362.2M1959.3,356.1h6.4M1959.3,362.2h6.4M1972.2,365.2V373.5M1969.0,365.2h6.4M1969.0,373.5h6.4M1982.0,353.6V364.4M1978.8,353.6h6.4M1978.8,364.4h6.4M1991.8,362.0V367.6M1988.6,362.0h6.4M1988.6,367.6h6.4M2001.6,363.7V371.1M1998.4,363.7h6.4M1998.4,371.1h6.4M2011.3,360.6V371.7M2008.1,360.6h6.4M2008.1,371.7h6.4M2021.1,358.9V367.2M2017.9,358.9h6.4M2017.9,367.2h6.4M2030.9,362.3V372.7M2027.7,362.3h6.4M2027.7,372.7h6.4M2040.7,358.4V370.7M2037.5,358.4h6.4M2037.5,370.7h6.4M2050.4,365.2V372.1M2047.2,365.2h6.4M2047.2,372.1h6.4M2060.2,363.9V370.1M2057.0,363.9h6.4M2057.0,370.1h6.4M2070.0,362.1V372.1M2066.8,362.1h6.4M2066.8,372.1h6.4M2079.8,365.5V376.3M2076.6,365.5h6.4M2076.6,376.3h6.4M2089.5,369.5V376.6M2086.3,369.5h6.4M2086.3,376.6h6.4M2099.3,370.2V378.2M2096.1,370.2h6.4M2096.1,378.2h6.4M2109.1,362.7V373.1M2105.9,362.7h6.4M2105.9,373.1h6.4M2118.9,372.4V381.1M2115.7,372.4h6.4M2115.7,381.1h6.4M2128.7,370.0V375.2M2125.5,370.0h6.4M2125.5,375.2h6.4M2138.4,366.3V374.6M2135.2,366.3h6.4M2135.2,374.6h6.4M2148.2,367.4V377.3M2145.0,367.4h6.4M2145.0,377.3h6.4" fill="none" stroke="#8068c4" stroke-width="1.3" stroke-opacity="0.75"/>
<path d="M1730.1,381.8V393.3M1726.9,381.8h6.4M1726.9,393.3h6.4M1730.5,390.2V398.4M1727.3,390.2h6.4M1727.3,398.4h6.4M1730.8,384.3V397.9M1727.6,384.3h6.4M1727.6,397.9h6.4M1731.2,387.1V398.0M1728.0,387.1h6.4M1728.0,398.0h6.4M1731.6,389.0V397.3M1728.4,389.0h6.4M1728.4,397.3h6.4M1732.0,389.0V401.4M1728.8,389.0h6.4M1728.8,401.4h6.4M1732.3,391.7V405.1M1729.1,391.7h6.4M1729.1,405.1h6.4M1732.4,367.5V376.1M1729.2,367.5h6.4M1729.2,376.1h6.4M1732.5,345.9V354.8M1729.3,345.9h6.4M1729.3,354.8h6.4M1732.6,316.2V325.1M1729.4,316.2h6.4M1729.4,325.1h6.4M1732.7,296.1V305.6M1729.5,296.1h6.4M1729.5,305.6h6.4M1732.8,269.8V281.3M1729.6,269.8h6.4M1729.6,281.3h6.4M1732.9,253.0V259.6M1729.7,253.0h6.4M1729.7,259.6h6.4M1732.9,226.9V236.8M1729.7,226.9h6.4M1729.7,236.8h6.4M1733.0,200.7V210.7M1729.8,200.7h6.4M1729.8,210.7h6.4M1733.1,172.2V183.6M1729.9,172.2h6.4M1729.9,183.6h6.4M1733.2,154.8V166.1M1730.0,154.8h6.4M1730.0,166.1h6.4M1733.3,135.4V141.8M1730.1,135.4h6.4M1730.1,141.8h6.4M1733.4,106.9V113.5M1730.2,106.9h6.4M1730.2,113.5h6.4M1733.5,84.9V98.5M1730.3,84.9h6.4M1730.3,98.5h6.4M1733.6,57.4V66.6M1730.4,57.4h6.4M1730.4,66.6h6.4M1733.7,58.2V70.3M1730.5,58.2h6.4M1730.5,70.3h6.4M1734.1,73.1V79.3M1730.9,73.1h6.4M1730.9,79.3h6.4M1734.5,71.4V81.9M1731.3,71.4h6.4M1731.3,81.9h6.4M1734.9,62.1V75.9M1731.7,62.1h6.4M1731.7,75.9h6.4M1735.3,71.6V79.3M1732.1,71.6h6.4M1732.1,79.3h6.4M1735.7,77.1V90.5M1732.5,77.1h6.4M1732.5,90.5h6.4M1736.0,78.6V85.0M1732.8,78.6h6.4M1732.8,85.0h6.4M1736.4,85.4V91.7M1733.2,85.4h6.4M1733.2,91.7h6.4M1736.8,84.0V90.7M1733.6,84.0h6.4M1733.6,90.7h6.4M1737.2,83.2V96.1M1734.0,83.2h6.4M1734.0,96.1h6.4M1737.6,99.7V108.4M1734.4,99.7h6.4M1734.4,108.4h6.4M1738.0,94.9V104.9M1734.8,94.9h6.4M1734.8,104.9h6.4M1738.4,101.4V107.5M1735.2,101.4h6.4M1735.2,107.5h6.4M1738.8,97.8V107.5M1735.6,97.8h6.4M1735.6,107.5h6.4M1739.2,106.6V117.5M1736.0,106.6h6.4M1736.0,117.5h6.4M1739.6,114.9V121.1M1736.4,114.9h6.4M1736.4,121.1h6.4M1740.0,99.3V113.1M1736.8,99.3h6.4M1736.8,113.1h6.4M1740.3,108.9V118.2M1737.1,108.9h6.4M1737.1,118.2h6.4M1740.7,108.6V120.8M1737.5,108.6h6.4M1737.5,120.8h6.4M1741.1,112.1V121.4M1737.9,112.1h6.4M1737.9,121.4h6.4M1741.5,111.4V125.4M1738.3,111.4h6.4M1738.3,125.4h6.4M1741.9,119.8V133.2M1738.7,119.8h6.4M1738.7,133.2h6.4M1742.3,122.1V136.1M1739.1,122.1h6.4M1739.1,136.1h6.4M1742.7,127.3V134.2M1739.5,127.3h6.4M1739.5,134.2h6.4M1743.1,129.9V138.4M1739.9,129.9h6.4M1739.9,138.4h6.4M1743.5,126.6V138.7M1740.3,126.6h6.4M1740.3,138.7h6.4M1743.9,135.9V145.4M1740.7,135.9h6.4M1740.7,145.4h6.4M1744.3,137.1V148.3M1741.1,137.1h6.4M1741.1,148.3h6.4M1744.7,131.7V145.6M1741.5,131.7h6.4M1741.5,145.6h6.4M1745.0,139.0V151.4M1741.8,139.0h6.4M1741.8,151.4h6.4M1745.4,147.1V158.7M1742.2,147.1h6.4M1742.2,158.7h6.4M1745.8,148.1V156.8M1742.6,148.1h6.4M1742.6,156.8h6.4M1746.2,144.7V155.5M1743.0,144.7h6.4M1743.0,155.5h6.4M1746.6,147.4V158.9M1743.4,147.4h6.4M1743.4,158.9h6.4M1747.0,153.8V160.1M1743.8,153.8h6.4M1743.8,160.1h6.4M1747.4,150.1V161.2M1744.2,150.1h6.4M1744.2,161.2h6.4M1747.8,167.7V173.8M1744.6,167.7h6.4M1744.6,173.8h6.4M1748.1,165.3V172.6M1744.9,165.3h6.4M1744.9,172.6h6.4M1752.7,186.9V195.1M1749.5,186.9h6.4M1749.5,195.1h6.4M1757.2,190.5V201.0M1754.0,190.5h6.4M1754.0,201.0h6.4M1761.7,217.8V228.8M1758.5,217.8h6.4M1758.5,228.8h6.4M1766.2,214.7V227.3M1763.0,214.7h6.4M1763.0,227.3h6.4M1770.7,230.3V237.9M1767.5,230.3h6.4M1767.5,237.9h6.4M1775.2,241.2V252.1M1772.0,241.2h6.4M1772.0,252.1h6.4M1779.7,245.2V259.0M1776.5,245.2h6.4M1776.5,259.0h6.4M1784.2,254.5V264.1M1781.0,254.5h6.4M1781.0,264.1h6.4M1788.7,258.6V266.5M1785.5,258.6h6.4M1785.5,266.5h6.4M1793.3,263.3V273.1M1790.1,263.3h6.4M1790.1,273.1h6.4M1796.3,278.8V292.1M1793.1,278.8h6.4M1793.1,292.1h6.4M1806.0,286.1V296.6M1802.8,286.1h6.4M1802.8,296.6h6.4M1815.8,287.6V295.8M1812.6,287.6h6.4M1812.6,295.8h6.4M1825.6,280.6V296.7M1822.4,280.6h6.4M1822.4,296.7h6.4M1835.4,305.4V313.2M1832.2,305.4h6.4M1832.2,313.2h6.4M1845.1,290.1V306.3M1841.9,290.1h6.4M1841.9,306.3h6.4M1854.9,310.9V324.2M1851.7,310.9h6.4M1851.7,324.2h6.4M1864.7,297.4V307.2M1861.5,297.4h6.4M1861.5,307.2h6.4M1874.5,319.9V333.6M1871.3,319.9h6.4M1871.3,333.6h6.4M1884.3,327.0V340.2M1881.1,327.0h6.4M1881.1,340.2h6.4M1894.0,323.2V337.0M1890.8,323.2h6.4M1890.8,337.0h6.4M1903.8,330.7V339.8M1900.6,330.7h6.4M1900.6,339.8h6.4M1913.6,325.7V337.8M1910.4,325.7h6.4M1910.4,337.8h6.4M1923.4,337.3V348.9M1920.2,337.3h6.4M1920.2,348.9h6.4M1933.1,339.7V350.7M1929.9,339.7h6.4M1929.9,350.7h6.4M1942.9,329.9V340.3M1939.7,329.9h6.4M1939.7,340.3h6.4M1952.7,347.0V359.1M1949.5,347.0h6.4M1949.5,359.1h6.4M1962.5,352.9V361.7M1959.3,352.9h6.4M1959.3,361.7h6.4M1972.2,352.8V365.4M1969.0,352.8h6.4M1969.0,365.4h6.4M1982.0,357.2V366.7M1978.8,357.2h6.4M1978.8,366.7h6.4M1991.8,348.3V359.5M1988.6,348.3h6.4M1988.6,359.5h6.4M2001.6,354.3V367.6M1998.4,354.3h6.4M1998.4,367.6h6.4M2011.3,356.4V370.3M2008.1,356.4h6.4M2008.1,370.3h6.4M2021.1,351.9V363.6M2017.9,351.9h6.4M2017.9,363.6h6.4M2030.9,360.6V369.8M2027.7,360.6h6.4M2027.7,369.8h6.4M2040.7,359.8V367.3M2037.5,359.8h6.4M2037.5,367.3h6.4M2050.4,361.6V369.1M2047.2,361.6h6.4M2047.2,369.1h6.4M2060.2,355.3V363.9M2057.0,355.3h6.4M2057.0,363.9h6.4M2070.0,365.7V378.6M2066.8,365.7h6.4M2066.8,378.6h6.4M2079.8,362.3V374.5M2076.6,362.3h6.4M2076.6,374.5h6.4M2089.5,357.5V370.7M2086.3,357.5h6.4M2086.3,370.7h6.4M2099.3,360.9V368.1M2096.1,360.9h6.4M2096.1,368.1h6.4M2109.1,361.7V371.9M2105.9,361.7h6.4M2105.9,371.9h6.4M2118.9,372.6V381.5M2115.7,372.6h6.4M2115.7,381.5h6.4M2128.7,365.3V371.5M2125.5,365.3h6.4M2125.5,371.5h6.4M2138.4,371.4V384.1M2135.2,371.4h6.4M2135.2,384.1h6.4M2148.2,360.6V371.8M2145.0,360.6h6.4M2145.0,371.8h6.4" fill="none" stroke="#5e4a9e" stroke-width="1.3" stroke-opacity="0.85"/>
<polyline points="1733.1,347.0 1733.6,347.1 1734.1,347.2 1734.6,347.3 1735.1,347.4 1735.6,347.6 1736.2,347.8 1736.7,348.0 1737.2,348.2 1737.7,348.4 1738.2,348.6 1738.7,348.8 1739.2,349.0 1739.7,349.2 1740.2,349.4 1740.7,349.6 1741.3,349.8 1741.8,349.9 1742.3,350.1 1742.8,350.3 1743.3,350.5 1743.8,350.7 1744.3,350.9 1744.8,351.0 1745.3,351.2 1745.8,351.4 1746.4,351.5 1746.9,351.7 1747.4,351.8 1747.9,352.0 1748.4,352.2 1748.9,352.3 1749.4,352.4 1749.9,352.6 1750.4,352.7 1750.9,352.9 1751.5,353.0 1752.0,353.1 1752.5,353.3 1753.0,353.4 1753.5,353.5 1754.0,353.6 1754.5,353.8 1755.0,353.9 1755.5,354.0 1756.0,354.1 1756.6,354.2 1757.1,354.3 1757.6,354.4 1758.1,354.5 1758.6,354.6 1759.1,354.7 1759.6,354.8 1760.1,354.9 1760.6,355.0 1761.1,355.1 1761.7,355.2 1762.2,355.3 1762.7,355.4 1763.2,355.5 1763.2,355.5 1766.5,356.2 1769.8,356.8 1773.0,357.5 1776.3,358.1 1779.6,358.7 1782.9,359.3 1786.2,359.9 1789.5,360.4 1792.8,360.9 1796.0,361.4 1799.3,361.9 1802.6,362.4 1805.9,362.8 1809.2,363.2 1812.5,363.6 1815.8,364.0 1819.0,364.3 1822.3,364.7 1825.6,365.0 1828.9,365.4 1832.2,365.7 1835.5,366.1 1838.8,366.4 1842.0,366.8 1845.3,367.1 1848.6,367.4 1851.9,367.7 1855.2,368.1 1858.5,368.4 1861.8,368.7 1865.0,369.0 1868.3,369.3 1871.6,369.7 1874.9,370.0 1878.2,370.3 1881.5,370.6 1884.8,370.8 1888.0,371.1 1891.3,371.4 1894.6,371.7 1897.9,371.9 1901.2,372.2 1904.5,372.4 1907.8,372.7 1911.1,372.9 1914.3,373.2 1917.6,373.4 1920.9,373.6 1924.2,373.8 1927.5,374.0 1930.8,374.2 1934.1,374.4 1937.3,374.6 1940.6,374.8 1943.9,375.0 1947.2,375.2 1950.5,375.4 1953.8,375.6 1957.1,375.8 1960.3,375.9 1963.6,376.1 1966.9,376.3 1970.2,376.5 1973.5,376.7 1976.8,376.8 1980.1,377.0 1983.3,377.1 1986.6,377.3 1989.9,377.4 1993.2,377.5 1996.5,377.6 1999.8,377.7 2003.1,377.8 2006.3,377.8 2009.6,377.9 2012.9,378.0 2016.2,378.1 2019.5,378.1 2022.8,378.2 2026.1,378.3 2029.4,378.3 2032.6,378.4 2035.9,378.5 2039.2,378.5 2042.5,378.6 2045.8,378.6 2049.1,378.7 2052.4,378.7 2055.6,378.8 2058.9,378.8 2062.2,378.9 2065.5,378.9 2068.8,379.0 2072.1,379.0 2075.4,379.1 2078.6,379.1 2081.9,379.1 2085.2,379.2 2088.5,379.2 2091.8,379.2 2095.1,379.3 2098.4,379.3 2101.6,379.3 2104.9,379.3 2108.2,379.4 2111.5,379.4 2114.8,379.4 2118.1,379.4 2121.4,379.4 2124.6,379.4 2127.9,379.5 2131.2,379.5 2134.5,379.5 2137.8,379.5 2141.1,379.5 2144.4,379.5 2147.6,379.5 2150.9,379.5 2154.2,379.5" fill="none" stroke="#c8bce8" stroke-width="1.6" stroke-opacity="1.0" stroke-linejoin="round"/>
<polyline points="1733.1,266.4 1733.6,267.7 1734.1,269.1 1734.6,270.5 1735.1,271.9 1735.6,273.3 1736.2,274.7 1736.7,276.0 1737.2,277.3 1737.7,278.6 1738.2,279.8 1738.7,281.0 1739.2,282.2 1739.7,283.3 1740.2,284.3 1740.7,285.4 1741.3,286.5 1741.8,287.6 1742.3,288.7 1742.8,289.8 1743.3,290.8 1743.8,291.9 1744.3,292.9 1744.8,293.9 1745.3,294.9 1745.8,295.8 1746.4,296.8 1746.9,297.7 1747.4,298.6 1747.9,299.4 1748.4,300.3 1748.9,301.1 1749.4,301.9 1749.9,302.7 1750.4,303.4 1750.9,304.2 1751.5,304.9 1752.0,305.6 1752.5,306.3 1753.0,306.9 1753.5,307.6 1754.0,308.2 1754.5,308.8 1755.0,309.4 1755.5,310.0 1756.0,310.6 1756.6,311.2 1757.1,311.7 1757.6,312.3 1758.1,312.8 1758.6,313.4 1759.1,313.9 1759.6,314.4 1760.1,315.0 1760.6,315.5 1761.1,316.0 1761.7,316.5 1762.2,316.9 1762.7,317.4 1763.2,317.9 1763.2,317.9 1766.5,320.7 1769.8,323.3 1773.0,325.6 1776.3,327.7 1779.6,329.6 1782.9,331.3 1786.2,332.9 1789.5,334.4 1792.8,335.8 1796.0,337.1 1799.3,338.4 1802.6,339.5 1805.9,340.6 1809.2,341.7 1812.5,342.7 1815.8,343.6 1819.0,344.5 1822.3,345.4 1825.6,346.2 1828.9,347.0 1832.2,347.7 1835.5,348.5 1838.8,349.2 1842.0,350.0 1845.3,350.7 1848.6,351.4 1851.9,352.1 1855.2,352.9 1858.5,353.6 1861.8,354.3 1865.0,355.0 1868.3,355.7 1871.6,356.3 1874.9,357.0 1878.2,357.6 1881.5,358.3 1884.8,358.9 1888.0,359.5 1891.3,360.1 1894.6,360.6 1897.9,361.2 1901.2,361.7 1904.5,362.3 1907.8,362.8 1911.1,363.3 1914.3,363.8 1917.6,364.3 1920.9,364.7 1924.2,365.2 1927.5,365.6 1930.8,366.0 1934.1,366.5 1937.3,366.9 1940.6,367.3 1943.9,367.6 1947.2,368.0 1950.5,368.4 1953.8,368.8 1957.1,369.2 1960.3,369.6 1963.6,370.0 1966.9,370.4 1970.2,370.8 1973.5,371.2 1976.8,371.5 1980.1,371.8 1983.3,372.1 1986.6,372.4 1989.9,372.7 1993.2,372.9 1996.5,373.1 1999.8,373.3 2003.1,373.4 2006.3,373.5 2009.6,373.7 2012.9,373.8 2016.2,373.9 2019.5,374.0 2022.8,374.1 2026.1,374.2 2029.4,374.3 2032.6,374.3 2035.9,374.4 2039.2,374.5 2042.5,374.6 2045.8,374.6 2049.1,374.7 2052.4,374.8 2055.6,374.9 2058.9,375.0 2062.2,375.0 2065.5,375.1 2068.8,375.2 2072.1,375.3 2075.4,375.4 2078.6,375.4 2081.9,375.5 2085.2,375.6 2088.5,375.7 2091.8,375.7 2095.1,375.8 2098.4,375.9 2101.6,376.0 2104.9,376.0 2108.2,376.1 2111.5,376.2 2114.8,376.2 2118.1,376.3 2121.4,376.4 2124.6,376.4 2127.9,376.5 2131.2,376.6 2134.5,376.6 2137.8,376.7 2141.1,376.8 2144.4,376.8 2147.6,376.9 2150.9,377.0 2154.2,377.0" fill="none" stroke="#9a80d8" stroke-width="1.6" stroke-opacity="1.0" stroke-linejoin="round"/>
<polyline points="1733.1,154.6 1733.6,157.8 1734.1,161.0 1734.6,164.3 1735.1,167.6 1735.6,170.8 1736.2,173.9 1736.7,176.9 1737.2,179.8 1737.7,182.6 1738.2,185.4 1738.7,188.0 1739.2,190.5 1739.7,192.9 1740.2,195.3 1740.7,197.7 1741.3,200.1 1741.8,202.5 1742.3,204.8 1742.8,207.1 1743.3,209.4 1743.8,211.6 1744.3,213.8 1744.8,215.9 1745.3,217.9 1745.8,219.9 1746.4,221.8 1746.9,223.7 1747.4,225.5 1747.9,227.2 1748.4,228.9 1748.9,230.5 1749.4,232.1 1749.9,233.6 1750.4,235.0 1750.9,236.5 1751.5,237.8 1752.0,239.1 1752.5,240.4 1753.0,241.6 1753.5,242.8 1754.0,244.0 1754.5,245.1 1755.0,246.3 1755.5,247.4 1756.0,248.4 1756.6,249.5 1757.1,250.5 1757.6,251.5 1758.1,252.5 1758.6,253.5 1759.1,254.5 1759.6,255.5 1760.1,256.4 1760.6,257.3 1761.1,258.3 1761.7,259.2 1762.2,260.1 1762.7,261.0 1763.2,261.9 1763.2,261.9 1766.5,267.5 1769.8,272.9 1773.0,278.3 1776.3,283.5 1779.6,288.4 1782.9,292.9 1786.2,297.0 1789.5,300.8 1792.8,304.1 1796.0,307.2 1799.3,310.0 1802.6,312.6 1805.9,315.1 1809.2,317.4 1812.5,319.5 1815.8,321.5 1819.0,323.3 1822.3,325.1 1825.6,326.7 1828.9,328.2 1832.2,329.5 1835.5,330.8 1838.8,331.9 1842.0,333.0 1845.3,334.1 1848.6,335.2 1851.9,336.3 1855.2,337.5 1858.5,338.6 1861.8,339.8 1865.0,340.9 1868.3,341.9 1871.6,342.9 1874.9,343.8 1878.2,344.7 1881.5,345.5 1884.8,346.3 1888.0,347.0 1891.3,347.8 1894.6,348.4 1897.9,349.1 1901.2,349.7 1904.5,350.4 1907.8,351.0 1911.1,351.6 1914.3,352.2 1917.6,352.7 1920.9,353.3 1924.2,353.9 1927.5,354.4 1930.8,355.0 1934.1,355.5 1937.3,356.1 1940.6,356.6 1943.9,357.2 1947.2,357.7 1950.5,358.3 1953.8,358.9 1957.1,359.5 1960.3,360.1 1963.6,360.7 1966.9,361.3 1970.2,361.9 1973.5,362.5 1976.8,363.0 1980.1,363.5 1983.3,364.0 1986.6,364.5 1989.9,364.9 1993.2,365.3 1996.5,365.7 1999.8,366.0 2003.1,366.3 2006.3,366.5 2009.6,366.8 2012.9,367.0 2016.2,367.3 2019.5,367.5 2022.8,367.7 2026.1,367.9 2029.4,368.1 2032.6,368.3 2035.9,368.4 2039.2,368.6 2042.5,368.8 2045.8,369.0 2049.1,369.1 2052.4,369.3 2055.6,369.5 2058.9,369.6 2062.2,369.8 2065.5,370.0 2068.8,370.1 2072.1,370.3 2075.4,370.5 2078.6,370.6 2081.9,370.8 2085.2,370.9 2088.5,371.1 2091.8,371.2 2095.1,371.4 2098.4,371.5 2101.6,371.7 2104.9,371.8 2108.2,372.0 2111.5,372.1 2114.8,372.2 2118.1,372.4 2121.4,372.5 2124.6,372.6 2127.9,372.8 2131.2,372.9 2134.5,373.0 2137.8,373.1 2141.1,373.3 2144.4,373.4 2147.6,373.5 2150.9,373.6 2154.2,373.7" fill="none" stroke="#7a58cc" stroke-width="1.6" stroke-opacity="1.0" stroke-linejoin="round"/>
<polyline points="1733.1,66.2 1733.6,67.8 1734.1,70.3 1734.6,73.4 1735.1,76.8 1735.6,80.4 1736.2,84.2 1736.7,87.9 1737.2,91.6 1737.7,95.3 1738.2,98.9 1738.7,102.3 1739.2,105.6 1739.7,108.8 1740.2,111.9 1740.7,115.4 1741.3,119.1 1741.8,122.9 1742.3,126.7 1742.8,130.6 1743.3,134.4 1743.8,138.1 1744.3,141.7 1744.8,145.2 1745.3,148.6 1745.8,151.8 1746.4,154.9 1746.9,157.8 1747.4,160.6 1747.9,163.4 1748.4,166.0 1748.9,168.7 1749.4,171.2 1749.9,173.7 1750.4,176.1 1750.9,178.5 1751.5,180.8 1752.0,183.1 1752.5,185.3 1753.0,187.5 1753.5,189.6 1754.0,191.7 1754.5,193.7 1755.0,195.7 1755.5,197.6 1756.0,199.5 1756.6,201.3 1757.1,203.1 1757.6,204.9 1758.1,206.6 1758.6,208.3 1759.1,210.0 1759.6,211.6 1760.1,213.3 1760.6,214.9 1761.1,216.4 1761.7,217.9 1762.2,219.5 1762.7,220.9 1763.2,222.4 1763.2,222.4 1766.5,231.1 1769.8,238.9 1773.0,245.8 1776.3,251.8 1779.6,257.3 1782.9,262.3 1786.2,267.0 1789.5,271.5 1792.8,275.8 1796.0,280.1 1799.3,284.3 1802.6,288.5 1805.9,292.5 1809.2,296.4 1812.5,300.0 1815.8,303.4 1819.0,306.6 1822.3,309.6 1825.6,312.3 1828.9,314.7 1832.2,317.0 1835.5,319.1 1838.8,321.1 1842.0,323.0 1845.3,324.7 1848.6,326.4 1851.9,328.0 1855.2,329.4 1858.5,330.8 1861.8,332.1 1865.0,333.4 1868.3,334.6 1871.6,335.9 1874.9,337.1 1878.2,338.2 1881.5,339.4 1884.8,340.5 1888.0,341.6 1891.3,342.6 1894.6,343.6 1897.9,344.6 1901.2,345.5 1904.5,346.4 1907.8,347.2 1911.1,348.0 1914.3,348.8 1917.6,349.5 1920.9,350.2 1924.2,350.9 1927.5,351.6 1930.8,352.2 1934.1,352.8 1937.3,353.4 1940.6,354.0 1943.9,354.6 1947.2,355.1 1950.5,355.6 1953.8,356.1 1957.1,356.6 1960.3,357.1 1963.6,357.6 1966.9,358.0 1970.2,358.4 1973.5,358.9 1976.8,359.3 1980.1,359.7 1983.3,360.0 1986.6,360.4 1989.9,360.8 1993.2,361.1 1996.5,361.5 1999.8,361.8 2003.1,362.1 2006.3,362.5 2009.6,362.8 2012.9,363.1 2016.2,363.4 2019.5,363.6 2022.8,363.9 2026.1,364.2 2029.4,364.5 2032.6,364.7 2035.9,365.0 2039.2,365.2 2042.5,365.5 2045.8,365.7 2049.1,366.0 2052.4,366.2 2055.6,366.4 2058.9,366.7 2062.2,366.9 2065.5,367.1 2068.8,367.4 2072.1,367.6 2075.4,367.8 2078.6,368.0 2081.9,368.2 2085.2,368.4 2088.5,368.6 2091.8,368.8 2095.1,369.0 2098.4,369.2 2101.6,369.4 2104.9,369.6 2108.2,369.8 2111.5,370.0 2114.8,370.2 2118.1,370.4 2121.4,370.6 2124.6,370.7 2127.9,370.9 2131.2,371.1 2134.5,371.3 2137.8,371.4 2141.1,371.6 2144.4,371.8 2147.6,371.9 2150.9,372.1 2154.2,372.3" fill="none" stroke="#5634b4" stroke-width="1.6" stroke-opacity="1.0" stroke-linejoin="round"/>
</g>
<g clip-path="url(#cpe)">
<polyline points="85.0,904.0 111.3,904.0 134.7,889.7 140.3,892.2 144.9,876.0 149.8,887.3 154.0,895.4 158.5,882.4 163.4,850.5 168.3,823.5 173.2,821.0 177.4,838.2 181.6,727.7 186.1,683.5 191.0,659.0 195.6,644.2 200.5,639.3 205.4,641.8 210.3,636.9 214.5,649.2 219.7,644.2 225.0,646.7 228.5,641.8 237.6,649.2 247.0,644.2 256.5,654.1 265.6,649.2 275.0,651.6 301.3,632.0 331.4,651.6 363.5,634.4 399.9,632.0 440.5,624.6 485.7,651.6 518.9,651.6" fill="none" stroke="#f0a8b0" stroke-width="1.1" stroke-opacity="0.55" stroke-linejoin="round"/>
<path d="M85.0,886.2V921.7M82.0,886.2h6.0M82.0,921.7h6.0M111.3,890.1V917.9M108.3,890.1h6.0M108.3,917.9h6.0M134.7,866.2V913.3M131.7,866.2h6.0M131.7,913.3h6.0M140.3,858.7V925.7M137.3,858.7h6.0M137.3,925.7h6.0M144.9,853.1V898.9M141.9,853.1h6.0M141.9,898.9h6.0M149.8,846.0V928.6M146.8,846.0h6.0M146.8,928.6h6.0M154.0,882.0V908.8M151.0,882.0h6.0M151.0,908.8h6.0M158.5,864.3V900.4M155.5,864.3h6.0M155.5,900.4h6.0M163.4,814.5V886.4M160.4,814.5h6.0M160.4,886.4h6.0M168.3,781.9V865.0M165.3,781.9h6.0M165.3,865.0h6.0M173.2,805.2V836.8M170.2,805.2h6.0M170.2,836.8h6.0M177.4,806.0V870.4M174.4,806.0h6.0M174.4,870.4h6.0M181.6,713.1V742.3M178.6,713.1h6.0M178.6,742.3h6.0M186.1,667.9V699.1M183.1,667.9h6.0M183.1,699.1h6.0M191.0,649.1V668.9M188.0,649.1h6.0M188.0,668.9h6.0M195.6,639.2V649.3M192.6,639.2h6.0M192.6,649.3h6.0M200.5,628.5V650.1M197.5,628.5h6.0M197.5,650.1h6.0M205.4,628.2V655.3M202.4,628.2h6.0M202.4,655.3h6.0M210.3,624.8V648.9M207.3,624.8h6.0M207.3,648.9h6.0M214.5,636.7V661.6M211.5,636.7h6.0M211.5,661.6h6.0M219.7,636.3V652.2M216.7,636.3h6.0M216.7,652.2h6.0M225.0,635.9V657.5M222.0,635.9h6.0M222.0,657.5h6.0M228.5,629.5V654.0M225.5,629.5h6.0M225.5,654.0h6.0M237.6,638.4V659.9M234.6,638.4h6.0M234.6,659.9h6.0M247.0,635.0V653.5M244.0,635.0h6.0M244.0,653.5h6.0M256.5,647.4V660.7M253.5,647.4h6.0M253.5,660.7h6.0M265.6,642.3V656.0M262.6,642.3h6.0M262.6,656.0h6.0M275.0,637.1V666.1M272.0,637.1h6.0M272.0,666.1h6.0M301.3,617.5V646.4M298.3,617.5h6.0M298.3,646.4h6.0M331.4,642.5V660.7M328.4,642.5h6.0M328.4,660.7h6.0M363.5,625.0V643.8M360.5,625.0h6.0M360.5,643.8h6.0M399.9,616.1V647.8M396.9,616.1h6.0M396.9,647.8h6.0M440.5,618.2V631.0M437.5,618.2h6.0M437.5,631.0h6.0M485.7,640.9V662.3M482.7,640.9h6.0M482.7,662.3h6.0M518.9,636.9V666.3M515.9,636.9h6.0M515.9,666.3h6.0" fill="none" stroke="#f0a8b0" stroke-width="1.0" stroke-opacity="0.55"/>
<polyline points="85.0,909.9 111.3,909.9 134.7,905.0 140.3,903.0 144.9,895.4 149.8,903.0 154.0,899.6 158.5,894.7 163.4,879.9 168.3,860.3 173.2,845.6 177.4,862.7 181.6,786.6 186.1,737.5 191.0,713.0 195.6,703.2 200.5,695.8 205.4,700.7 210.3,686.0 214.5,681.1 219.7,676.2 225.0,673.7 228.5,668.8 237.6,671.2 247.0,666.3 256.5,671.2 265.6,668.8 275.0,663.9 301.3,666.3 331.4,663.9 363.5,666.3 399.9,666.3 440.5,666.3 485.7,665.1 518.9,666.3" fill="none" stroke="#e25868" stroke-width="1.1" stroke-opacity="0.8" stroke-linejoin="round"/>
<path d="M85.0,888.3V931.5M82.0,888.3h6.0M82.0,931.5h6.0M111.3,879.3V940.4M108.3,879.3h6.0M108.3,940.4h6.0M134.7,891.2V918.7M131.7,891.2h6.0M131.7,918.7h6.0M140.3,890.2V915.8M137.3,890.2h6.0M137.3,915.8h6.0M144.9,874.9V915.9M141.9,874.9h6.0M141.9,915.9h6.0M149.8,888.2V917.8M146.8,888.2h6.0M146.8,917.8h6.0M154.0,880.3V918.8M151.0,880.3h6.0M151.0,918.8h6.0M158.5,881.6V907.7M155.5,881.6h6.0M155.5,907.7h6.0M163.4,864.1V895.8M160.4,864.1h6.0M160.4,895.8h6.0M168.3,848.7V871.9M165.3,848.7h6.0M165.3,871.9h6.0M173.2,820.8V870.3M170.2,820.8h6.0M170.2,870.3h6.0M177.4,834.0V891.4M174.4,834.0h6.0M174.4,891.4h6.0M181.6,777.6V795.6M178.6,777.6h6.0M178.6,795.6h6.0M186.1,727.3V747.8M183.1,727.3h6.0M183.1,747.8h6.0M191.0,706.2V719.8M188.0,706.2h6.0M188.0,719.8h6.0M195.6,696.5V709.9M192.6,696.5h6.0M192.6,709.9h6.0M200.5,691.1V700.4M197.5,691.1h6.0M197.5,700.4h6.0M205.4,691.1V710.3M202.4,691.1h6.0M202.4,710.3h6.0M210.3,679.4V692.5M207.3,679.4h6.0M207.3,692.5h6.0M214.5,670.6V691.5M211.5,670.6h6.0M211.5,691.5h6.0M219.7,667.6V684.8M216.7,667.6h6.0M216.7,684.8h6.0M225.0,669.4V678.0M222.0,669.4h6.0M222.0,678.0h6.0M228.5,657.8V679.7M225.5,657.8h6.0M225.5,679.7h6.0M237.6,665.3V677.2M234.6,665.3h6.0M234.6,677.2h6.0M247.0,657.4V675.3M244.0,657.4h6.0M244.0,675.3h6.0M256.5,659.4V683.0M253.5,659.4h6.0M253.5,683.0h6.0M265.6,656.8V680.8M262.6,656.8h6.0M262.6,680.8h6.0M275.0,655.0V672.8M272.0,655.0h6.0M272.0,672.8h6.0M301.3,656.6V676.1M298.3,656.6h6.0M298.3,676.1h6.0M331.4,656.6V671.2M328.4,656.6h6.0M328.4,671.2h6.0M363.5,656.1V676.6M360.5,656.1h6.0M360.5,676.6h6.0M399.9,657.5V675.2M396.9,657.5h6.0M396.9,675.2h6.0M440.5,654.9V677.8M437.5,654.9h6.0M437.5,677.8h6.0M485.7,653.7V676.5M482.7,653.7h6.0M482.7,676.5h6.0M518.9,656.8V675.8M515.9,656.8h6.0M515.9,675.8h6.0" fill="none" stroke="#e25868" stroke-width="1.0" stroke-opacity="0.8"/>
<polyline points="85.0,926.3 111.3,930.2 134.7,924.1 140.3,926.6 144.9,925.3 149.8,926.6 154.0,927.8 158.5,916.7 163.4,897.1 168.3,875.0 173.2,862.7 177.4,867.6 181.6,776.8 186.1,732.6 191.0,705.6 195.6,693.3 200.5,688.4 205.4,676.2 210.3,663.9 214.5,671.2 219.7,656.5 225.0,649.2 228.5,651.6 237.6,656.5 247.0,646.7 256.5,659.0 265.6,654.1 275.0,656.5 301.3,632.0 331.4,622.1 363.5,636.9 399.9,627.1 440.5,639.3 485.7,644.2 518.9,636.9" fill="none" stroke="#c8283a" stroke-width="1.1" stroke-opacity="0.85" stroke-linejoin="round"/>
<path d="M85.0,917.2V935.5M82.0,917.2h6.0M82.0,935.5h6.0M111.3,918.4V942.1M108.3,918.4h6.0M108.3,942.1h6.0M134.7,917.8V930.4M131.7,917.8h6.0M131.7,930.4h6.0M140.3,918.0V935.1M137.3,918.0h6.0M137.3,935.1h6.0M144.9,920.7V930.0M141.9,920.7h6.0M141.9,930.0h6.0M149.8,921.9V931.2M146.8,921.9h6.0M146.8,931.2h6.0M154.0,917.4V938.1M151.0,917.4h6.0M151.0,938.1h6.0M158.5,905.3V928.1M155.5,905.3h6.0M155.5,928.1h6.0M163.4,890.0V904.2M160.4,890.0h6.0M160.4,904.2h6.0M168.3,869.9V880.1M165.3,869.9h6.0M165.3,880.1h6.0M173.2,857.4V868.1M170.2,857.4h6.0M170.2,868.1h6.0M177.4,862.5V872.8M174.4,862.5h6.0M174.4,872.8h6.0M181.6,772.3V781.4M178.6,772.3h6.0M178.6,781.4h6.0M186.1,727.3V738.0M183.1,727.3h6.0M183.1,738.0h6.0M191.0,696.4V714.9M188.0,696.4h6.0M188.0,714.9h6.0M195.6,687.7V699.0M192.6,687.7h6.0M192.6,699.0h6.0M200.5,683.7V693.2M197.5,683.7h6.0M197.5,693.2h6.0M205.4,667.3V685.0M202.4,667.3h6.0M202.4,685.0h6.0M210.3,656.8V670.9M207.3,656.8h6.0M207.3,670.9h6.0M214.5,661.5V681.0M211.5,661.5h6.0M211.5,681.0h6.0M219.7,647.9V665.1M216.7,647.9h6.0M216.7,665.1h6.0M225.0,643.6V654.7M222.0,643.6h6.0M222.0,654.7h6.0M228.5,641.9V661.3M225.5,641.9h6.0M225.5,661.3h6.0M237.6,647.3V665.7M234.6,647.3h6.0M234.6,665.7h6.0M247.0,641.2V652.2M244.0,641.2h6.0M244.0,652.2h6.0M256.5,653.0V664.9M253.5,653.0h6.0M253.5,664.9h6.0M265.6,645.5V662.7M262.6,645.5h6.0M262.6,662.7h6.0M275.0,652.1V661.0M272.0,652.1h6.0M272.0,661.0h6.0M301.3,622.0V641.9M298.3,622.0h6.0M298.3,641.9h6.0M331.4,614.8V629.5M328.4,614.8h6.0M328.4,629.5h6.0M363.5,624.9V648.8M360.5,624.9h6.0M360.5,648.8h6.0M399.9,616.1V638.0M396.9,616.1h6.0M396.9,638.0h6.0M440.5,632.4V646.3M437.5,632.4h6.0M437.5,646.3h6.0M485.7,633.3V655.2M482.7,633.3h6.0M482.7,655.2h6.0M518.9,625.2V648.6M515.9,625.2h6.0M515.9,648.6h6.0" fill="none" stroke="#c8283a" stroke-width="1.0" stroke-opacity="0.85"/>
<polyline points="85.0,919.7 111.3,926.3 134.7,918.7 140.3,925.3 144.9,924.1 149.8,926.6 154.0,930.2 158.5,914.5 163.4,899.1 168.3,875.7 173.2,860.3 177.4,865.9 181.6,771.9 186.1,725.3 191.0,698.2 195.6,686.0 200.5,681.1 205.4,668.8 210.3,651.6 214.5,661.4 219.7,649.2 225.0,646.7 228.5,644.2 237.6,634.4 247.0,627.1 256.5,636.9 265.6,632.0 275.0,619.7 301.3,629.5 331.4,636.9 363.5,632.0 399.9,634.4 440.5,641.8 485.7,646.7 518.9,634.4" fill="none" stroke="#5a1424" stroke-width="1.1" stroke-opacity="0.95" stroke-linejoin="round"/>
<path d="M85.0,915.7V923.6M82.0,915.7h6.0M82.0,923.6h6.0M111.3,923.4V929.3M108.3,923.4h6.0M108.3,929.3h6.0M134.7,916.0V921.5M131.7,916.0h6.0M131.7,921.5h6.0M140.3,920.7V930.0M137.3,920.7h6.0M137.3,930.0h6.0M144.9,917.0V931.2M141.9,917.0h6.0M141.9,931.2h6.0M149.8,920.6V932.5M146.8,920.6h6.0M146.8,932.5h6.0M154.0,925.9V934.6M151.0,925.9h6.0M151.0,934.6h6.0M158.5,909.3V919.8M155.5,909.3h6.0M155.5,919.8h6.0M163.4,891.9V906.2M160.4,891.9h6.0M160.4,906.2h6.0M168.3,873.0V878.5M165.3,873.0h6.0M165.3,878.5h6.0M173.2,853.1V867.5M170.2,853.1h6.0M170.2,867.5h6.0M177.4,858.7V873.2M174.4,858.7h6.0M174.4,873.2h6.0M181.6,766.1V777.7M178.6,766.1h6.0M178.6,777.7h6.0M186.1,721.2V729.3M183.1,721.2h6.0M183.1,729.3h6.0M191.0,691.7V704.8M188.0,691.7h6.0M188.0,704.8h6.0M195.6,679.8V692.1M192.6,679.8h6.0M192.6,692.1h6.0M200.5,676.9V685.3M197.5,676.9h6.0M197.5,685.3h6.0M205.4,664.0V673.6M202.4,664.0h6.0M202.4,673.6h6.0M210.3,644.1V659.2M207.3,644.1h6.0M207.3,659.2h6.0M214.5,658.9V664.0M211.5,658.9h6.0M211.5,664.0h6.0M219.7,646.6V651.7M216.7,646.6h6.0M216.7,651.7h6.0M225.0,643.3V650.1M222.0,643.3h6.0M222.0,650.1h6.0M228.5,639.8V648.7M225.5,639.8h6.0M225.5,648.7h6.0M237.6,627.0V641.8M234.6,627.0h6.0M234.6,641.8h6.0M247.0,620.8V633.3M244.0,620.8h6.0M244.0,633.3h6.0M256.5,632.4V641.4M253.5,632.4h6.0M253.5,641.4h6.0M265.6,629.1V634.9M262.6,629.1h6.0M262.6,634.9h6.0M275.0,612.4V627.0M272.0,612.4h6.0M272.0,627.0h6.0M301.3,624.1V634.9M298.3,624.1h6.0M298.3,634.9h6.0M331.4,629.1V644.7M328.4,629.1h6.0M328.4,644.7h6.0M363.5,627.0V637.0M360.5,627.0h6.0M360.5,637.0h6.0M399.9,626.5V642.4M396.9,626.5h6.0M396.9,642.4h6.0M440.5,634.7V648.9M437.5,634.7h6.0M437.5,648.9h6.0M485.7,643.8V649.6M482.7,643.8h6.0M482.7,649.6h6.0M518.9,627.1V641.8M515.9,627.1h6.0M515.9,641.8h6.0" fill="none" stroke="#5a1424" stroke-width="1.0" stroke-opacity="0.95"/>
</g>
<g clip-path="url(#cpf)">
<polyline points="632.0,871.5 658.3,966.9 681.7,969.8 687.3,972.8 691.9,963.9 696.8,966.9 701.0,954.9 705.5,934.1 710.4,892.4 715.3,823.8 720.2,868.5 724.4,931.1 728.6,749.3 733.1,698.7 738.0,618.2 742.6,639.1 747.5,689.7 752.4,633.1 757.3,701.6 761.5,633.1 766.7,659.9 772.0,725.5 775.5,725.5 784.6,656.9 794.0,659.9 803.5,659.9 812.6,692.7 822.0,621.2 848.3,692.7 878.4,633.1 910.5,659.9 946.9,636.1 987.5,621.2 1032.7,674.8 1065.9,674.8" fill="none" stroke="#a8cce8" stroke-width="1.1" stroke-opacity="0.55" stroke-linejoin="round"/>
<path d="M632.0,842.8V900.2M629.0,842.8h6.0M629.0,900.2h6.0M658.3,946.6V987.1M655.3,946.6h6.0M655.3,987.1h6.0M681.7,937.1V1002.5M678.7,937.1h6.0M678.7,1002.5h6.0M687.3,939.7V1005.9M684.3,939.7h6.0M684.3,1005.9h6.0M691.9,925.5V1002.2M688.9,925.5h6.0M688.9,1002.2h6.0M696.8,933.2V1000.5M693.8,933.2h6.0M693.8,1000.5h6.0M701.0,939.1V970.8M698.0,939.1h6.0M698.0,970.8h6.0M705.5,894.6V973.6M702.5,894.6h6.0M702.5,973.6h6.0M710.4,857.7V927.0M707.4,857.7h6.0M707.4,927.0h6.0M715.3,785.6V862.1M712.3,785.6h6.0M712.3,862.1h6.0M720.2,832.3V904.7M717.2,832.3h6.0M717.2,904.7h6.0M724.4,896.4V965.8M721.4,896.4h6.0M721.4,965.8h6.0M728.6,734.9V763.7M725.6,734.9h6.0M725.6,763.7h6.0M733.1,691.4V705.9M730.1,691.4h6.0M730.1,705.9h6.0M738.0,608.6V627.8M735.0,608.6h6.0M735.0,627.8h6.0M742.6,630.8V647.3M739.6,630.8h6.0M739.6,647.3h6.0M747.5,679.3V700.1M744.5,679.3h6.0M744.5,700.1h6.0M752.4,625.2V641.0M749.4,625.2h6.0M749.4,641.0h6.0M757.3,691.2V712.1M754.3,691.2h6.0M754.3,712.1h6.0M761.5,625.4V640.8M758.5,625.4h6.0M758.5,640.8h6.0M766.7,642.0V677.8M763.7,642.0h6.0M763.7,677.8h6.0M772.0,719.0V732.0M769.0,719.0h6.0M769.0,732.0h6.0M775.5,719.4V731.6M772.5,719.4h6.0M772.5,731.6h6.0M784.6,637.4V676.4M781.6,637.4h6.0M781.6,676.4h6.0M794.0,640.4V679.4M791.0,640.4h6.0M791.0,679.4h6.0M803.5,640.6V679.2M800.5,640.6h6.0M800.5,679.2h6.0M812.6,684.0V701.4M809.6,684.0h6.0M809.6,701.4h6.0M822.0,610.5V631.9M819.0,610.5h6.0M819.0,631.9h6.0M848.3,685.7V699.7M845.3,685.7h6.0M845.3,699.7h6.0M878.4,615.5V650.7M875.4,615.5h6.0M875.4,650.7h6.0M910.5,649.1V670.7M907.5,649.1h6.0M907.5,670.7h6.0M946.9,626.4V645.7M943.9,626.4h6.0M943.9,645.7h6.0M987.5,613.0V629.4M984.5,613.0h6.0M984.5,629.4h6.0M1032.7,657.4V692.2M1029.7,657.4h6.0M1029.7,692.2h6.0M1065.9,658.4V691.2M1062.9,658.4h6.0M1062.9,691.2h6.0" fill="none" stroke="#a8cce8" stroke-width="1.0" stroke-opacity="0.55"/>
<polyline points="632.0,937.1 658.3,889.4 681.7,957.9 687.3,960.9 691.9,949.0 696.8,943.0 701.0,934.1 705.5,913.2 710.4,910.2 715.3,832.8 720.2,874.5 724.4,913.2 728.6,770.2 733.1,734.4 738.0,713.6 742.6,725.5 747.5,722.5 752.4,695.7 757.3,683.8 761.5,656.9 766.7,645.0 772.0,630.1 775.5,633.1 784.6,633.1 794.0,615.2 803.5,624.2 812.6,651.0 822.0,636.1 848.3,636.1 878.4,633.1 910.5,645.0 946.9,633.1 987.5,648.0 1032.7,642.0 1065.9,654.0" fill="none" stroke="#5c94c4" stroke-width="1.1" stroke-opacity="0.8" stroke-linejoin="round"/>
<path d="M632.0,910.5V963.6M629.0,910.5h6.0M629.0,963.6h6.0M658.3,859.7V919.1M655.3,859.7h6.0M655.3,919.1h6.0M681.7,936.6V979.2M678.7,936.6h6.0M678.7,979.2h6.0M687.3,943.0V978.8M684.3,943.0h6.0M684.3,978.8h6.0M691.9,931.0V966.9M688.9,931.0h6.0M688.9,966.9h6.0M696.8,915.7V970.3M693.8,915.7h6.0M693.8,970.3h6.0M701.0,900.2V968.0M698.0,900.2h6.0M698.0,968.0h6.0M705.5,892.4V934.0M702.5,892.4h6.0M702.5,934.0h6.0M710.4,889.9V930.6M707.4,889.9h6.0M707.4,930.6h6.0M715.3,804.9V860.7M712.3,804.9h6.0M712.3,860.7h6.0M720.2,858.0V890.9M717.2,858.0h6.0M717.2,890.9h6.0M724.4,897.9V928.5M721.4,897.9h6.0M721.4,928.5h6.0M728.6,764.4V776.0M725.6,764.4h6.0M725.6,776.0h6.0M733.1,726.3V742.5M730.1,726.3h6.0M730.1,742.5h6.0M738.0,700.1V727.0M735.0,700.1h6.0M735.0,727.0h6.0M742.6,718.8V732.2M739.6,718.8h6.0M739.6,732.2h6.0M747.5,717.4V727.6M744.5,717.4h6.0M744.5,727.6h6.0M752.4,682.5V708.8M749.4,682.5h6.0M749.4,708.8h6.0M757.3,678.4V689.1M754.3,678.4h6.0M754.3,689.1h6.0M761.5,649.7V664.2M758.5,649.7h6.0M758.5,664.2h6.0M766.7,639.9V650.1M763.7,639.9h6.0M763.7,650.1h6.0M772.0,616.8V643.5M769.0,616.8h6.0M769.0,643.5h6.0M775.5,626.4V639.8M772.5,626.4h6.0M772.5,639.8h6.0M784.6,628.0V638.2M781.6,628.0h6.0M781.6,638.2h6.0M794.0,608.5V622.0M791.0,608.5h6.0M791.0,622.0h6.0M803.5,615.7V632.7M800.5,615.7h6.0M800.5,632.7h6.0M812.6,640.4V661.6M809.6,640.4h6.0M809.6,661.6h6.0M822.0,630.5V641.7M819.0,630.5h6.0M819.0,641.7h6.0M848.3,626.3V645.9M845.3,626.3h6.0M845.3,645.9h6.0M878.4,621.6V644.6M875.4,621.6h6.0M875.4,644.6h6.0M910.5,631.9V658.1M907.5,631.9h6.0M907.5,658.1h6.0M946.9,627.8V638.4M943.9,627.8h6.0M943.9,638.4h6.0M987.5,641.8V654.2M984.5,641.8h6.0M984.5,654.2h6.0M1032.7,630.4V653.6M1029.7,630.4h6.0M1029.7,653.6h6.0M1065.9,645.6V662.3M1062.9,645.6h6.0M1062.9,662.3h6.0" fill="none" stroke="#5c94c4" stroke-width="1.0" stroke-opacity="0.8"/>
<polyline points="632.0,925.1 658.3,898.3 681.7,928.1 687.3,934.1 691.9,931.1 696.8,937.1 701.0,931.1 705.5,904.3 710.4,907.3 715.3,847.7 720.2,868.5 724.4,907.3 728.6,785.1 733.1,752.3 738.0,740.4 742.6,728.5 747.5,731.4 752.4,710.6 757.3,683.8 761.5,671.8 766.7,659.9 772.0,651.0 775.5,651.0 784.6,654.0 794.0,656.9 803.5,665.9 812.6,651.0 822.0,654.0 848.3,662.9 878.4,659.9 910.5,659.9 946.9,662.9 987.5,659.9 1032.7,659.9 1065.9,662.9" fill="none" stroke="#3584c6" stroke-width="1.1" stroke-opacity="0.85" stroke-linejoin="round"/>
<path d="M632.0,920.1V930.1M629.0,920.1h6.0M629.0,930.1h6.0M658.3,891.9V904.8M655.3,891.9h6.0M655.3,904.8h6.0M681.7,919.8V936.5M678.7,919.8h6.0M678.7,936.5h6.0M687.3,927.4V940.7M684.3,927.4h6.0M684.3,940.7h6.0M691.9,919.5V942.7M688.9,919.5h6.0M688.9,942.7h6.0M696.8,929.2V944.9M693.8,929.2h6.0M693.8,944.9h6.0M701.0,919.5V942.7M698.0,919.5h6.0M698.0,942.7h6.0M705.5,897.4V911.2M702.5,897.4h6.0M702.5,911.2h6.0M710.4,901.7V912.9M707.4,901.7h6.0M707.4,912.9h6.0M715.3,842.8V852.5M712.3,842.8h6.0M712.3,852.5h6.0M720.2,860.6V876.5M717.2,860.6h6.0M717.2,876.5h6.0M724.4,900.5V914.0M721.4,900.5h6.0M721.4,914.0h6.0M728.6,773.6V796.5M725.6,773.6h6.0M725.6,796.5h6.0M733.1,746.7V757.9M730.1,746.7h6.0M730.1,757.9h6.0M738.0,729.5V751.2M735.0,729.5h6.0M735.0,751.2h6.0M742.6,717.2V739.7M739.6,717.2h6.0M739.6,739.7h6.0M747.5,722.2V740.7M744.5,722.2h6.0M744.5,740.7h6.0M752.4,700.3V720.8M749.4,700.3h6.0M749.4,720.8h6.0M757.3,674.0V693.5M754.3,674.0h6.0M754.3,693.5h6.0M761.5,666.9V676.8M758.5,666.9h6.0M758.5,676.8h6.0M766.7,653.2V666.6M763.7,653.2h6.0M763.7,666.6h6.0M772.0,640.7V661.3M769.0,640.7h6.0M769.0,661.3h6.0M775.5,643.0V659.0M772.5,643.0h6.0M772.5,659.0h6.0M784.6,649.0V659.0M781.6,649.0h6.0M781.6,659.0h6.0M794.0,649.0V664.9M791.0,649.0h6.0M791.0,664.9h6.0M803.5,658.2V673.6M800.5,658.2h6.0M800.5,673.6h6.0M812.6,643.7V658.2M809.6,643.7h6.0M809.6,658.2h6.0M822.0,648.8V659.1M819.0,648.8h6.0M819.0,659.1h6.0M848.3,655.1V670.7M845.3,655.1h6.0M845.3,670.7h6.0M878.4,649.0V670.8M875.4,649.0h6.0M875.4,670.8h6.0M910.5,652.5V667.3M907.5,652.5h6.0M907.5,667.3h6.0M946.9,651.2V674.6M943.9,651.2h6.0M943.9,674.6h6.0M987.5,649.7V670.1M984.5,649.7h6.0M984.5,670.1h6.0M1032.7,651.3V668.6M1029.7,651.3h6.0M1029.7,668.6h6.0M1065.9,657.7V668.1M1062.9,657.7h6.0M1062.9,668.1h6.0" fill="none" stroke="#3584c6" stroke-width="1.0" stroke-opacity="0.85"/>
<polyline points="632.0,908.2 658.3,925.4 681.7,931.1 687.3,936.8 691.9,932.9 696.8,938.6 701.0,934.7 705.5,906.4 710.4,923.4 715.3,864.3 720.2,871.8 724.4,925.4 728.6,780.3 733.1,747.5 738.0,736.2 742.6,709.4 747.5,703.7 752.4,680.8 757.3,682.9 761.5,682.9 766.7,679.0 772.0,675.1 775.5,670.1 784.6,675.1 794.0,676.3 803.5,665.6 812.6,679.0 822.0,668.6 848.3,684.7 878.4,688.5 910.5,679.0 946.9,680.8 987.5,676.9 1032.7,687.6 1065.9,682.9" fill="none" stroke="#233c7c" stroke-width="1.1" stroke-opacity="0.95" stroke-linejoin="round"/>
<path d="M632.0,901.8V914.5M629.0,901.8h6.0M629.0,914.5h6.0M658.3,921.9V929.0M655.3,921.9h6.0M655.3,929.0h6.0M681.7,926.7V935.5M678.7,926.7h6.0M678.7,935.5h6.0M687.3,931.2V942.4M684.3,931.2h6.0M684.3,942.4h6.0M691.9,928.7V937.1M688.9,928.7h6.0M688.9,937.1h6.0M696.8,934.6V942.5M693.8,934.6h6.0M693.8,942.5h6.0M701.0,929.6V939.7M698.0,929.6h6.0M698.0,939.7h6.0M705.5,902.1V910.6M702.5,902.1h6.0M702.5,910.6h6.0M710.4,916.8V930.0M707.4,916.8h6.0M707.4,930.0h6.0M715.3,860.1V868.6M712.3,860.1h6.0M712.3,868.6h6.0M720.2,863.8V879.8M717.2,863.8h6.0M717.2,879.8h6.0M724.4,918.5V932.4M721.4,918.5h6.0M721.4,932.4h6.0M728.6,773.7V787.0M725.6,773.7h6.0M725.6,787.0h6.0M733.1,740.1V754.9M730.1,740.1h6.0M730.1,754.9h6.0M738.0,731.4V741.1M735.0,731.4h6.0M735.0,741.1h6.0M742.6,703.4V715.4M739.6,703.4h6.0M739.6,715.4h6.0M747.5,698.7V708.7M744.5,698.7h6.0M744.5,708.7h6.0M752.4,677.3V684.3M749.4,677.3h6.0M749.4,684.3h6.0M757.3,680.3V685.4M754.3,680.3h6.0M754.3,685.4h6.0M761.5,677.5V688.3M758.5,677.5h6.0M758.5,688.3h6.0M766.7,673.0V684.9M763.7,673.0h6.0M763.7,684.9h6.0M772.0,670.5V679.8M769.0,670.5h6.0M769.0,679.8h6.0M775.5,665.2V674.9M772.5,665.2h6.0M772.5,674.9h6.0M784.6,670.5V679.8M781.6,670.5h6.0M781.6,679.8h6.0M794.0,669.4V683.2M791.0,669.4h6.0M791.0,683.2h6.0M803.5,661.1V670.1M800.5,661.1h6.0M800.5,670.1h6.0M812.6,676.3V681.7M809.6,676.3h6.0M809.6,681.7h6.0M822.0,660.9V676.2M819.0,660.9h6.0M819.0,676.2h6.0M848.3,677.6V691.7M845.3,677.6h6.0M845.3,691.7h6.0M878.4,685.9V691.2M875.4,685.9h6.0M875.4,691.2h6.0M910.5,673.7V684.3M907.5,673.7h6.0M907.5,684.3h6.0M946.9,675.1V686.4M943.9,675.1h6.0M943.9,686.4h6.0M987.5,670.2V683.6M984.5,670.2h6.0M984.5,683.6h6.0M1032.7,683.3V691.9M1029.7,683.3h6.0M1029.7,691.9h6.0M1065.9,676.9V688.8M1062.9,676.9h6.0M1062.9,688.8h6.0" fill="none" stroke="#233c7c" stroke-width="1.0" stroke-opacity="0.95"/>
</g>
<g clip-path="url(#cpg)">
<polyline points="1181.9,979.7 1208.0,952.5 1231.3,970.6 1236.8,975.2 1241.3,984.3 1246.2,934.4 1250.4,911.7 1254.9,898.1 1259.8,911.7 1264.6,893.6 1269.5,870.9 1273.7,834.6 1277.8,771.1 1282.4,684.9 1287.2,653.2 1291.7,680.4 1296.6,689.5 1301.5,657.7 1306.3,698.5 1310.5,644.1 1315.7,616.9 1320.9,671.3 1324.4,671.3 1333.4,675.9 1342.8,657.7 1352.2,657.7 1361.2,689.5 1370.6,689.5 1396.7,698.5 1426.6,716.7 1458.5,716.7 1494.7,698.5 1535.0,689.5 1579.8,671.3 1612.8,675.9" fill="none" stroke="#b0dcbc" stroke-width="1.1" stroke-opacity="0.55" stroke-linejoin="round"/>
<path d="M1181.9,935.6V1023.8M1178.9,935.6h6.0M1178.9,1023.8h6.0M1208.0,909.1V996.0M1205.0,909.1h6.0M1205.0,996.0h6.0M1231.3,931.6V1009.7M1228.3,931.6h6.0M1228.3,1009.7h6.0M1236.8,928.0V1022.3M1233.8,928.0h6.0M1233.8,1022.3h6.0M1241.3,949.8V1018.8M1238.3,949.8h6.0M1238.3,1018.8h6.0M1246.2,903.2V965.5M1243.2,903.2h6.0M1243.2,965.5h6.0M1250.4,852.0V971.4M1247.4,852.0h6.0M1247.4,971.4h6.0M1254.9,836.9V959.3M1251.9,836.9h6.0M1251.9,959.3h6.0M1259.8,875.2V948.2M1256.8,875.2h6.0M1256.8,948.2h6.0M1264.6,862.2V925.0M1261.6,862.2h6.0M1261.6,925.0h6.0M1269.5,848.3V893.4M1266.5,848.3h6.0M1266.5,893.4h6.0M1273.7,781.9V887.3M1270.7,781.9h6.0M1270.7,887.3h6.0M1277.8,757.6V784.6M1274.8,757.6h6.0M1274.8,784.6h6.0M1282.4,667.5V702.3M1279.4,667.5h6.0M1279.4,702.3h6.0M1287.2,644.8V661.6M1284.2,644.8h6.0M1284.2,661.6h6.0M1291.7,657.8V703.0M1288.7,657.8h6.0M1288.7,703.0h6.0M1296.6,677.3V701.6M1293.6,677.3h6.0M1293.6,701.6h6.0M1301.5,638.1V677.4M1298.5,638.1h6.0M1298.5,677.4h6.0M1306.3,676.8V720.3M1303.3,676.8h6.0M1303.3,720.3h6.0M1310.5,625.5V662.7M1307.5,625.5h6.0M1307.5,662.7h6.0M1315.7,598.8V635.1M1312.7,598.8h6.0M1312.7,635.1h6.0M1320.9,652.4V690.2M1317.9,652.4h6.0M1317.9,690.2h6.0M1324.4,648.1V694.5M1321.4,648.1h6.0M1321.4,694.5h6.0M1333.4,653.5V698.3M1330.4,653.5h6.0M1330.4,698.3h6.0M1342.8,644.3V671.2M1339.8,644.3h6.0M1339.8,671.2h6.0M1352.2,646.3V669.2M1349.2,646.3h6.0M1349.2,669.2h6.0M1361.2,678.1V700.9M1358.2,678.1h6.0M1358.2,700.9h6.0M1370.6,680.5V698.4M1367.6,680.5h6.0M1367.6,698.4h6.0M1396.7,688.2V708.9M1393.7,688.2h6.0M1393.7,708.9h6.0M1426.6,702.4V731.0M1423.6,702.4h6.0M1423.6,731.0h6.0M1458.5,695.1V738.3M1455.5,695.1h6.0M1455.5,738.3h6.0M1494.7,675.8V721.3M1491.7,675.8h6.0M1491.7,721.3h6.0M1535.0,674.2V704.8M1532.0,674.2h6.0M1532.0,704.8h6.0M1579.8,661.8V680.9M1576.8,661.8h6.0M1576.8,680.9h6.0M1612.8,651.9V699.9M1609.8,651.9h6.0M1609.8,699.9h6.0" fill="none" stroke="#b0dcbc" stroke-width="1.0" stroke-opacity="0.55"/>
<polyline points="1181.9,952.5 1208.0,934.4 1231.3,943.4 1236.8,948.0 1241.3,943.4 1246.2,925.3 1250.4,898.1 1254.9,907.2 1259.8,902.6 1264.6,907.2 1269.5,884.5 1273.7,843.7 1277.8,771.1 1282.4,671.3 1287.2,639.6 1291.7,684.9 1296.6,671.3 1301.5,648.7 1306.3,680.4 1310.5,666.8 1315.7,653.2 1320.9,680.4 1324.4,675.9 1333.4,671.3 1342.8,675.9 1352.2,671.3 1361.2,680.4 1370.6,680.4 1396.7,666.8 1426.6,648.7 1458.5,671.3 1494.7,684.9 1535.0,689.5 1579.8,657.7 1612.8,664.5" fill="none" stroke="#78c08a" stroke-width="1.1" stroke-opacity="0.8" stroke-linejoin="round"/>
<path d="M1181.9,911.1V993.9M1178.9,911.1h6.0M1178.9,993.9h6.0M1208.0,892.0V976.7M1205.0,892.0h6.0M1205.0,976.7h6.0M1231.3,904.8V982.1M1228.3,904.8h6.0M1228.3,982.1h6.0M1236.8,927.3V968.7M1233.8,927.3h6.0M1233.8,968.7h6.0M1241.3,915.0V971.9M1238.3,915.0h6.0M1238.3,971.9h6.0M1246.2,886.9V963.7M1243.2,886.9h6.0M1243.2,963.7h6.0M1250.4,871.7V924.4M1247.4,871.7h6.0M1247.4,924.4h6.0M1254.9,861.0V953.3M1251.9,861.0h6.0M1251.9,953.3h6.0M1259.8,885.2V920.1M1256.8,885.2h6.0M1256.8,920.1h6.0M1264.6,859.4V955.0M1261.6,859.4h6.0M1261.6,955.0h6.0M1269.5,834.7V934.3M1266.5,834.7h6.0M1266.5,934.3h6.0M1273.7,812.0V875.4M1270.7,812.0h6.0M1270.7,875.4h6.0M1277.8,762.6V779.6M1274.8,762.6h6.0M1274.8,779.6h6.0M1282.4,654.6V688.1M1279.4,654.6h6.0M1279.4,688.1h6.0M1287.2,622.5V656.7M1284.2,622.5h6.0M1284.2,656.7h6.0M1291.7,668.9V701.0M1288.7,668.9h6.0M1288.7,701.0h6.0M1296.6,656.8V685.8M1293.6,656.8h6.0M1293.6,685.8h6.0M1301.5,638.5V658.8M1298.5,638.5h6.0M1298.5,658.8h6.0M1306.3,674.3V686.6M1303.3,674.3h6.0M1303.3,686.6h6.0M1310.5,655.2V678.4M1307.5,655.2h6.0M1307.5,678.4h6.0M1315.7,639.7V666.7M1312.7,639.7h6.0M1312.7,666.7h6.0M1320.9,667.6V693.2M1317.9,667.6h6.0M1317.9,693.2h6.0M1324.4,659.4V692.3M1321.4,659.4h6.0M1321.4,692.3h6.0M1333.4,658.2V684.5M1330.4,658.2h6.0M1330.4,684.5h6.0M1342.8,665.6V686.2M1339.8,665.6h6.0M1339.8,686.2h6.0M1352.2,659.6V683.0M1349.2,659.6h6.0M1349.2,683.0h6.0M1361.2,662.5V698.3M1358.2,662.5h6.0M1358.2,698.3h6.0M1370.6,673.9V686.9M1367.6,673.9h6.0M1367.6,686.9h6.0M1396.7,650.7V682.9M1393.7,650.7h6.0M1393.7,682.9h6.0M1426.6,628.8V668.6M1423.6,628.8h6.0M1423.6,668.6h6.0M1458.5,655.4V687.2M1455.5,655.4h6.0M1455.5,687.2h6.0M1494.7,675.1V694.8M1491.7,675.1h6.0M1491.7,694.8h6.0M1535.0,680.7V698.3M1532.0,680.7h6.0M1532.0,698.3h6.0M1579.8,650.5V665.0M1576.8,650.5h6.0M1576.8,665.0h6.0M1612.8,647.4V681.7M1609.8,647.4h6.0M1609.8,681.7h6.0" fill="none" stroke="#78c08a" stroke-width="1.0" stroke-opacity="0.8"/>
<polyline points="1181.9,938.9 1208.0,909.4 1231.3,929.8 1236.8,927.6 1241.3,923.0 1246.2,909.4 1250.4,907.2 1254.9,911.7 1259.8,916.2 1264.6,920.8 1269.5,900.4 1273.7,848.2 1277.8,775.6 1282.4,684.9 1287.2,698.5 1291.7,684.9 1296.6,680.4 1301.5,698.5 1306.3,707.6 1310.5,703.1 1315.7,707.6 1320.9,698.5 1324.4,671.3 1333.4,675.9 1342.8,680.4 1352.2,684.9 1361.2,689.5 1370.6,698.5 1396.7,703.1 1426.6,710.3 1458.5,689.0 1494.7,694.9 1535.0,687.2 1579.8,693.1 1612.8,700.8" fill="none" stroke="#4a9c5c" stroke-width="1.1" stroke-opacity="0.85" stroke-linejoin="round"/>
<path d="M1181.9,931.6V946.2M1178.9,931.6h6.0M1178.9,946.2h6.0M1208.0,901.1V917.7M1205.0,901.1h6.0M1205.0,917.7h6.0M1231.3,917.8V941.9M1228.3,917.8h6.0M1228.3,941.9h6.0M1236.8,916.0V939.1M1233.8,916.0h6.0M1233.8,939.1h6.0M1241.3,917.3V928.8M1238.3,917.3h6.0M1238.3,928.8h6.0M1246.2,894.4V924.5M1243.2,894.4h6.0M1243.2,924.5h6.0M1250.4,900.9V913.4M1247.4,900.9h6.0M1247.4,913.4h6.0M1254.9,901.8V921.6M1251.9,901.8h6.0M1251.9,921.6h6.0M1259.8,902.2V930.3M1256.8,902.2h6.0M1256.8,930.3h6.0M1264.6,914.8V926.7M1261.6,914.8h6.0M1261.6,926.7h6.0M1269.5,891.0V909.7M1266.5,891.0h6.0M1266.5,909.7h6.0M1273.7,835.6V860.8M1270.7,835.6h6.0M1270.7,860.8h6.0M1277.8,768.0V783.2M1274.8,768.0h6.0M1274.8,783.2h6.0M1282.4,675.2V694.7M1279.4,675.2h6.0M1279.4,694.7h6.0M1287.2,688.4V708.7M1284.2,688.4h6.0M1284.2,708.7h6.0M1291.7,676.0V693.9M1288.7,676.0h6.0M1288.7,693.9h6.0M1296.6,668.8V692.1M1293.6,668.8h6.0M1293.6,692.1h6.0M1301.5,682.9V714.2M1298.5,682.9h6.0M1298.5,714.2h6.0M1306.3,698.3V717.0M1303.3,698.3h6.0M1303.3,717.0h6.0M1310.5,696.8V709.4M1307.5,696.8h6.0M1307.5,709.4h6.0M1315.7,693.3V721.9M1312.7,693.3h6.0M1312.7,721.9h6.0M1320.9,685.9V711.2M1317.9,685.9h6.0M1317.9,711.2h6.0M1324.4,660.4V682.2M1321.4,660.4h6.0M1321.4,682.2h6.0M1333.4,662.0V689.8M1330.4,662.0h6.0M1330.4,689.8h6.0M1342.8,667.0V693.8M1339.8,667.0h6.0M1339.8,693.8h6.0M1352.2,671.5V698.4M1349.2,671.5h6.0M1349.2,698.4h6.0M1361.2,677.5V701.4M1358.2,677.5h6.0M1358.2,701.4h6.0M1370.6,682.9V714.2M1367.6,682.9h6.0M1367.6,714.2h6.0M1396.7,689.7V716.4M1393.7,689.7h6.0M1393.7,716.4h6.0M1426.6,696.2V724.5M1423.6,696.2h6.0M1423.6,724.5h6.0M1458.5,674.5V703.5M1455.5,674.5h6.0M1455.5,703.5h6.0M1494.7,684.7V705.2M1491.7,684.7h6.0M1491.7,705.2h6.0M1535.0,678.9V695.5M1532.0,678.9h6.0M1532.0,695.5h6.0M1579.8,677.8V708.4M1576.8,677.8h6.0M1576.8,708.4h6.0M1612.8,688.6V713.1M1609.8,688.6h6.0M1609.8,713.1h6.0" fill="none" stroke="#4a9c5c" stroke-width="1.0" stroke-opacity="0.85"/>
<polyline points="1181.9,948.0 1208.0,918.5 1231.3,932.6 1236.8,928.9 1241.3,928.9 1246.2,913.1 1250.4,909.4 1254.9,915.3 1259.8,919.0 1264.6,924.8 1269.5,903.5 1273.7,850.0 1277.8,779.3 1282.4,702.2 1287.2,714.0 1291.7,700.8 1296.6,694.9 1301.5,702.2 1306.3,723.5 1310.5,719.9 1315.7,715.8 1320.9,715.8 1324.4,715.8 1333.4,721.7 1342.8,713.1 1352.2,711.2 1361.2,693.1 1370.6,717.1 1396.7,717.6 1426.6,710.3 1458.5,689.0 1494.7,748.4 1535.0,737.1 1579.8,743.0 1612.8,731.2" fill="none" stroke="#22702e" stroke-width="1.1" stroke-opacity="0.95" stroke-linejoin="round"/>
<path d="M1181.9,939.6V956.3M1178.9,939.6h6.0M1178.9,956.3h6.0M1208.0,909.7V927.3M1205.0,909.7h6.0M1205.0,927.3h6.0M1231.3,927.6V937.5M1228.3,927.6h6.0M1228.3,937.5h6.0M1236.8,925.0V932.9M1233.8,925.0h6.0M1233.8,932.9h6.0M1241.3,923.3V934.5M1238.3,923.3h6.0M1238.3,934.5h6.0M1246.2,908.8V917.4M1243.2,908.8h6.0M1243.2,917.4h6.0M1250.4,900.8V918.0M1247.4,900.8h6.0M1247.4,918.0h6.0M1254.9,909.3V921.3M1251.9,909.3h6.0M1251.9,921.3h6.0M1259.8,914.9V923.0M1256.8,914.9h6.0M1256.8,923.0h6.0M1264.6,920.3V929.4M1261.6,920.3h6.0M1261.6,929.4h6.0M1269.5,895.6V911.4M1266.5,895.6h6.0M1266.5,911.4h6.0M1273.7,846.9V853.2M1270.7,846.9h6.0M1270.7,853.2h6.0M1277.8,770.7V787.8M1274.8,770.7h6.0M1274.8,787.8h6.0M1282.4,695.4V709.0M1279.4,695.4h6.0M1279.4,709.0h6.0M1287.2,705.2V722.7M1284.2,705.2h6.0M1284.2,722.7h6.0M1291.7,695.2V706.5M1288.7,695.2h6.0M1288.7,706.5h6.0M1296.6,690.7V699.2M1293.6,690.7h6.0M1293.6,699.2h6.0M1301.5,698.2V706.1M1298.5,698.2h6.0M1298.5,706.1h6.0M1306.3,717.9V729.1M1303.3,717.9h6.0M1303.3,729.1h6.0M1310.5,712.2V727.5M1307.5,712.2h6.0M1307.5,727.5h6.0M1315.7,709.2V722.4M1312.7,709.2h6.0M1312.7,722.4h6.0M1320.9,705.9V725.6M1317.9,705.9h6.0M1317.9,725.6h6.0M1324.4,706.9V724.6M1321.4,706.9h6.0M1321.4,724.6h6.0M1333.4,718.6V724.8M1330.4,718.6h6.0M1330.4,724.8h6.0M1342.8,703.7V722.4M1339.8,703.7h6.0M1339.8,722.4h6.0M1352.2,705.7V716.8M1349.2,705.7h6.0M1349.2,716.8h6.0M1361.2,688.2V698.0M1358.2,688.2h6.0M1358.2,698.0h6.0M1370.6,712.9V721.4M1367.6,712.9h6.0M1367.6,721.4h6.0M1396.7,713.5V721.6M1393.7,713.5h6.0M1393.7,721.6h6.0M1426.6,703.6V717.1M1423.6,703.6h6.0M1423.6,717.1h6.0M1458.5,685.5V692.6M1455.5,685.5h6.0M1455.5,692.6h6.0M1494.7,740.5V756.3M1491.7,740.5h6.0M1491.7,756.3h6.0M1535.0,730.6V743.6M1532.0,730.6h6.0M1532.0,743.6h6.0M1579.8,738.5V747.4M1576.8,738.5h6.0M1576.8,747.4h6.0M1612.8,723.9V738.5M1609.8,723.9h6.0M1609.8,738.5h6.0" fill="none" stroke="#22702e" stroke-width="1.0" stroke-opacity="0.95"/>
</g>
<g clip-path="url(#cph)">
<polyline points="1725.9,947.8 1752.2,938.3 1775.6,933.5 1781.2,941.9 1785.8,953.8 1790.7,935.9 1794.9,927.6 1799.4,918.0 1804.3,908.5 1809.2,897.8 1814.1,885.9 1818.3,888.2 1822.5,792.9 1827.1,745.2 1832.0,727.3 1836.5,715.4 1841.4,709.4 1846.3,691.6 1851.2,688.0 1855.4,679.6 1860.7,685.6 1865.9,673.7 1869.4,671.3 1878.5,661.8 1888.0,673.7 1897.4,658.2 1906.5,655.8 1916.0,654.6 1942.2,661.8 1972.3,655.8 2004.5,652.2 2040.9,655.8 2081.5,645.1 2126.7,652.2 2159.9,652.2" fill="none" stroke="#cfc6ea" stroke-width="1.1" stroke-opacity="0.55" stroke-linejoin="round"/>
<path d="M1725.9,938.8V956.9M1722.9,938.8h6.0M1722.9,956.9h6.0M1752.2,925.5V951.1M1749.2,925.5h6.0M1749.2,951.1h6.0M1775.6,914.3V952.8M1772.6,914.3h6.0M1772.6,952.8h6.0M1781.2,928.4V955.4M1778.2,928.4h6.0M1778.2,955.4h6.0M1785.8,929.6V978.0M1782.8,929.6h6.0M1782.8,978.0h6.0M1790.7,910.0V961.9M1787.7,910.0h6.0M1787.7,961.9h6.0M1794.9,915.9V939.2M1791.9,915.9h6.0M1791.9,939.2h6.0M1799.4,901.0V935.1M1796.4,901.0h6.0M1796.4,935.1h6.0M1804.3,886.4V930.6M1801.3,886.4h6.0M1801.3,930.6h6.0M1809.2,877.5V918.1M1806.2,877.5h6.0M1806.2,918.1h6.0M1814.1,860.5V911.2M1811.1,860.5h6.0M1811.1,911.2h6.0M1818.3,868.1V908.4M1815.3,868.1h6.0M1815.3,908.4h6.0M1822.5,783.3V802.5M1819.5,783.3h6.0M1819.5,802.5h6.0M1827.1,741.6V748.8M1824.1,741.6h6.0M1824.1,748.8h6.0M1832.0,723.9V730.7M1829.0,723.9h6.0M1829.0,730.7h6.0M1836.5,710.5V720.3M1833.5,710.5h6.0M1833.5,720.3h6.0M1841.4,704.7V714.2M1838.4,704.7h6.0M1838.4,714.2h6.0M1846.3,684.8V698.3M1843.3,684.8h6.0M1843.3,698.3h6.0M1851.2,679.6V696.4M1848.2,679.6h6.0M1848.2,696.4h6.0M1855.4,676.1V683.1M1852.4,676.1h6.0M1852.4,683.1h6.0M1860.7,678.6V692.6M1857.7,678.6h6.0M1857.7,692.6h6.0M1865.9,667.7V679.7M1862.9,667.7h6.0M1862.9,679.7h6.0M1869.4,667.9V674.7M1866.4,667.9h6.0M1866.4,674.7h6.0M1878.5,653.1V670.4M1875.5,653.1h6.0M1875.5,670.4h6.0M1888.0,665.3V682.0M1885.0,665.3h6.0M1885.0,682.0h6.0M1897.4,650.9V665.5M1894.4,650.9h6.0M1894.4,665.5h6.0M1906.5,650.5V661.1M1903.5,650.5h6.0M1903.5,661.1h6.0M1916.0,648.5V660.7M1913.0,648.5h6.0M1913.0,660.7h6.0M1942.2,654.1V669.4M1939.2,654.1h6.0M1939.2,669.4h6.0M1972.3,648.4V663.2M1969.3,648.4h6.0M1969.3,663.2h6.0M2004.5,644.3V660.2M2001.5,644.3h6.0M2001.5,660.2h6.0M2040.9,652.8V658.8M2037.9,652.8h6.0M2037.9,658.8h6.0M2081.5,636.2V653.9M2078.5,636.2h6.0M2078.5,653.9h6.0M2126.7,644.8V659.7M2123.7,644.8h6.0M2123.7,659.7h6.0M2159.9,646.9V657.6M2156.9,646.9h6.0M2156.9,657.6h6.0" fill="none" stroke="#cfc6ea" stroke-width="1.0" stroke-opacity="0.55"/>
<polyline points="1725.9,930.0 1752.2,932.3 1775.6,926.4 1781.2,934.7 1785.8,939.5 1790.7,932.3 1794.9,926.4 1799.4,914.5 1804.3,904.9 1809.2,894.2 1814.1,882.3 1818.3,885.9 1822.5,777.4 1827.1,729.7 1832.0,709.4 1836.5,702.3 1841.4,688.0 1846.3,679.6 1851.2,671.3 1855.4,666.5 1860.7,664.1 1865.9,659.4 1869.4,659.4 1878.5,654.6 1888.0,659.4 1897.4,654.6 1906.5,655.8 1916.0,655.2 1942.2,651.0 1972.3,659.4 2004.5,655.8 2040.9,661.8 2081.5,652.2 2126.7,661.8 2159.9,663.0" fill="none" stroke="#a090d4" stroke-width="1.1" stroke-opacity="0.8" stroke-linejoin="round"/>
<path d="M1725.9,920.2V939.7M1722.9,920.2h6.0M1722.9,939.7h6.0M1752.2,914.5V950.1M1749.2,914.5h6.0M1749.2,950.1h6.0M1775.6,914.1V938.7M1772.6,914.1h6.0M1772.6,938.7h6.0M1781.2,920.5V948.9M1778.2,920.5h6.0M1778.2,948.9h6.0M1785.8,923.6V955.4M1782.8,923.6h6.0M1782.8,955.4h6.0M1790.7,918.5V946.2M1787.7,918.5h6.0M1787.7,946.2h6.0M1794.9,915.2V937.6M1791.9,915.2h6.0M1791.9,937.6h6.0M1799.4,894.1V934.8M1796.4,894.1h6.0M1796.4,934.8h6.0M1804.3,888.1V921.7M1801.3,888.1h6.0M1801.3,921.7h6.0M1809.2,876.8V911.6M1806.2,876.8h6.0M1806.2,911.6h6.0M1814.1,862.8V901.7M1811.1,862.8h6.0M1811.1,901.7h6.0M1818.3,874.0V897.7M1815.3,874.0h6.0M1815.3,897.7h6.0M1822.5,771.7V783.1M1819.5,771.7h6.0M1819.5,783.1h6.0M1827.1,726.4V733.0M1824.1,726.4h6.0M1824.1,733.0h6.0M1832.0,702.6V716.3M1829.0,702.6h6.0M1829.0,716.3h6.0M1836.5,695.0V709.6M1833.5,695.0h6.0M1833.5,709.6h6.0M1841.4,679.1V696.9M1838.4,679.1h6.0M1838.4,696.9h6.0M1846.3,672.4V686.9M1843.3,672.4h6.0M1843.3,686.9h6.0M1851.2,663.0V679.6M1848.2,663.0h6.0M1848.2,679.6h6.0M1855.4,662.1V670.9M1852.4,662.1h6.0M1852.4,670.9h6.0M1860.7,660.4V667.9M1857.7,660.4h6.0M1857.7,667.9h6.0M1865.9,652.6V666.1M1862.9,652.6h6.0M1862.9,666.1h6.0M1869.4,651.2V667.6M1866.4,651.2h6.0M1866.4,667.6h6.0M1878.5,651.0V658.2M1875.5,651.0h6.0M1875.5,658.2h6.0M1888.0,656.1V662.7M1885.0,656.1h6.0M1885.0,662.7h6.0M1897.4,648.6V660.6M1894.4,648.6h6.0M1894.4,660.6h6.0M1906.5,647.1V664.5M1903.5,647.1h6.0M1903.5,664.5h6.0M1916.0,648.7V661.7M1913.0,648.7h6.0M1913.0,661.7h6.0M1942.2,646.8V655.3M1939.2,646.8h6.0M1939.2,655.3h6.0M1972.3,651.9V666.8M1969.3,651.9h6.0M1969.3,666.8h6.0M2004.5,650.5V661.1M2001.5,650.5h6.0M2001.5,661.1h6.0M2040.9,654.2V669.3M2037.9,654.2h6.0M2037.9,669.3h6.0M2081.5,645.7V658.7M2078.5,645.7h6.0M2078.5,658.7h6.0M2126.7,657.2V666.3M2123.7,657.2h6.0M2123.7,666.3h6.0M2159.9,658.2V667.7M2156.9,658.2h6.0M2156.9,667.7h6.0" fill="none" stroke="#a090d4" stroke-width="1.0" stroke-opacity="0.8"/>
<polyline points="1725.9,927.6 1752.2,931.2 1775.6,924.0 1781.2,933.5 1785.8,937.1 1790.7,931.2 1794.9,925.2 1799.4,913.3 1804.3,903.7 1809.2,891.8 1814.1,881.1 1818.3,884.7 1822.5,775.0 1827.1,726.1 1832.0,705.9 1836.5,697.5 1841.4,683.2 1846.3,673.7 1851.2,664.1 1855.4,660.6 1860.7,659.4 1865.9,652.2 1869.4,649.8 1878.5,652.2 1888.0,648.6 1897.4,646.3 1906.5,640.3 1916.0,642.7 1942.2,637.9 1972.3,640.3 2004.5,645.1 2040.9,637.9 2081.5,637.9 2126.7,637.9 2159.9,641.5" fill="none" stroke="#7e68c4" stroke-width="1.1" stroke-opacity="0.85" stroke-linejoin="round"/>
<path d="M1725.9,921.5V933.7M1722.9,921.5h6.0M1722.9,933.7h6.0M1752.2,922.8V939.5M1749.2,922.8h6.0M1749.2,939.5h6.0M1775.6,918.0V930.0M1772.6,918.0h6.0M1772.6,930.0h6.0M1781.2,930.1V937.0M1778.2,930.1h6.0M1778.2,937.0h6.0M1785.8,928.9V945.4M1782.8,928.9h6.0M1782.8,945.4h6.0M1790.7,923.5V938.8M1787.7,923.5h6.0M1787.7,938.8h6.0M1794.9,919.7V930.7M1791.9,919.7h6.0M1791.9,930.7h6.0M1799.4,909.9V916.6M1796.4,909.9h6.0M1796.4,916.6h6.0M1804.3,896.0V911.5M1801.3,896.0h6.0M1801.3,911.5h6.0M1809.2,888.8V894.8M1806.2,888.8h6.0M1806.2,894.8h6.0M1814.1,872.2V890.0M1811.1,872.2h6.0M1811.1,890.0h6.0M1818.3,879.3V890.0M1815.3,879.3h6.0M1815.3,890.0h6.0M1822.5,771.6V778.4M1819.5,771.6h6.0M1819.5,778.4h6.0M1827.1,718.7V733.5M1824.1,718.7h6.0M1824.1,733.5h6.0M1832.0,697.9V713.8M1829.0,697.9h6.0M1829.0,713.8h6.0M1836.5,691.3V703.7M1833.5,691.3h6.0M1833.5,703.7h6.0M1841.4,678.7V687.7M1838.4,678.7h6.0M1838.4,687.7h6.0M1846.3,665.5V681.9M1843.3,665.5h6.0M1843.3,681.9h6.0M1851.2,658.8V669.5M1848.2,658.8h6.0M1848.2,669.5h6.0M1855.4,655.8V665.3M1852.4,655.8h6.0M1852.4,665.3h6.0M1860.7,654.9V663.8M1857.7,654.9h6.0M1857.7,663.8h6.0M1865.9,645.7V658.8M1862.9,645.7h6.0M1862.9,658.8h6.0M1869.4,643.6V656.1M1866.4,643.6h6.0M1866.4,656.1h6.0M1878.5,645.1V659.3M1875.5,645.1h6.0M1875.5,659.3h6.0M1888.0,645.3V652.0M1885.0,645.3h6.0M1885.0,652.0h6.0M1897.4,641.1V651.4M1894.4,641.1h6.0M1894.4,651.4h6.0M1906.5,634.6V646.0M1903.5,634.6h6.0M1903.5,646.0h6.0M1916.0,636.1V649.3M1913.0,636.1h6.0M1913.0,649.3h6.0M1942.2,631.8V644.0M1939.2,631.8h6.0M1939.2,644.0h6.0M1972.3,631.6V649.0M1969.3,631.6h6.0M1969.3,649.0h6.0M2004.5,641.4V648.8M2001.5,641.4h6.0M2001.5,648.8h6.0M2040.9,629.8V646.0M2037.9,629.8h6.0M2037.9,646.0h6.0M2081.5,631.2V644.6M2078.5,631.2h6.0M2078.5,644.6h6.0M2126.7,629.4V646.5M2123.7,629.4h6.0M2123.7,646.5h6.0M2159.9,634.6V648.4M2156.9,634.6h6.0M2156.9,648.4h6.0" fill="none" stroke="#7e68c4" stroke-width="1.0" stroke-opacity="0.85"/>
<polyline points="1725.9,926.3 1752.2,930.1 1775.6,924.4 1781.2,932.0 1785.8,935.8 1790.7,930.1 1794.9,924.4 1799.4,912.9 1804.3,903.3 1809.2,891.7 1814.1,880.3 1818.3,884.1 1822.5,773.0 1827.1,723.1 1832.0,702.0 1836.5,694.4 1841.4,677.1 1846.3,667.5 1851.2,657.9 1855.4,656.0 1860.7,657.9 1865.9,638.8 1869.4,646.4 1878.5,648.3 1888.0,644.5 1897.4,642.6 1906.5,632.9 1916.0,629.1 1942.2,622.7 1972.3,626.5 2004.5,641.4 2040.9,631.0 2081.5,637.9 2126.7,637.9 2159.9,640.5" fill="none" stroke="#5a42ac" stroke-width="1.1" stroke-opacity="0.95" stroke-linejoin="round"/>
<path d="M1725.9,919.5V933.1M1722.9,919.5h6.0M1722.9,933.1h6.0M1752.2,927.4V932.8M1749.2,927.4h6.0M1749.2,932.8h6.0M1775.6,917.3V931.4M1772.6,917.3h6.0M1772.6,931.4h6.0M1781.2,927.2V936.8M1778.2,927.2h6.0M1778.2,936.8h6.0M1785.8,929.4V942.2M1782.8,929.4h6.0M1782.8,942.2h6.0M1790.7,922.2V937.9M1787.7,922.2h6.0M1787.7,937.9h6.0M1794.9,919.6V929.1M1791.9,919.6h6.0M1791.9,929.1h6.0M1799.4,907.7V918.1M1796.4,907.7h6.0M1796.4,918.1h6.0M1804.3,898.2V908.3M1801.3,898.2h6.0M1801.3,908.3h6.0M1809.2,886.7V896.7M1806.2,886.7h6.0M1806.2,896.7h6.0M1814.1,875.8V884.7M1811.1,875.8h6.0M1811.1,884.7h6.0M1818.3,880.1V888.1M1815.3,880.1h6.0M1815.3,888.1h6.0M1822.5,770.0V776.0M1819.5,770.0h6.0M1819.5,776.0h6.0M1827.1,716.1V730.2M1824.1,716.1h6.0M1824.1,730.2h6.0M1832.0,699.3V704.8M1829.0,699.3h6.0M1829.0,704.8h6.0M1836.5,688.9V700.0M1833.5,688.9h6.0M1833.5,700.0h6.0M1841.4,674.4V679.9M1838.4,674.4h6.0M1838.4,679.9h6.0M1846.3,661.8V673.2M1843.3,661.8h6.0M1843.3,673.2h6.0M1851.2,653.1V662.7M1848.2,653.1h6.0M1848.2,662.7h6.0M1855.4,652.3V659.7M1852.4,652.3h6.0M1852.4,659.7h6.0M1860.7,655.4V660.5M1857.7,655.4h6.0M1857.7,660.5h6.0M1865.9,631.8V645.7M1862.9,631.8h6.0M1862.9,645.7h6.0M1869.4,641.0V651.7M1866.4,641.0h6.0M1866.4,651.7h6.0M1878.5,643.3V653.3M1875.5,643.3h6.0M1875.5,653.3h6.0M1888.0,641.4V647.5M1885.0,641.4h6.0M1885.0,647.5h6.0M1897.4,638.6V646.5M1894.4,638.6h6.0M1894.4,646.5h6.0M1906.5,630.3V635.6M1903.5,630.3h6.0M1903.5,635.6h6.0M1916.0,625.9V632.3M1913.0,625.9h6.0M1913.0,632.3h6.0M1942.2,615.0V630.3M1939.2,615.0h6.0M1939.2,630.3h6.0M1972.3,622.7V630.3M1969.3,622.7h6.0M1969.3,630.3h6.0M2004.5,638.8V644.0M2001.5,638.8h6.0M2001.5,644.0h6.0M2040.9,628.3V633.7M2037.9,628.3h6.0M2037.9,633.7h6.0M2081.5,630.1V645.7M2078.5,630.1h6.0M2078.5,645.7h6.0M2126.7,634.7V641.1M2123.7,634.7h6.0M2123.7,641.1h6.0M2159.9,635.0V646.1M2156.9,635.0h6.0M2156.9,646.1h6.0" fill="none" stroke="#5a42ac" stroke-width="1.0" stroke-opacity="0.95"/>
</g>
<path d="M83.9,39.6H509.1V427.4H89.4V39.6" fill="none" stroke="#3d3d3d" stroke-width="1.35"/>
<path d="M77.4,427.4H89.4M77.4,356.7H89.4M77.4,286.0H89.4M77.4,215.4H89.4M77.4,144.7H89.4M77.4,74.0H89.4M83.4,392.1H89.4M83.4,321.4H89.4M83.4,250.7H89.4M83.4,180.0H89.4M83.4,109.3H89.4M96.9,427.4V439.4M171.8,427.4V439.4M246.8,427.4V439.4M321.7,427.4V439.4M396.7,427.4V439.4M471.6,427.4V439.4M111.9,427.4V433.4M126.9,427.4V433.4M141.9,427.4V433.4M156.9,427.4V433.4M186.8,427.4V433.4M201.8,427.4V433.4M216.8,427.4V433.4M231.8,427.4V433.4M261.8,427.4V433.4M276.8,427.4V433.4M291.8,427.4V433.4M306.7,427.4V433.4M336.7,427.4V433.4M351.7,427.4V433.4M366.7,427.4V433.4M381.7,427.4V433.4M411.7,427.4V433.4M426.7,427.4V433.4M441.6,427.4V433.4M456.6,427.4V433.4M486.6,427.4V433.4M501.6,427.4V433.4" fill="none" stroke="#3d3d3d" stroke-width="1.3"/>
<text x="72.8" y="434.0" text-anchor="end">0</text>
<text x="72.8" y="363.3" text-anchor="end">0.2</text>
<text x="72.8" y="292.6" text-anchor="end">0.4</text>
<text x="72.8" y="222.0" text-anchor="end">0.6</text>
<text x="72.8" y="151.3" text-anchor="end">0.8</text>
<text x="72.8" y="80.6" text-anchor="end">1.0</text>
<text x="96.9" y="459.6" text-anchor="middle">0</text>
<text x="171.8" y="459.6" text-anchor="middle">500</text>
<text x="246.8" y="459.6" text-anchor="middle">1000</text>
<text x="321.7" y="459.6" text-anchor="middle">1500</text>
<text x="396.7" y="459.6" text-anchor="middle">2000</text>
<text x="471.6" y="459.6" text-anchor="middle">2500</text>
<text x="299.2" y="492.6" text-anchor="middle" font-size="22.8">Delay time (ps)</text>
<path d="M318.2,66.1H351.6" stroke="#e7a2aa" stroke-width="1.4"/>
<text x="361.8" y="73.3" font-size="22.4">12.9 µJ cm<tspan font-size="16.2" dy="-9.3">-2</tspan></text>
<path d="M318.2,98.8H351.6" stroke="#d98a93" stroke-width="1.4"/>
<text x="361.8" y="105.6" font-size="22.4">40.1 µJ cm<tspan font-size="16.2" dy="-9.3">-2</tspan></text>
<path d="M318.2,130.8H351.6" stroke="#c97a85" stroke-width="1.4"/>
<text x="361.8" y="137.9" font-size="22.4">72.2 µJ cm<tspan font-size="16.2" dy="-9.3">-2</tspan></text>
<path d="M318.2,163.6H351.6" stroke="#9a5a68" stroke-width="1.4"/>
<text x="361.8" y="170.2" font-size="22.4">109.8 µJ cm<tspan font-size="16.2" dy="-9.3">-2</tspan></text>
<text transform="translate(23.0,232.6) rotate(-90)" text-anchor="middle" font-size="22.8">–Δ<tspan font-style="italic">E</tspan>/<tspan font-style="italic">E</tspan> (× 10<tspan font-size="16" dy="-10">-2</tspan><tspan dy="10">)</tspan></text>
<path d="M632.9,37.7H1055.4V426.3H638.4V37.7" fill="none" stroke="#3d3d3d" stroke-width="1.35"/>
<path d="M626.4,414.8H638.4M626.4,356.8H638.4M626.4,298.9H638.4M626.4,240.9H638.4M626.4,182.9H638.4M626.4,124.9H638.4M626.4,67.0H638.4M632.4,385.8H638.4M632.4,327.8H638.4M632.4,269.9H638.4M632.4,211.9H638.4M632.4,153.9H638.4M632.4,96.0H638.4M646.4,426.3V438.3M721.4,426.3V438.3M796.4,426.3V438.3M871.4,426.3V438.3M946.4,426.3V438.3M1021.4,426.3V438.3M661.4,426.3V432.3M676.4,426.3V432.3M691.4,426.3V432.3M706.4,426.3V432.3M736.4,426.3V432.3M751.4,426.3V432.3M766.4,426.3V432.3M781.4,426.3V432.3M811.4,426.3V432.3M826.4,426.3V432.3M841.4,426.3V432.3M856.4,426.3V432.3M886.4,426.3V432.3M901.4,426.3V432.3M916.4,426.3V432.3M931.4,426.3V432.3M961.4,426.3V432.3M976.4,426.3V432.3M991.4,426.3V432.3M1006.4,426.3V432.3M1036.4,426.3V432.3M1051.4,426.3V432.3" fill="none" stroke="#3d3d3d" stroke-width="1.3"/>
<text x="621.8" y="421.4" text-anchor="end">0</text>
<text x="621.8" y="363.4" text-anchor="end">0.1</text>
<text x="621.8" y="305.5" text-anchor="end">0.2</text>
<text x="621.8" y="247.5" text-anchor="end">0.3</text>
<text x="621.8" y="189.5" text-anchor="end">0.4</text>
<text x="621.8" y="131.5" text-anchor="end">0.5</text>
<text x="621.8" y="73.6" text-anchor="end">0.6</text>
<text x="646.4" y="458.5" text-anchor="middle">0</text>
<text x="721.4" y="458.5" text-anchor="middle">500</text>
<text x="796.4" y="458.5" text-anchor="middle">1000</text>
<text x="871.4" y="458.5" text-anchor="middle">1500</text>
<text x="946.4" y="458.5" text-anchor="middle">2000</text>
<text x="1021.4" y="458.5" text-anchor="middle">2500</text>
<text x="846.9" y="491.5" text-anchor="middle" font-size="22.8">Delay time (ps)</text>
<path d="M865.4,70.7H898.7" stroke="#a8cdea" stroke-width="1.4"/>
<text x="909.2" y="77.6" font-size="22.4">23.8 µJ cm<tspan font-size="16.2" dy="-9.3">-2</tspan></text>
<path d="M865.4,103.6H898.7" stroke="#6d9cc0" stroke-width="1.4"/>
<text x="909.2" y="109.9" font-size="22.4">40.1 µJ cm<tspan font-size="16.2" dy="-9.3">-2</tspan></text>
<path d="M865.4,135.6H898.7" stroke="#3b8acb" stroke-width="1.4"/>
<text x="909.2" y="142.2" font-size="22.4">72.2 µJ cm<tspan font-size="16.2" dy="-9.3">-2</tspan></text>
<path d="M865.4,168.2H898.7" stroke="#28478f" stroke-width="1.4"/>
<text x="909.2" y="174.5" font-size="22.4">109.8 µJ cm<tspan font-size="16.2" dy="-9.3">-2</tspan></text>
<text transform="translate(569.0,232.2) rotate(-90)" text-anchor="middle" font-size="22.8">–Δ<tspan font-style="italic">E</tspan>/<tspan font-style="italic">E</tspan> (× 10<tspan font-size="16" dy="-10">-2</tspan><tspan dy="10">)</tspan></text>
<path d="M1185.3,37.7H1602.4V426.2H1185.3V37.7" fill="none" stroke="#3d3d3d" stroke-width="1.35"/>
<path d="M1173.3,406.5H1185.3M1173.3,308.7H1185.3M1173.3,210.9H1185.3M1173.3,113.1H1185.3M1179.3,357.6H1185.3M1179.3,259.8H1185.3M1179.3,162.0H1185.3M1179.3,64.2H1185.3M1192.5,426.2V438.2M1267.1,426.2V438.2M1341.7,426.2V438.2M1416.3,426.2V438.2M1490.9,426.2V438.2M1565.5,426.2V438.2M1207.4,426.2V432.2M1222.3,426.2V432.2M1237.3,426.2V432.2M1252.2,426.2V432.2M1282.0,426.2V432.2M1296.9,426.2V432.2M1311.9,426.2V432.2M1326.8,426.2V432.2M1356.6,426.2V432.2M1371.5,426.2V432.2M1386.5,426.2V432.2M1401.4,426.2V432.2M1431.2,426.2V432.2M1446.1,426.2V432.2M1461.1,426.2V432.2M1476.0,426.2V432.2M1505.8,426.2V432.2M1520.7,426.2V432.2M1535.7,426.2V432.2M1550.6,426.2V432.2M1580.4,426.2V432.2M1595.3,426.2V432.2" fill="none" stroke="#3d3d3d" stroke-width="1.3"/>
<text x="1168.7" y="413.1" text-anchor="end">0</text>
<text x="1168.7" y="315.3" text-anchor="end">0.1</text>
<text x="1168.7" y="217.5" text-anchor="end">0.2</text>
<text x="1168.7" y="119.7" text-anchor="end">0.3</text>
<text x="1192.5" y="458.4" text-anchor="middle">0</text>
<text x="1267.1" y="458.4" text-anchor="middle">500</text>
<text x="1341.7" y="458.4" text-anchor="middle">1000</text>
<text x="1416.3" y="458.4" text-anchor="middle">1500</text>
<text x="1490.9" y="458.4" text-anchor="middle">2000</text>
<text x="1565.5" y="458.4" text-anchor="middle">2500</text>
<text x="1393.8" y="491.4" text-anchor="middle" font-size="22.8">Delay time (ps)</text>
<path d="M1408.1,69.1H1440.0" stroke="#b9e0c8" stroke-width="1.4"/>
<text x="1450.8" y="76.8" font-size="22.4">24.4 µJ cm<tspan font-size="16.2" dy="-9.3">-2</tspan></text>
<path d="M1408.1,102.0H1440.0" stroke="#8fc7a5" stroke-width="1.4"/>
<text x="1450.8" y="109.1" font-size="22.4">44.7 µJ cm<tspan font-size="16.2" dy="-9.3">-2</tspan></text>
<path d="M1408.1,133.9H1440.0" stroke="#6fae8b" stroke-width="1.4"/>
<text x="1450.8" y="141.4" font-size="22.4">73.4 µJ cm<tspan font-size="16.2" dy="-9.3">-2</tspan></text>
<path d="M1408.1,166.3H1440.0" stroke="#4f8f6c" stroke-width="1.4"/>
<text x="1450.8" y="173.7" font-size="22.4">129.4 µJ cm<tspan font-size="16.2" dy="-9.3">-2</tspan></text>
<text transform="translate(1116.3,231.8) rotate(-90)" text-anchor="middle" font-size="22.8">–Δ<tspan font-style="italic">E</tspan>/<tspan font-style="italic">E</tspan> (× 10<tspan font-size="16" dy="-10">-2</tspan><tspan dy="10">)</tspan></text>
<path d="M1725.6,37.7H2145.6V425.9H1725.6V37.7" fill="none" stroke="#3d3d3d" stroke-width="1.35"/>
<path d="M1713.6,393.8H1725.6M1713.6,263.8H1725.6M1713.6,133.8H1725.6M1719.6,419.8H1725.6M1719.6,367.8H1725.6M1719.6,341.8H1725.6M1719.6,315.8H1725.6M1719.6,289.8H1725.6M1719.6,237.8H1725.6M1719.6,211.8H1725.6M1719.6,185.8H1725.6M1719.6,159.8H1725.6M1719.6,107.8H1725.6M1719.6,81.8H1725.6M1719.6,55.8H1725.6M1733.1,425.9V437.9M1808.3,425.9V437.9M1883.5,425.9V437.9M1958.7,425.9V437.9M2033.9,425.9V437.9M2109.1,425.9V437.9M1748.1,425.9V431.9M1763.2,425.9V431.9M1778.2,425.9V431.9M1793.3,425.9V431.9M1823.3,425.9V431.9M1838.4,425.9V431.9M1853.4,425.9V431.9M1868.5,425.9V431.9M1898.5,425.9V431.9M1913.6,425.9V431.9M1928.6,425.9V431.9M1943.7,425.9V431.9M1973.7,425.9V431.9M1988.8,425.9V431.9M2003.8,425.9V431.9M2018.9,425.9V431.9M2048.9,425.9V431.9M2064.0,425.9V431.9M2079.0,425.9V431.9M2094.1,425.9V431.9M2124.1,425.9V431.9M2139.2,425.9V431.9" fill="none" stroke="#3d3d3d" stroke-width="1.3"/>
<text x="1709.0" y="400.4" text-anchor="end">0</text>
<text x="1709.0" y="270.4" text-anchor="end">0.5</text>
<text x="1709.0" y="140.4" text-anchor="end">1.0</text>
<text x="1733.1" y="458.1" text-anchor="middle">0</text>
<text x="1808.3" y="458.1" text-anchor="middle">500</text>
<text x="1883.5" y="458.1" text-anchor="middle">1000</text>
<text x="1958.7" y="458.1" text-anchor="middle">1500</text>
<text x="2033.9" y="458.1" text-anchor="middle">2000</text>
<text x="2109.1" y="458.1" text-anchor="middle">2500</text>
<text x="1935.6" y="491.1" text-anchor="middle" font-size="22.8">Delay time (ps)</text>
<path d="M1957.1,66.3H1990.3" stroke="#cfc8e6" stroke-width="1.4"/>
<text x="2001.8" y="73.3" font-size="22.4">12.9 µJ cm<tspan font-size="16.2" dy="-9.3">-2</tspan></text>
<path d="M1957.1,99.1H1990.3" stroke="#a9a0d0" stroke-width="1.4"/>
<text x="2001.8" y="105.6" font-size="22.4">40.1 µJ cm<tspan font-size="16.2" dy="-9.3">-2</tspan></text>
<path d="M1957.1,130.7H1990.3" stroke="#9488c6" stroke-width="1.4"/>
<text x="2001.8" y="137.9" font-size="22.4">72.2 µJ cm<tspan font-size="16.2" dy="-9.3">-2</tspan></text>
<path d="M1957.1,163.8H1990.3" stroke="#8a76c8" stroke-width="1.4"/>
<text x="2001.8" y="170.2" font-size="22.4">109.8 µJ cm<tspan font-size="16.2" dy="-9.3">-2</tspan></text>
<text transform="translate(1659.6,231.4) rotate(-90)" text-anchor="middle" font-size="22.8">–Δ<tspan font-style="italic">E</tspan>/<tspan font-style="italic">E</tspan> (× 10<tspan font-size="16" dy="-10">-2</tspan><tspan dy="10">)</tspan></text>
<path d="M88.5,571.8H508.4V960.2H88.5V571.8" fill="none" stroke="#3d3d3d" stroke-width="1.35"/>
<path d="M76.5,919.2H88.5M76.5,870.1H88.5M76.5,821.0H88.5M76.5,771.9H88.5M76.5,722.8H88.5M76.5,673.7H88.5M76.5,624.6H88.5M76.5,575.5H88.5M82.5,943.8H88.5M82.5,894.7H88.5M82.5,845.6H88.5M82.5,796.5H88.5M82.5,747.4H88.5M82.5,698.2H88.5M82.5,649.2H88.5M82.5,600.0H88.5M88.5,960.2V972.2M158.5,960.2V972.2M228.5,960.2V972.2M298.5,960.2V972.2M368.4,960.2V972.2M438.4,960.2V972.2M508.4,960.2V972.2M123.5,960.2V966.2M193.5,960.2V966.2M263.5,960.2V966.2M333.5,960.2V966.2M403.4,960.2V966.2M473.4,960.2V966.2" fill="none" stroke="#3d3d3d" stroke-width="1.3"/>
<text x="71.9" y="925.8" text-anchor="end">0</text>
<text x="71.9" y="876.7" text-anchor="end">2</text>
<text x="71.9" y="827.6" text-anchor="end">4</text>
<text x="71.9" y="778.5" text-anchor="end">6</text>
<text x="71.9" y="729.4" text-anchor="end">8</text>
<text x="71.9" y="680.3" text-anchor="end">10</text>
<text x="71.9" y="631.2" text-anchor="end">12</text>
<text x="71.9" y="582.1" text-anchor="end">14</text>
<text x="88.5" y="992.4" text-anchor="middle">−2</text>
<text x="158.5" y="992.4" text-anchor="middle">0</text>
<text x="228.5" y="992.4" text-anchor="middle">2</text>
<text x="298.5" y="992.4" text-anchor="middle">4</text>
<text x="368.4" y="992.4" text-anchor="middle">6</text>
<text x="438.4" y="992.4" text-anchor="middle">8</text>
<text x="508.4" y="992.4" text-anchor="middle">10</text>
<text x="298.4" y="1025.4" text-anchor="middle" font-size="22.8">Delay time (ps)</text>
<text transform="translate(21.4,764.0) rotate(-90)" text-anchor="middle" font-size="22.8">Mobility <tspan font-style="italic">Φ</tspan>Σ<tspan font-style="italic">μ</tspan> (cm<tspan font-size="16" dy="-10">2</tspan><tspan dy="10"> V</tspan><tspan font-size="16" dy="-10">-1</tspan><tspan dy="10"> s</tspan><tspan font-size="16" dy="-10">-1</tspan><tspan dy="10">)</tspan></text>
<path d="M635.5,571.8H1055.4V960.2H635.5V571.8" fill="none" stroke="#3d3d3d" stroke-width="1.35"/>
<path d="M623.5,916.2H635.5M623.5,856.6H635.5M623.5,797.0H635.5M623.5,737.4H635.5M623.5,677.8H635.5M623.5,618.2H635.5M629.5,946.0H635.5M629.5,886.4H635.5M629.5,826.8H635.5M629.5,767.2H635.5M629.5,707.6H635.5M629.5,648.0H635.5M629.5,588.4H635.5M635.5,960.2V972.2M705.5,960.2V972.2M775.5,960.2V972.2M845.5,960.2V972.2M915.4,960.2V972.2M985.4,960.2V972.2M1055.4,960.2V972.2M670.5,960.2V966.2M740.5,960.2V966.2M810.5,960.2V966.2M880.5,960.2V966.2M950.4,960.2V966.2M1020.4,960.2V966.2" fill="none" stroke="#3d3d3d" stroke-width="1.3"/>
<text x="618.9" y="922.8" text-anchor="end">0</text>
<text x="618.9" y="863.2" text-anchor="end">2</text>
<text x="618.9" y="803.6" text-anchor="end">4</text>
<text x="618.9" y="744.0" text-anchor="end">6</text>
<text x="618.9" y="684.4" text-anchor="end">8</text>
<text x="618.9" y="624.8" text-anchor="end">10</text>
<text x="635.5" y="992.4" text-anchor="middle">−2</text>
<text x="705.5" y="992.4" text-anchor="middle">0</text>
<text x="775.5" y="992.4" text-anchor="middle">2</text>
<text x="845.5" y="992.4" text-anchor="middle">4</text>
<text x="915.4" y="992.4" text-anchor="middle">6</text>
<text x="985.4" y="992.4" text-anchor="middle">8</text>
<text x="1055.4" y="992.4" text-anchor="middle">10</text>
<text x="845.5" y="1025.4" text-anchor="middle" font-size="22.8">Delay time (ps)</text>
<text transform="translate(568.4,765.3) rotate(-90)" text-anchor="middle" font-size="22.8">Mobility <tspan font-style="italic">Φ</tspan>Σ<tspan font-style="italic">μ</tspan> (cm<tspan font-size="16" dy="-10">2</tspan><tspan dy="10"> V</tspan><tspan font-size="16" dy="-10">-1</tspan><tspan dy="10"> s</tspan><tspan font-size="16" dy="-10">-1</tspan><tspan dy="10">)</tspan></text>
<path d="M1185.4,571.8H1602.4V960.2H1185.4V571.8" fill="none" stroke="#3d3d3d" stroke-width="1.35"/>
<path d="M1173.4,925.3H1185.4M1173.4,879.9H1185.4M1173.4,834.6H1185.4M1173.4,789.2H1185.4M1173.4,743.9H1185.4M1173.4,698.5H1185.4M1173.4,653.2H1185.4M1173.4,607.8H1185.4M1179.4,948.0H1185.4M1179.4,902.6H1185.4M1179.4,857.3H1185.4M1179.4,811.9H1185.4M1179.4,766.6H1185.4M1179.4,721.2H1185.4M1179.4,675.9H1185.4M1179.4,630.5H1185.4M1179.4,585.2H1185.4M1185.4,960.2V972.2M1254.9,960.2V972.2M1324.4,960.2V972.2M1393.9,960.2V972.2M1463.4,960.2V972.2M1532.9,960.2V972.2M1602.4,960.2V972.2M1220.2,960.2V966.2M1289.7,960.2V966.2M1359.2,960.2V966.2M1428.7,960.2V966.2M1498.2,960.2V966.2M1567.7,960.2V966.2" fill="none" stroke="#3d3d3d" stroke-width="1.3"/>
<text x="1168.8" y="931.9" text-anchor="end">0</text>
<text x="1168.8" y="886.5" text-anchor="end">1</text>
<text x="1168.8" y="841.2" text-anchor="end">2</text>
<text x="1168.8" y="795.9" text-anchor="end">3</text>
<text x="1168.8" y="750.5" text-anchor="end">4</text>
<text x="1168.8" y="705.1" text-anchor="end">5</text>
<text x="1168.8" y="659.8" text-anchor="end">6</text>
<text x="1168.8" y="614.4" text-anchor="end">7</text>
<text x="1185.4" y="992.4" text-anchor="middle">−2</text>
<text x="1254.9" y="992.4" text-anchor="middle">0</text>
<text x="1324.4" y="992.4" text-anchor="middle">2</text>
<text x="1393.9" y="992.4" text-anchor="middle">4</text>
<text x="1463.4" y="992.4" text-anchor="middle">6</text>
<text x="1532.9" y="992.4" text-anchor="middle">8</text>
<text x="1602.4" y="992.4" text-anchor="middle">10</text>
<text x="1393.9" y="1025.4" text-anchor="middle" font-size="22.8">Delay time (ps)</text>
<text transform="translate(1113.8,766.0) rotate(-90)" text-anchor="middle" font-size="22.8">Mobility <tspan font-style="italic">Φ</tspan>Σ<tspan font-style="italic">μ</tspan> (cm<tspan font-size="16" dy="-10">2</tspan><tspan dy="10"> V</tspan><tspan font-size="16" dy="-10">-1</tspan><tspan dy="10"> s</tspan><tspan font-size="16" dy="-10">-1</tspan><tspan dy="10">)</tspan></text>
<path d="M1729.4,571.8H2149.4V960.2H1729.4V571.8" fill="none" stroke="#3d3d3d" stroke-width="1.35"/>
<path d="M1717.4,924.0H1729.4M1717.4,864.4H1729.4M1717.4,804.8H1729.4M1717.4,745.2H1729.4M1717.4,685.6H1729.4M1717.4,626.0H1729.4M1723.4,953.8H1729.4M1723.4,894.2H1729.4M1723.4,834.6H1729.4M1723.4,775.0H1729.4M1723.4,715.4H1729.4M1723.4,655.8H1729.4M1723.4,596.2H1729.4M1729.4,960.2V972.2M1799.4,960.2V972.2M1869.4,960.2V972.2M1939.4,960.2V972.2M2009.4,960.2V972.2M2079.4,960.2V972.2M2149.4,960.2V972.2M1764.4,960.2V966.2M1834.4,960.2V966.2M1904.4,960.2V966.2M1974.4,960.2V966.2M2044.4,960.2V966.2M2114.4,960.2V966.2" fill="none" stroke="#3d3d3d" stroke-width="1.3"/>
<text x="1712.8" y="930.6" text-anchor="end">0</text>
<text x="1712.8" y="871.0" text-anchor="end">5</text>
<text x="1712.8" y="811.4" text-anchor="end">10</text>
<text x="1712.8" y="751.8" text-anchor="end">15</text>
<text x="1712.8" y="692.2" text-anchor="end">20</text>
<text x="1712.8" y="632.6" text-anchor="end">25</text>
<text x="1729.4" y="992.4" text-anchor="middle">−2</text>
<text x="1799.4" y="992.4" text-anchor="middle">0</text>
<text x="1869.4" y="992.4" text-anchor="middle">2</text>
<text x="1939.4" y="992.4" text-anchor="middle">4</text>
<text x="2009.4" y="992.4" text-anchor="middle">6</text>
<text x="2079.4" y="992.4" text-anchor="middle">8</text>
<text x="2149.4" y="992.4" text-anchor="middle">10</text>
<text x="1939.4" y="1025.4" text-anchor="middle" font-size="22.8">Delay time (ps)</text>
<text transform="translate(1662.4,764.6) rotate(-90)" text-anchor="middle" font-size="22.8">Mobility <tspan font-style="italic">Φ</tspan>Σ<tspan font-style="italic">μ</tspan> (cm<tspan font-size="16" dy="-10">2</tspan><tspan dy="10"> V</tspan><tspan font-size="16" dy="-10">-1</tspan><tspan dy="10"> s</tspan><tspan font-size="16" dy="-10">-1</tspan><tspan dy="10">)</tspan></text>
<text x="64.0" y="20.8" font-weight="bold" font-size="26">a</text>
<text x="611.6" y="20.8" font-weight="bold" font-size="26">b</text>
<text x="1164.8" y="20.8" font-weight="bold" font-size="26">c</text>
<text x="1704.4" y="20.8" font-weight="bold" font-size="26">d</text>
<text x="63.7" y="554.4" font-weight="bold" font-size="26">e</text>
<text x="615.0" y="554.4" font-weight="bold" font-size="26">f</text>
<text x="1165.0" y="554.4" font-weight="bold" font-size="26">g</text>
<text x="1705.0" y="554.4" font-weight="bold" font-size="26">h</text>
</svg>
</body></html>
